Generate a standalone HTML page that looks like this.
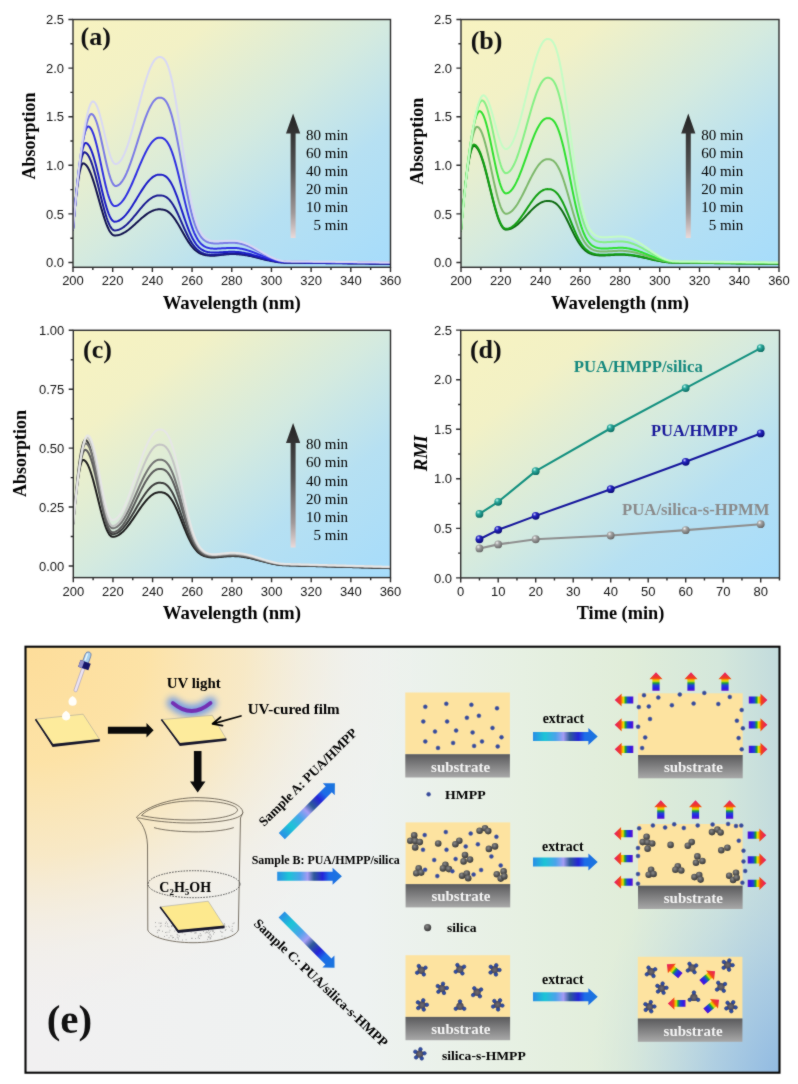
<!DOCTYPE html>
<html><head><meta charset="utf-8"><style>
html,body{margin:0;padding:0;background:#fff;}
svg{display:block;}
</style></head><body>
<svg width="798" height="1084" viewBox="0 0 798 1084">
<defs>
<linearGradient id="pbg" x1="0" y1="0" x2="1" y2="1"><stop offset="0" stop-color="#f8f3c0"/><stop offset="0.22" stop-color="#f2f1c6"/><stop offset="0.5" stop-color="#d4eadf"/><stop offset="0.72" stop-color="#b6e0f2"/><stop offset="1" stop-color="#a6dcfb"/></linearGradient>
<filter id="soft" filterUnits="userSpaceOnUse" x="0" y="0" width="798" height="1084" color-interpolation-filters="sRGB"><feConvolveMatrix order="3" kernelMatrix="1 2 1 2 20 2 1 2 1" divisor="32" edgeMode="duplicate" preserveAlpha="true"/></filter>
<clipPath id="clip_pa"><rect x="73" y="19.5" width="317.5" height="247.8"/></clipPath>
<linearGradient id="pa_arr" x1="0" y1="0" x2="0" y2="1"><stop offset="0" stop-color="#222"/><stop offset="0.45" stop-color="#555"/><stop offset="0.8" stop-color="#a09898"/><stop offset="1" stop-color="#eadada"/></linearGradient>
<clipPath id="clip_pb"><rect x="461" y="19.5" width="318" height="247.8"/></clipPath>
<linearGradient id="pb_arr" x1="0" y1="0" x2="0" y2="1"><stop offset="0" stop-color="#222"/><stop offset="0.45" stop-color="#555"/><stop offset="0.8" stop-color="#a09898"/><stop offset="1" stop-color="#eadada"/></linearGradient>
<clipPath id="clip_pc"><rect x="73.3" y="330.3" width="317.2" height="247.3"/></clipPath>
<linearGradient id="pc_arr" x1="0" y1="0" x2="0" y2="1"><stop offset="0" stop-color="#222"/><stop offset="0.45" stop-color="#555"/><stop offset="0.8" stop-color="#a09898"/><stop offset="1" stop-color="#eadada"/></linearGradient>
<radialGradient id="mt" cx="0.35" cy="0.3" r="0.7"><stop offset="0" stop-color="#bff5ee"/><stop offset="0.35" stop-color="#2aa89c"/><stop offset="1" stop-color="#0c6e64"/></radialGradient>
<radialGradient id="mn" cx="0.35" cy="0.3" r="0.7"><stop offset="0" stop-color="#c8c8ff"/><stop offset="0.35" stop-color="#2424c0"/><stop offset="1" stop-color="#0a0a78"/></radialGradient>
<radialGradient id="mg" cx="0.35" cy="0.3" r="0.7"><stop offset="0" stop-color="#f4f4f4"/><stop offset="0.35" stop-color="#a4a4a4"/><stop offset="1" stop-color="#6a6a6a"/></radialGradient>
<linearGradient id="ebase" x1="0" y1="0" x2="1" y2="0"><stop offset="0" stop-color="#f1f0f1"/><stop offset="0.45" stop-color="#eef2f1"/><stop offset="0.66" stop-color="#e6f0e2"/><stop offset="0.8" stop-color="#e0edd9"/><stop offset="0.92" stop-color="#d4e7db"/><stop offset="1" stop-color="#c2dbdd"/></linearGradient>
<radialGradient id="eorange" gradientUnits="userSpaceOnUse" cx="26" cy="648" r="400" gradientTransform="translate(26 648) scale(1 0.95) translate(-26 -648)"><stop offset="0" stop-color="#fddd9a" stop-opacity="1"/><stop offset="0.3" stop-color="#fde2a4" stop-opacity="0.97"/><stop offset="0.55" stop-color="#fae6b8" stop-opacity="0.75"/><stop offset="0.8" stop-color="#f4ecdc" stop-opacity="0.3"/><stop offset="1" stop-color="#f2eeea" stop-opacity="0"/></radialGradient>
<radialGradient id="eblue" gradientUnits="userSpaceOnUse" cx="795" cy="1090" r="230" gradientTransform="translate(795 1090) scale(0.9 1.25) translate(-795 -1090)"><stop offset="0" stop-color="#88b4e2" stop-opacity="1"/><stop offset="0.4" stop-color="#a2c6e4" stop-opacity="0.75"/><stop offset="1" stop-color="#c8dfe4" stop-opacity="0"/></radialGradient>
<linearGradient id="garr" x1="0" y1="0" x2="1" y2="0"><stop offset="0" stop-color="#2a8ee6"/><stop offset="0.18" stop-color="#1cc4d6"/><stop offset="0.35" stop-color="#4aa4ea"/><stop offset="0.47" stop-color="#a49cf4"/><stop offset="0.57" stop-color="#2e5a98"/><stop offset="0.7" stop-color="#2424d8"/><stop offset="0.8" stop-color="#1c6ce8"/><stop offset="1" stop-color="#1a76dc"/></linearGradient>
<linearGradient id="grain" x1="0" y1="0" x2="1" y2="0"><stop offset="0" stop-color="#6410cc"/><stop offset="0.14" stop-color="#2a1ee6"/><stop offset="0.3" stop-color="#2040d8"/><stop offset="0.42" stop-color="#16a040"/><stop offset="0.52" stop-color="#e4e400"/><stop offset="0.6" stop-color="#f8a400"/><stop offset="0.67" stop-color="#f04418"/><stop offset="1" stop-color="#e8186e"/></linearGradient>
<linearGradient id="gsub" x1="0" y1="0" x2="0" y2="1"><stop offset="0" stop-color="#5a5a5c"/><stop offset="1" stop-color="#a8a8a8"/></linearGradient>
<radialGradient id="gsil" cx="0.4" cy="0.35" r="0.65"><stop offset="0" stop-color="#8a8a8a"/><stop offset="0.6" stop-color="#555"/><stop offset="1" stop-color="#3a3a3a"/></radialGradient>
<radialGradient id="gstar" cx="0.5" cy="0.5" r="0.5"><stop offset="0" stop-color="#6c6a70"/><stop offset="1" stop-color="#4e4a58"/></radialGradient>
<g id="rarr"><path d="M0 -3.6 H11.6 V-6.6 L18.6 0 L11.6 6.6 V3.6 H0 Z" fill="url(#grain)"/></g>
<g id="barr"><path d="M0 -4.5 H55.4 V-8.5 L64.7 0 L55.4 8.5 V4.5 H0 Z" fill="url(#garr)"/></g>
<filter id="blur3" filterUnits="userSpaceOnUse" x="150" y="680" width="85" height="60"><feGaussianBlur stdDeviation="3.2"/></filter>
<g id="barrd"><path d="M0 -4.3 H66.3 V-8.5 L75 0 L66.3 8.5 V4.3 H0 Z" fill="url(#garr)"/></g>
</defs>
<g filter="url(#soft)">
<rect width="798" height="1084" fill="#fff"/>
<rect x="73" y="19.5" width="317.5" height="247.8" fill="url(#pbg)"/>
<text x="80.5" y="45.2" font-family="'Liberation Serif', serif" font-weight="bold" font-size="26" fill="#111">(a)</text>
<g clip-path="url(#clip_pa)">
<path d="M73 229.45 L73.5 223.62 L73.99 218.03 L74.49 212.69 L74.98 207.59 L75.48 202.74 L75.98 198.14 L76.47 193.79 L76.97 189.71 L77.46 185.89 L77.96 182.34 L78.46 179.06 L78.95 176.06 L79.45 173.34 L79.95 170.92 L80.44 168.81 L80.94 167 L81.43 165.53 L81.93 164.4 L82.43 163.66 L82.92 163.36 L83.42 163.4 L83.91 163.53 L84.41 163.75 L84.91 164.05 L85.4 164.44 L85.9 164.91 L86.39 165.46 L86.89 166.1 L87.39 166.82 L87.88 167.61 L88.38 168.49 L88.88 169.43 L89.37 170.45 L89.87 171.54 L90.36 172.7 L90.86 173.92 L91.36 175.2 L91.85 176.54 L92.35 177.94 L92.84 179.38 L93.34 180.88 L93.84 182.42 L94.33 184 L94.83 185.62 L95.32 187.27 L95.82 188.95 L96.32 190.66 L96.81 192.38 L97.31 194.13 L97.8 195.88 L98.3 197.65 L98.8 199.42 L99.29 201.19 L99.79 202.95 L100.29 204.71 L100.78 206.45 L101.28 208.18 L101.77 209.89 L102.27 211.57 L102.77 213.22 L103.76 216.42 L104.75 219.45 L105.74 222.29 L106.73 224.92 L107.73 227.29 L108.72 229.4 L109.71 231.22 L110.7 232.73 L111.7 233.93 L112.69 234.79 L113.68 235.3 L114.67 235.48 L115.66 235.45 L116.66 235.35 L117.65 235.19 L118.64 234.97 L119.63 234.69 L120.62 234.35 L121.62 233.95 L122.61 233.49 L123.6 232.98 L124.59 232.42 L125.59 231.81 L126.58 231.15 L127.57 230.45 L128.56 229.72 L129.55 228.94 L130.55 228.14 L131.54 227.3 L132.53 226.44 L133.52 225.57 L134.52 224.68 L135.51 223.77 L136.5 222.86 L137.49 221.95 L138.48 221.04 L139.48 220.13 L140.47 219.24 L141.46 218.37 L142.45 217.51 L143.45 216.67 L144.44 215.87 L145.43 215.09 L146.42 214.36 L147.41 213.66 L148.41 213 L149.4 212.39 L150.39 211.83 L151.38 211.32 L152.38 210.86 L153.37 210.46 L154.36 210.12 L155.35 209.84 L156.34 209.62 L157.34 209.46 L158.33 209.36 L159.32 209.33 L160.31 209.34 L161.3 209.38 L162.3 209.48 L163.29 209.65 L164.28 209.89 L165.27 210.23 L166.27 210.66 L167.26 211.2 L168.25 211.85 L169.24 212.62 L170.23 213.5 L171.23 214.49 L172.22 215.61 L173.21 216.83 L174.2 218.15 L175.2 219.57 L176.19 221.08 L177.18 222.66 L178.17 224.32 L179.16 226.02 L180.16 227.76 L181.15 229.53 L182.14 231.3 L183.13 233.07 L184.12 234.83 L185.12 236.55 L186.11 238.23 L187.1 239.85 L188.09 241.41 L189.09 242.89 L190.08 244.29 L191.07 245.6 L192.06 246.82 L193.05 247.95 L194.05 248.98 L195.04 249.92 L196.03 250.77 L197.02 251.53 L198.02 252.21 L199.01 252.8 L200 253.32 L200.99 253.77 L201.98 254.16 L202.98 254.49 L203.97 254.77 L204.96 255 L205.95 255.2 L206.95 255.36 L207.94 255.49 L208.93 255.6 L209.92 255.68 L210.91 255.72 L211.91 255.74 L212.9 255.72 L213.89 255.69 L214.88 255.63 L215.88 255.55 L216.87 255.46 L217.86 255.36 L218.85 255.25 L219.84 255.13 L220.84 255 L221.83 254.88 L222.82 254.76 L223.81 254.64 L224.8 254.53 L225.8 254.42 L226.79 254.33 L227.78 254.24 L228.77 254.17 L229.77 254.12 L230.76 254.08 L231.75 254.05 L232.74 254.04 L233.73 254.05 L234.73 254.07 L235.72 254.11 L236.71 254.16 L237.7 254.22 L238.7 254.3 L239.69 254.38 L240.68 254.49 L241.67 254.6 L242.66 254.73 L243.66 254.87 L244.65 255.02 L245.64 255.18 L246.63 255.35 L247.62 255.54 L248.62 255.73 L249.61 255.93 L250.6 256.14 L251.59 256.35 L252.59 256.57 L253.58 256.8 L254.57 257.03 L255.56 257.27 L256.55 257.51 L257.55 257.75 L258.54 258 L259.53 258.25 L260.52 258.49 L261.52 258.74 L262.51 258.98 L263.5 259.23 L264.49 259.47 L265.48 259.71 L266.48 259.94 L267.47 260.17 L268.46 260.39 L269.45 260.6 L270.45 260.81 L271.44 261.01 L272.43 261.2 L273.42 261.38 L274.41 261.56 L275.41 261.72 L276.4 261.87 L277.39 262.01 L278.38 262.14 L279.38 262.25 L280.37 262.35 L281.36 262.44 L282.35 262.52 L283.34 262.58 L284.34 262.63 L285.33 262.67 L286.32 262.69 L287.31 262.69 L288.3 262.71 L289.3 262.72 L290.29 262.73 L291.28 262.74 L292.27 262.75 L293.27 262.76 L294.26 262.77 L295.25 262.78 L296.24 262.8 L297.23 262.81 L298.23 262.82 L299.22 262.83 L300.21 262.84 L301.2 262.85 L302.2 262.86 L303.19 262.87 L304.18 262.89 L305.17 262.9 L306.16 262.91 L307.16 262.92 L308.15 262.93 L309.14 262.94 L310.13 262.95 L311.12 262.96 L312.12 262.97 L313.11 262.99 L314.1 263 L315.09 263.01 L316.09 263.02 L317.08 263.03 L318.07 263.04 L319.06 263.05 L320.05 263.06 L321.05 263.08 L322.04 263.09 L323.03 263.1 L324.02 263.11 L325.02 263.12 L326.01 263.13 L327 263.14 L327.99 263.15 L328.98 263.17 L329.98 263.18 L330.97 263.19 L331.96 263.2 L332.95 263.21 L333.95 263.22 L334.94 263.23 L335.93 263.24 L336.92 263.26 L337.91 263.27 L338.91 263.28 L339.9 263.29 L340.89 263.3 L341.88 263.31 L342.88 263.32 L343.87 263.33 L344.86 263.34 L345.85 263.36 L346.84 263.37 L347.84 263.38 L348.83 263.39 L349.82 263.4 L350.81 263.41 L351.8 263.42 L352.8 263.43 L353.79 263.45 L354.78 263.46 L355.77 263.47 L356.77 263.48 L357.76 263.49 L358.75 263.5 L359.74 263.51 L360.73 263.52 L361.73 263.54 L362.72 263.55 L363.71 263.56 L364.7 263.57 L365.7 263.58 L366.69 263.59 L367.68 263.6 L368.67 263.61 L369.66 263.63 L370.66 263.64 L371.65 263.65 L372.64 263.66 L373.63 263.67 L374.62 263.68 L375.62 263.69 L376.61 263.7 L377.6 263.71 L378.59 263.73 L379.59 263.74 L380.58 263.75 L381.57 263.76 L382.56 263.77 L383.55 263.78 L384.55 263.79 L385.54 263.8 L386.53 263.82 L387.52 263.83 L388.52 263.84 L389.51 263.85 L390.5 263.86" fill="none" stroke="#12124e" stroke-width="2.0" stroke-linejoin="round" stroke-linecap="round"/>
<path d="M73 229.45 L73.5 223.47 L73.99 217.7 L74.49 212.14 L74.98 206.81 L75.48 201.7 L75.98 196.82 L76.47 192.16 L76.97 187.73 L77.46 183.54 L77.96 179.58 L78.46 175.86 L78.95 172.38 L79.45 169.16 L79.95 166.18 L80.44 163.47 L80.94 161.02 L81.43 158.84 L81.93 156.95 L82.43 155.34 L82.92 154.05 L83.42 153.07 L83.91 152.46 L84.41 152.28 L84.91 152.35 L85.4 152.52 L85.9 152.8 L86.39 153.18 L86.89 153.66 L87.39 154.24 L87.88 154.91 L88.38 155.69 L88.88 156.55 L89.37 157.51 L89.87 158.56 L90.36 159.69 L90.86 160.91 L91.36 162.2 L91.85 163.58 L92.35 165.03 L92.84 166.54 L93.34 168.12 L93.84 169.77 L94.33 171.47 L94.83 173.22 L95.32 175.02 L95.82 176.86 L96.32 178.74 L96.81 180.66 L97.31 182.6 L97.8 184.56 L98.3 186.55 L98.8 188.54 L99.29 190.55 L99.79 192.55 L100.29 194.56 L100.78 196.55 L101.28 198.53 L101.77 200.49 L102.27 202.43 L102.77 204.34 L103.76 208.04 L104.75 211.58 L105.74 214.9 L106.73 217.97 L107.73 220.76 L108.72 223.24 L109.71 225.39 L110.7 227.18 L111.7 228.59 L112.69 229.6 L113.68 230.22 L114.67 230.42 L115.66 230.38 L116.66 230.25 L117.65 230.04 L118.64 229.75 L119.63 229.37 L120.62 228.91 L121.62 228.38 L122.61 227.77 L123.6 227.08 L124.59 226.33 L125.59 225.51 L126.58 224.64 L127.57 223.7 L128.56 222.71 L129.55 221.68 L130.55 220.6 L131.54 219.48 L132.53 218.33 L133.52 217.16 L134.52 215.97 L135.51 214.76 L136.5 213.54 L137.49 212.32 L138.48 211.1 L139.48 209.89 L140.47 208.7 L141.46 207.52 L142.45 206.37 L143.45 205.26 L144.44 204.18 L145.43 203.14 L146.42 202.16 L147.41 201.22 L148.41 200.34 L149.4 199.53 L150.39 198.77 L151.38 198.09 L152.38 197.48 L153.37 196.94 L154.36 196.49 L155.35 196.11 L156.34 195.81 L157.34 195.6 L158.33 195.47 L159.32 195.43 L160.31 195.44 L161.3 195.5 L162.3 195.62 L163.29 195.83 L164.28 196.15 L165.27 196.58 L166.27 197.13 L167.26 197.83 L168.25 198.66 L169.24 199.64 L170.23 200.77 L171.23 202.05 L172.22 203.47 L173.21 205.03 L174.2 206.73 L175.2 208.55 L176.19 210.48 L177.18 212.52 L178.17 214.63 L179.16 216.81 L180.16 219.04 L181.15 221.31 L182.14 223.58 L183.13 225.85 L184.12 228.1 L185.12 230.3 L186.11 232.45 L187.1 234.53 L188.09 236.53 L189.09 238.43 L190.08 240.22 L191.07 241.9 L192.06 243.47 L193.05 244.91 L194.05 246.24 L195.04 247.44 L196.03 248.53 L197.02 249.5 L198.02 250.36 L199.01 251.13 L200 251.79 L200.99 252.37 L201.98 252.87 L202.98 253.29 L203.97 253.65 L204.96 253.95 L205.95 254.2 L206.95 254.41 L207.94 254.58 L208.93 254.71 L209.92 254.82 L210.91 254.89 L211.91 254.92 L212.9 254.93 L213.89 254.91 L214.88 254.87 L215.88 254.82 L216.87 254.75 L217.86 254.66 L218.85 254.57 L219.84 254.47 L220.84 254.37 L221.83 254.27 L222.82 254.16 L223.81 254.06 L224.8 253.97 L225.8 253.88 L226.79 253.8 L227.78 253.73 L228.77 253.67 L229.77 253.62 L230.76 253.59 L231.75 253.56 L232.74 253.56 L233.73 253.56 L234.73 253.59 L235.72 253.62 L236.71 253.67 L237.7 253.74 L238.7 253.82 L239.69 253.91 L240.68 254.02 L241.67 254.14 L242.66 254.27 L243.66 254.41 L244.65 254.57 L245.64 254.73 L246.63 254.91 L247.62 255.1 L248.62 255.3 L249.61 255.51 L250.6 255.72 L251.59 255.94 L252.59 256.17 L253.58 256.41 L254.57 256.65 L255.56 256.89 L256.55 257.14 L257.55 257.39 L258.54 257.65 L259.53 257.9 L260.52 258.16 L261.52 258.41 L262.51 258.67 L263.5 258.92 L264.49 259.17 L265.48 259.41 L266.48 259.65 L267.47 259.89 L268.46 260.12 L269.45 260.34 L270.45 260.55 L271.44 260.76 L272.43 260.96 L273.42 261.14 L274.41 261.32 L275.41 261.49 L276.4 261.65 L277.39 261.79 L278.38 261.92 L279.38 262.04 L280.37 262.15 L281.36 262.24 L282.35 262.32 L283.34 262.38 L284.34 262.43 L285.33 262.47 L286.32 262.49 L287.31 262.5 L288.3 262.51 L289.3 262.52 L290.29 262.53 L291.28 262.54 L292.27 262.56 L293.27 262.57 L294.26 262.58 L295.25 262.59 L296.24 262.6 L297.23 262.61 L298.23 262.62 L299.22 262.63 L300.21 262.65 L301.2 262.66 L302.2 262.67 L303.19 262.68 L304.18 262.69 L305.17 262.7 L306.16 262.71 L307.16 262.72 L308.15 262.74 L309.14 262.75 L310.13 262.76 L311.12 262.77 L312.12 262.78 L313.11 262.79 L314.1 262.8 L315.09 262.81 L316.09 262.83 L317.08 262.84 L318.07 262.85 L319.06 262.86 L320.05 262.87 L321.05 262.88 L322.04 262.89 L323.03 262.9 L324.02 262.91 L325.02 262.93 L326.01 262.94 L327 262.95 L327.99 262.96 L328.98 262.97 L329.98 262.98 L330.97 262.99 L331.96 263 L332.95 263.02 L333.95 263.03 L334.94 263.04 L335.93 263.05 L336.92 263.06 L337.91 263.07 L338.91 263.08 L339.9 263.09 L340.89 263.11 L341.88 263.12 L342.88 263.13 L343.87 263.14 L344.86 263.15 L345.85 263.16 L346.84 263.17 L347.84 263.18 L348.83 263.2 L349.82 263.21 L350.81 263.22 L351.8 263.23 L352.8 263.24 L353.79 263.25 L354.78 263.26 L355.77 263.27 L356.77 263.29 L357.76 263.3 L358.75 263.31 L359.74 263.32 L360.73 263.33 L361.73 263.34 L362.72 263.35 L363.71 263.36 L364.7 263.37 L365.7 263.39 L366.69 263.4 L367.68 263.41 L368.67 263.42 L369.66 263.43 L370.66 263.44 L371.65 263.45 L372.64 263.46 L373.63 263.48 L374.62 263.49 L375.62 263.5 L376.61 263.51 L377.6 263.52 L378.59 263.53 L379.59 263.54 L380.58 263.55 L381.57 263.57 L382.56 263.58 L383.55 263.59 L384.55 263.6 L385.54 263.61 L386.53 263.62 L387.52 263.63 L388.52 263.64 L389.51 263.66 L390.5 263.67" fill="none" stroke="#1a1a92" stroke-width="2.0" stroke-linejoin="round" stroke-linecap="round"/>
<path d="M73 229.45 L73.5 223.37 L73.99 217.49 L74.49 211.8 L74.98 206.32 L75.48 201.04 L75.98 195.97 L76.47 191.1 L76.97 186.44 L77.46 182 L77.96 177.77 L78.46 173.75 L78.95 169.96 L79.45 166.39 L79.95 163.04 L80.44 159.93 L80.94 157.05 L81.43 154.41 L81.93 152.02 L82.43 149.88 L82.92 147.99 L83.42 146.38 L83.91 145.05 L84.41 144.02 L84.91 143.3 L85.4 142.96 L85.9 142.98 L86.39 143.13 L86.89 143.38 L87.39 143.75 L87.88 144.23 L88.38 144.82 L88.88 145.51 L89.37 146.31 L89.87 147.22 L90.36 148.22 L90.86 149.32 L91.36 150.51 L91.85 151.8 L92.35 153.17 L92.84 154.62 L93.34 156.16 L93.84 157.77 L94.33 159.44 L94.83 161.19 L95.32 162.99 L95.82 164.85 L96.32 166.76 L96.81 168.71 L97.31 170.71 L97.8 172.73 L98.3 174.78 L98.8 176.86 L99.29 178.95 L99.79 181.05 L100.29 183.15 L100.78 185.25 L101.28 187.34 L101.77 189.42 L102.27 191.48 L102.77 193.51 L103.76 197.47 L104.75 201.26 L105.74 204.83 L106.73 208.15 L107.73 211.17 L108.72 213.86 L109.71 216.19 L110.7 218.13 L111.7 219.67 L112.69 220.78 L113.68 221.45 L114.67 221.68 L115.66 221.62 L116.66 221.45 L117.65 221.16 L118.64 220.76 L119.63 220.26 L120.62 219.64 L121.62 218.92 L122.61 218.1 L123.6 217.18 L124.59 216.17 L125.59 215.07 L126.58 213.89 L127.57 212.64 L128.56 211.31 L129.55 209.91 L130.55 208.47 L131.54 206.97 L132.53 205.42 L133.52 203.84 L134.52 202.24 L135.51 200.61 L136.5 198.97 L137.49 197.33 L138.48 195.69 L139.48 194.07 L140.47 192.46 L141.46 190.88 L142.45 189.34 L143.45 187.84 L144.44 186.39 L145.43 185 L146.42 183.67 L147.41 182.41 L148.41 181.23 L149.4 180.13 L150.39 179.12 L151.38 178.21 L152.38 177.38 L153.37 176.66 L154.36 176.05 L155.35 175.54 L156.34 175.15 L157.34 174.86 L158.33 174.69 L159.32 174.63 L160.31 174.65 L161.3 174.72 L162.3 174.88 L163.29 175.16 L164.28 175.57 L165.27 176.13 L166.27 176.86 L167.26 177.76 L168.25 178.85 L169.24 180.13 L170.23 181.61 L171.23 183.28 L172.22 185.14 L173.21 187.18 L174.2 189.4 L175.2 191.78 L176.19 194.31 L177.18 196.96 L178.17 199.73 L179.16 202.58 L180.16 205.5 L181.15 208.46 L182.14 211.43 L183.13 214.4 L184.12 217.34 L185.12 220.22 L186.11 223.03 L187.1 225.75 L188.09 228.36 L189.09 230.84 L190.08 233.18 L191.07 235.38 L192.06 237.43 L193.05 239.32 L194.05 241.05 L195.04 242.62 L196.03 244.04 L197.02 245.32 L198.02 246.45 L199.01 247.44 L200 248.31 L200.99 249.07 L201.98 249.72 L202.98 250.27 L203.97 250.74 L204.96 251.13 L205.95 251.46 L206.95 251.73 L207.94 251.95 L208.93 252.13 L209.92 252.27 L210.91 252.38 L211.91 252.45 L212.9 252.49 L213.89 252.51 L214.88 252.51 L215.88 252.5 L216.87 252.47 L217.86 252.43 L218.85 252.38 L219.84 252.33 L220.84 252.28 L221.83 252.22 L222.82 252.16 L223.81 252.1 L224.8 252.05 L225.8 252 L226.79 251.95 L227.78 251.91 L228.77 251.87 L229.77 251.84 L230.76 251.82 L231.75 251.81 L232.74 251.81 L233.73 251.82 L234.73 251.84 L235.72 251.88 L236.71 251.94 L237.7 252.02 L238.7 252.11 L239.69 252.22 L240.68 252.34 L241.67 252.48 L242.66 252.63 L243.66 252.8 L244.65 252.98 L245.64 253.18 L246.63 253.38 L247.62 253.6 L248.62 253.83 L249.61 254.07 L250.6 254.32 L251.59 254.58 L252.59 254.85 L253.58 255.12 L254.57 255.4 L255.56 255.69 L256.55 255.98 L257.55 256.27 L258.54 256.56 L259.53 256.86 L260.52 257.16 L261.52 257.45 L262.51 257.75 L263.5 258.04 L264.49 258.33 L265.48 258.62 L266.48 258.89 L267.47 259.17 L268.46 259.43 L269.45 259.69 L270.45 259.94 L271.44 260.18 L272.43 260.41 L273.42 260.63 L274.41 260.84 L275.41 261.03 L276.4 261.22 L277.39 261.38 L278.38 261.54 L279.38 261.67 L280.37 261.8 L281.36 261.91 L282.35 262 L283.34 262.07 L284.34 262.13 L285.33 262.17 L286.32 262.2 L287.31 262.21 L288.3 262.22 L289.3 262.23 L290.29 262.24 L291.28 262.25 L292.27 262.26 L293.27 262.28 L294.26 262.29 L295.25 262.3 L296.24 262.31 L297.23 262.32 L298.23 262.33 L299.22 262.34 L300.21 262.35 L301.2 262.37 L302.2 262.38 L303.19 262.39 L304.18 262.4 L305.17 262.41 L306.16 262.42 L307.16 262.43 L308.15 262.44 L309.14 262.46 L310.13 262.47 L311.12 262.48 L312.12 262.49 L313.11 262.5 L314.1 262.51 L315.09 262.52 L316.09 262.53 L317.08 262.54 L318.07 262.56 L319.06 262.57 L320.05 262.58 L321.05 262.59 L322.04 262.6 L323.03 262.61 L324.02 262.62 L325.02 262.63 L326.01 262.65 L327 262.66 L327.99 262.67 L328.98 262.68 L329.98 262.69 L330.97 262.7 L331.96 262.71 L332.95 262.72 L333.95 262.74 L334.94 262.75 L335.93 262.76 L336.92 262.77 L337.91 262.78 L338.91 262.79 L339.9 262.8 L340.89 262.81 L341.88 262.83 L342.88 262.84 L343.87 262.85 L344.86 262.86 L345.85 262.87 L346.84 262.88 L347.84 262.89 L348.83 262.9 L349.82 262.91 L350.81 262.93 L351.8 262.94 L352.8 262.95 L353.79 262.96 L354.78 262.97 L355.77 262.98 L356.77 262.99 L357.76 263 L358.75 263.02 L359.74 263.03 L360.73 263.04 L361.73 263.05 L362.72 263.06 L363.71 263.07 L364.7 263.08 L365.7 263.09 L366.69 263.11 L367.68 263.12 L368.67 263.13 L369.66 263.14 L370.66 263.15 L371.65 263.16 L372.64 263.17 L373.63 263.18 L374.62 263.2 L375.62 263.21 L376.61 263.22 L377.6 263.23 L378.59 263.24 L379.59 263.25 L380.58 263.26 L381.57 263.27 L382.56 263.29 L383.55 263.3 L384.55 263.31 L385.54 263.32 L386.53 263.33 L387.52 263.34 L388.52 263.35 L389.51 263.36 L390.5 263.37" fill="none" stroke="#1c1cc8" stroke-width="2.0" stroke-linejoin="round" stroke-linecap="round"/>
<path d="M73 229.45 L73.5 223.43 L73.99 217.57 L74.49 211.88 L74.98 206.35 L75.48 200.98 L75.98 195.78 L76.47 190.75 L76.97 185.88 L77.46 181.19 L77.96 176.67 L78.46 172.32 L78.95 168.15 L79.45 164.16 L79.95 160.34 L80.44 156.71 L80.94 153.26 L81.43 150 L81.93 146.93 L82.43 144.05 L82.92 141.36 L83.42 138.88 L83.91 136.59 L84.41 134.52 L84.91 132.66 L85.4 131.01 L85.9 129.6 L86.39 128.42 L86.89 127.49 L87.39 126.82 L87.88 126.46 L88.38 126.44 L88.88 126.6 L89.37 126.88 L89.87 127.3 L90.36 127.86 L90.86 128.55 L91.36 129.36 L91.85 130.31 L92.35 131.38 L92.84 132.56 L93.34 133.87 L93.84 135.28 L94.33 136.8 L94.83 138.42 L95.32 140.14 L95.82 141.95 L96.32 143.84 L96.81 145.81 L97.31 147.85 L97.8 149.95 L98.3 152.11 L98.8 154.31 L99.29 156.56 L99.79 158.84 L100.29 161.15 L100.78 163.47 L101.28 165.8 L101.77 168.14 L102.27 170.47 L102.77 172.78 L103.76 177.34 L104.75 181.74 L105.74 185.93 L106.73 189.85 L107.73 193.44 L108.72 196.67 L109.71 199.47 L110.7 201.82 L111.7 203.68 L112.69 205.03 L113.68 205.85 L114.67 206.12 L115.66 206.04 L116.66 205.79 L117.65 205.38 L118.64 204.8 L119.63 204.06 L120.62 203.17 L121.62 202.12 L122.61 200.93 L123.6 199.59 L124.59 198.12 L125.59 196.52 L126.58 194.8 L127.57 192.97 L128.56 191.04 L129.55 189.02 L130.55 186.91 L131.54 184.73 L132.53 182.48 L133.52 180.19 L134.52 177.85 L135.51 175.49 L136.5 173.1 L137.49 170.72 L138.48 168.33 L139.48 165.97 L140.47 163.63 L141.46 161.34 L142.45 159.09 L143.45 156.91 L144.44 154.8 L145.43 152.78 L146.42 150.85 L147.41 149.02 L148.41 147.3 L149.4 145.7 L150.39 144.23 L151.38 142.89 L152.38 141.7 L153.37 140.65 L154.36 139.76 L155.35 139.02 L156.34 138.44 L157.34 138.03 L158.33 137.78 L159.32 137.7 L160.31 137.72 L161.3 137.82 L162.3 138.05 L163.29 138.44 L164.28 139.03 L165.27 139.83 L166.27 140.86 L167.26 142.15 L168.25 143.7 L169.24 145.53 L170.23 147.63 L171.23 150.01 L172.22 152.66 L173.21 155.57 L174.2 158.73 L175.2 162.12 L176.19 165.72 L177.18 169.5 L178.17 173.44 L179.16 177.5 L180.16 181.65 L181.15 185.87 L182.14 190.1 L183.13 194.33 L184.12 198.51 L185.12 202.62 L186.11 206.62 L187.1 210.49 L188.09 214.21 L189.09 217.74 L190.08 221.08 L191.07 224.21 L192.06 227.13 L193.05 229.82 L194.05 232.28 L195.04 234.53 L196.03 236.55 L197.02 238.36 L198.02 239.97 L199.01 241.39 L200 242.62 L200.99 243.7 L201.98 244.62 L202.98 245.41 L203.97 246.08 L204.96 246.64 L205.95 247.11 L206.95 247.5 L207.94 247.81 L208.93 248.07 L209.92 248.27 L210.91 248.42 L211.91 248.53 L212.9 248.6 L213.89 248.64 L214.88 248.65 L215.88 248.65 L216.87 248.63 L217.86 248.59 L218.85 248.54 L219.84 248.49 L220.84 248.43 L221.83 248.37 L222.82 248.3 L223.81 248.24 L224.8 248.18 L225.8 248.13 L226.79 248.07 L227.78 248.03 L228.77 247.99 L229.77 247.96 L230.76 247.94 L231.75 247.92 L232.74 247.92 L233.73 247.93 L234.73 247.97 L235.72 248.02 L236.71 248.1 L237.7 248.2 L238.7 248.33 L239.69 248.47 L240.68 248.64 L241.67 248.82 L242.66 249.03 L243.66 249.26 L244.65 249.5 L245.64 249.76 L246.63 250.04 L247.62 250.34 L248.62 250.64 L249.61 250.97 L250.6 251.3 L251.59 251.65 L252.59 252.01 L253.58 252.38 L254.57 252.76 L255.56 253.14 L256.55 253.53 L257.55 253.92 L258.54 254.32 L259.53 254.72 L260.52 255.12 L261.52 255.52 L262.51 255.91 L263.5 256.31 L264.49 256.7 L265.48 257.08 L266.48 257.46 L267.47 257.83 L268.46 258.18 L269.45 258.53 L270.45 258.87 L271.44 259.19 L272.43 259.5 L273.42 259.8 L274.41 260.07 L275.41 260.34 L276.4 260.58 L277.39 260.81 L278.38 261.01 L279.38 261.2 L280.37 261.36 L281.36 261.51 L282.35 261.63 L283.34 261.73 L284.34 261.81 L285.33 261.87 L286.32 261.91 L287.31 261.92 L288.3 261.93 L289.3 261.94 L290.29 261.95 L291.28 261.96 L292.27 261.97 L293.27 261.98 L294.26 262 L295.25 262.01 L296.24 262.02 L297.23 262.03 L298.23 262.04 L299.22 262.05 L300.21 262.06 L301.2 262.07 L302.2 262.09 L303.19 262.1 L304.18 262.11 L305.17 262.12 L306.16 262.13 L307.16 262.14 L308.15 262.15 L309.14 262.16 L310.13 262.17 L311.12 262.19 L312.12 262.2 L313.11 262.21 L314.1 262.22 L315.09 262.23 L316.09 262.24 L317.08 262.25 L318.07 262.26 L319.06 262.28 L320.05 262.29 L321.05 262.3 L322.04 262.31 L323.03 262.32 L324.02 262.33 L325.02 262.34 L326.01 262.35 L327 262.37 L327.99 262.38 L328.98 262.39 L329.98 262.4 L330.97 262.41 L331.96 262.42 L332.95 262.43 L333.95 262.44 L334.94 262.46 L335.93 262.47 L336.92 262.48 L337.91 262.49 L338.91 262.5 L339.9 262.51 L340.89 262.52 L341.88 262.53 L342.88 262.54 L343.87 262.56 L344.86 262.57 L345.85 262.58 L346.84 262.59 L347.84 262.6 L348.83 262.61 L349.82 262.62 L350.81 262.63 L351.8 262.65 L352.8 262.66 L353.79 262.67 L354.78 262.68 L355.77 262.69 L356.77 262.7 L357.76 262.71 L358.75 262.72 L359.74 262.74 L360.73 262.75 L361.73 262.76 L362.72 262.77 L363.71 262.78 L364.7 262.79 L365.7 262.8 L366.69 262.81 L367.68 262.83 L368.67 262.84 L369.66 262.85 L370.66 262.86 L371.65 262.87 L372.64 262.88 L373.63 262.89 L374.62 262.9 L375.62 262.91 L376.61 262.93 L377.6 262.94 L378.59 262.95 L379.59 262.96 L380.58 262.97 L381.57 262.98 L382.56 262.99 L383.55 263 L384.55 263.02 L385.54 263.03 L386.53 263.04 L387.52 263.05 L388.52 263.06 L389.51 263.07 L390.5 263.08" fill="none" stroke="#2e2ee2" stroke-width="2.0" stroke-linejoin="round" stroke-linecap="round"/>
<path d="M73 229.45 L73.5 223.87 L73.99 218.4 L74.49 213.06 L74.98 207.85 L75.48 202.76 L75.98 197.8 L76.47 192.96 L76.97 188.26 L77.46 183.68 L77.96 179.23 L78.46 174.91 L78.95 170.73 L79.45 166.68 L79.95 162.76 L80.44 158.97 L80.94 155.33 L81.43 151.82 L81.93 148.45 L82.43 145.22 L82.92 142.13 L83.42 139.19 L83.91 136.39 L84.41 133.74 L84.91 131.23 L85.4 128.88 L85.9 126.69 L86.39 124.65 L86.89 122.77 L87.39 121.05 L87.88 119.51 L88.38 118.13 L88.88 116.93 L89.37 115.92 L89.87 115.1 L90.36 114.48 L90.86 114.1 L91.36 113.98 L91.85 114.08 L92.35 114.33 L92.84 114.73 L93.34 115.27 L93.84 115.95 L94.33 116.76 L94.83 117.72 L95.32 118.8 L95.82 120.02 L96.32 121.35 L96.81 122.8 L97.31 124.36 L97.8 126.03 L98.3 127.8 L98.8 129.65 L99.29 131.59 L99.79 133.6 L100.29 135.68 L100.78 137.82 L101.28 140.01 L101.77 142.23 L102.27 144.49 L102.77 146.78 L103.76 151.37 L104.75 155.94 L105.74 160.42 L106.73 164.72 L107.73 168.79 L108.72 172.55 L109.71 175.94 L110.7 178.91 L111.7 181.41 L112.69 183.39 L113.68 184.84 L114.67 185.71 L115.66 186 L116.66 185.89 L117.65 185.55 L118.64 184.99 L119.63 184.21 L120.62 183.22 L121.62 182.01 L122.61 180.6 L123.6 178.99 L124.59 177.19 L125.59 175.21 L126.58 173.06 L127.57 170.76 L128.56 168.3 L129.55 165.71 L130.55 163 L131.54 160.18 L132.53 157.26 L133.52 154.27 L134.52 151.22 L135.51 148.11 L136.5 144.98 L137.49 141.83 L138.48 138.67 L139.48 135.54 L140.47 132.44 L141.46 129.38 L142.45 126.39 L143.45 123.47 L144.44 120.65 L145.43 117.94 L146.42 115.35 L147.41 112.9 L148.41 110.59 L149.4 108.44 L150.39 106.46 L151.38 104.66 L152.38 103.05 L153.37 101.64 L154.36 100.43 L155.35 99.44 L156.34 98.66 L157.34 98.1 L158.33 97.76 L159.32 97.65 L160.31 97.68 L161.3 97.81 L162.3 98.11 L163.29 98.63 L164.28 99.4 L165.27 100.45 L166.27 101.81 L167.26 103.5 L168.25 105.54 L169.24 107.94 L170.23 110.7 L171.23 113.83 L172.22 117.31 L173.21 121.13 L174.2 125.28 L175.2 129.73 L176.19 134.46 L177.18 139.43 L178.17 144.6 L179.16 149.93 L180.16 155.39 L181.15 160.92 L182.14 166.49 L183.13 172.04 L184.12 177.54 L185.12 182.93 L186.11 188.19 L187.1 193.27 L188.09 198.15 L189.09 202.79 L190.08 207.18 L191.07 211.29 L192.06 215.12 L193.05 218.65 L194.05 221.89 L195.04 224.84 L196.03 227.5 L197.02 229.87 L198.02 231.99 L199.01 233.85 L200 235.48 L200.99 236.89 L201.98 238.1 L202.98 239.14 L203.97 240.02 L204.96 240.76 L205.95 241.37 L206.95 241.88 L207.94 242.29 L208.93 242.63 L209.92 242.89 L210.91 243.1 L211.91 243.24 L212.9 243.35 L213.89 243.41 L214.88 243.45 L215.88 243.46 L216.87 243.44 L217.86 243.42 L218.85 243.38 L219.84 243.33 L220.84 243.27 L221.83 243.21 L222.82 243.15 L223.81 243.09 L224.8 243.03 L225.8 242.97 L226.79 242.92 L227.78 242.88 L228.77 242.84 L229.77 242.81 L230.76 242.79 L231.75 242.77 L232.74 242.77 L233.73 242.78 L234.73 242.83 L235.72 242.91 L236.71 243.01 L237.7 243.15 L238.7 243.32 L239.69 243.51 L240.68 243.74 L241.67 243.99 L242.66 244.27 L243.66 244.57 L244.65 244.9 L245.64 245.25 L246.63 245.63 L247.62 246.02 L248.62 246.44 L249.61 246.88 L250.6 247.33 L251.59 247.8 L252.59 248.28 L253.58 248.78 L254.57 249.28 L255.56 249.8 L256.55 250.32 L257.55 250.85 L258.54 251.39 L259.53 251.93 L260.52 252.47 L261.52 253 L262.51 253.54 L263.5 254.07 L264.49 254.59 L265.48 255.11 L266.48 255.62 L267.47 256.11 L268.46 256.6 L269.45 257.07 L270.45 257.52 L271.44 257.95 L272.43 258.37 L273.42 258.77 L274.41 259.14 L275.41 259.5 L276.4 259.82 L277.39 260.13 L278.38 260.41 L279.38 260.66 L280.37 260.88 L281.36 261.08 L282.35 261.24 L283.34 261.38 L284.34 261.49 L285.33 261.56 L286.32 261.61 L287.31 261.63 L288.3 261.64 L289.3 261.65 L290.29 261.66 L291.28 261.67 L292.27 261.68 L293.27 261.69 L294.26 261.7 L295.25 261.71 L296.24 261.73 L297.23 261.74 L298.23 261.75 L299.22 261.76 L300.21 261.77 L301.2 261.78 L302.2 261.79 L303.19 261.8 L304.18 261.82 L305.17 261.83 L306.16 261.84 L307.16 261.85 L308.15 261.86 L309.14 261.87 L310.13 261.88 L311.12 261.89 L312.12 261.91 L313.11 261.92 L314.1 261.93 L315.09 261.94 L316.09 261.95 L317.08 261.96 L318.07 261.97 L319.06 261.98 L320.05 262 L321.05 262.01 L322.04 262.02 L323.03 262.03 L324.02 262.04 L325.02 262.05 L326.01 262.06 L327 262.07 L327.99 262.09 L328.98 262.1 L329.98 262.11 L330.97 262.12 L331.96 262.13 L332.95 262.14 L333.95 262.15 L334.94 262.16 L335.93 262.17 L336.92 262.19 L337.91 262.2 L338.91 262.21 L339.9 262.22 L340.89 262.23 L341.88 262.24 L342.88 262.25 L343.87 262.26 L344.86 262.28 L345.85 262.29 L346.84 262.3 L347.84 262.31 L348.83 262.32 L349.82 262.33 L350.81 262.34 L351.8 262.35 L352.8 262.37 L353.79 262.38 L354.78 262.39 L355.77 262.4 L356.77 262.41 L357.76 262.42 L358.75 262.43 L359.74 262.44 L360.73 262.46 L361.73 262.47 L362.72 262.48 L363.71 262.49 L364.7 262.5 L365.7 262.51 L366.69 262.52 L367.68 262.53 L368.67 262.54 L369.66 262.56 L370.66 262.57 L371.65 262.58 L372.64 262.59 L373.63 262.6 L374.62 262.61 L375.62 262.62 L376.61 262.63 L377.6 262.65 L378.59 262.66 L379.59 262.67 L380.58 262.68 L381.57 262.69 L382.56 262.7 L383.55 262.71 L384.55 262.72 L385.54 262.74 L386.53 262.75 L387.52 262.76 L388.52 262.77 L389.51 262.78 L390.5 262.79" fill="none" stroke="#7a7ae6" stroke-width="2.0" stroke-linejoin="round" stroke-linecap="round"/>
<path d="M73 229.45 L73.5 223.75 L73.99 218.16 L74.49 212.69 L74.98 207.34 L75.48 202.1 L75.98 196.98 L76.47 191.99 L76.97 187.11 L77.46 182.35 L77.96 177.71 L78.46 173.2 L78.95 168.8 L79.45 164.54 L79.95 160.39 L80.44 156.37 L80.94 152.48 L81.43 148.72 L81.93 145.08 L82.43 141.58 L82.92 138.2 L83.42 134.96 L83.91 131.85 L84.41 128.88 L84.91 126.04 L85.4 123.34 L85.9 120.78 L86.39 118.37 L86.89 116.1 L87.39 113.97 L87.88 112 L88.38 110.17 L88.88 108.5 L89.37 107 L89.87 105.65 L90.36 104.47 L90.86 103.47 L91.36 102.65 L91.85 102.02 L92.35 101.61 L92.84 101.44 L93.34 101.51 L93.84 101.73 L94.33 102.09 L94.83 102.6 L95.32 103.25 L95.82 104.03 L96.32 104.95 L96.81 106 L97.31 107.17 L97.8 108.46 L98.3 109.86 L98.8 111.38 L99.29 112.99 L99.79 114.69 L100.29 116.48 L100.78 118.34 L101.28 120.27 L101.77 122.26 L102.27 124.29 L102.77 126.37 L103.76 130.6 L104.75 134.87 L105.74 139.11 L106.73 143.22 L107.73 147.14 L108.72 150.79 L109.71 154.1 L110.7 157.02 L111.7 159.48 L112.69 161.45 L113.68 162.88 L114.67 163.74 L115.66 164.04 L116.66 163.9 L117.65 163.49 L118.64 162.81 L119.63 161.87 L120.62 160.66 L121.62 159.2 L122.61 157.49 L123.6 155.54 L124.59 153.36 L125.59 150.97 L126.58 148.36 L127.57 145.57 L128.56 142.59 L129.55 139.46 L130.55 136.17 L131.54 132.76 L132.53 129.23 L133.52 125.6 L134.52 121.9 L135.51 118.14 L136.5 114.35 L137.49 110.53 L138.48 106.71 L139.48 102.91 L140.47 99.15 L141.46 95.45 L142.45 91.83 L143.45 88.3 L144.44 84.88 L145.43 81.6 L146.42 78.46 L147.41 75.49 L148.41 72.69 L149.4 70.09 L150.39 67.69 L151.38 65.51 L152.38 63.56 L153.37 61.85 L154.36 60.39 L155.35 59.19 L156.34 58.24 L157.34 57.56 L158.33 57.16 L159.32 57.02 L160.31 57.05 L161.3 57.22 L162.3 57.61 L163.29 58.26 L164.28 59.23 L165.27 60.56 L166.27 62.27 L167.26 64.41 L168.25 66.99 L169.24 70.01 L170.23 73.5 L171.23 77.45 L172.22 81.84 L173.21 86.67 L174.2 91.91 L175.2 97.53 L176.19 103.5 L177.18 109.77 L178.17 116.3 L179.16 123.03 L180.16 129.92 L181.15 136.91 L182.14 143.94 L183.13 150.95 L184.12 157.89 L185.12 164.7 L186.11 171.34 L187.1 177.75 L188.09 183.91 L189.09 189.78 L190.08 195.31 L191.07 200.51 L192.06 205.34 L193.05 209.8 L194.05 213.89 L195.04 217.61 L196.03 220.97 L197.02 223.97 L198.02 226.64 L199.01 228.99 L200 231.05 L200.99 232.83 L201.98 234.36 L202.98 235.67 L203.97 236.78 L204.96 237.71 L205.95 238.49 L206.95 239.12 L207.94 239.65 L208.93 240.07 L209.92 240.41 L210.91 240.67 L211.91 240.87 L212.9 241.01 L213.89 241.1 L214.88 241.16 L215.88 241.19 L216.87 241.2 L217.86 241.19 L218.85 241.16 L219.84 241.12 L220.84 241.07 L221.83 241.02 L222.82 240.97 L223.81 240.92 L224.8 240.86 L225.8 240.81 L226.79 240.77 L227.78 240.73 L228.77 240.69 L229.77 240.67 L230.76 240.65 L231.75 240.63 L232.74 240.63 L233.73 240.65 L234.73 240.7 L235.72 240.78 L236.71 240.9 L237.7 241.05 L238.7 241.23 L239.69 241.45 L240.68 241.69 L241.67 241.97 L242.66 242.27 L243.66 242.61 L244.65 242.97 L245.64 243.36 L246.63 243.77 L247.62 244.2 L248.62 244.66 L249.61 245.14 L250.6 245.64 L251.59 246.15 L252.59 246.68 L253.58 247.23 L254.57 247.78 L255.56 248.35 L256.55 248.93 L257.55 249.51 L258.54 250.1 L259.53 250.69 L260.52 251.28 L261.52 251.87 L262.51 252.46 L263.5 253.04 L264.49 253.61 L265.48 254.18 L266.48 254.74 L267.47 255.28 L268.46 255.81 L269.45 256.33 L270.45 256.82 L271.44 257.3 L272.43 257.76 L273.42 258.2 L274.41 258.61 L275.41 259 L276.4 259.36 L277.39 259.69 L278.38 260 L279.38 260.27 L280.37 260.52 L281.36 260.73 L282.35 260.91 L283.34 261.06 L284.34 261.18 L285.33 261.27 L286.32 261.32 L287.31 261.33 L288.3 261.34 L289.3 261.36 L290.29 261.37 L291.28 261.38 L292.27 261.39 L293.27 261.4 L294.26 261.41 L295.25 261.42 L296.24 261.43 L297.23 261.45 L298.23 261.46 L299.22 261.47 L300.21 261.48 L301.2 261.49 L302.2 261.5 L303.19 261.51 L304.18 261.52 L305.17 261.54 L306.16 261.55 L307.16 261.56 L308.15 261.57 L309.14 261.58 L310.13 261.59 L311.12 261.6 L312.12 261.61 L313.11 261.63 L314.1 261.64 L315.09 261.65 L316.09 261.66 L317.08 261.67 L318.07 261.68 L319.06 261.69 L320.05 261.7 L321.05 261.71 L322.04 261.73 L323.03 261.74 L324.02 261.75 L325.02 261.76 L326.01 261.77 L327 261.78 L327.99 261.79 L328.98 261.8 L329.98 261.82 L330.97 261.83 L331.96 261.84 L332.95 261.85 L333.95 261.86 L334.94 261.87 L335.93 261.88 L336.92 261.89 L337.91 261.91 L338.91 261.92 L339.9 261.93 L340.89 261.94 L341.88 261.95 L342.88 261.96 L343.87 261.97 L344.86 261.98 L345.85 262 L346.84 262.01 L347.84 262.02 L348.83 262.03 L349.82 262.04 L350.81 262.05 L351.8 262.06 L352.8 262.07 L353.79 262.09 L354.78 262.1 L355.77 262.11 L356.77 262.12 L357.76 262.13 L358.75 262.14 L359.74 262.15 L360.73 262.16 L361.73 262.17 L362.72 262.19 L363.71 262.2 L364.7 262.21 L365.7 262.22 L366.69 262.23 L367.68 262.24 L368.67 262.25 L369.66 262.26 L370.66 262.28 L371.65 262.29 L372.64 262.3 L373.63 262.31 L374.62 262.32 L375.62 262.33 L376.61 262.34 L377.6 262.35 L378.59 262.37 L379.59 262.38 L380.58 262.39 L381.57 262.4 L382.56 262.41 L383.55 262.42 L384.55 262.43 L385.54 262.44 L386.53 262.46 L387.52 262.47 L388.52 262.48 L389.51 262.49 L390.5 262.5" fill="none" stroke="#d8d8f4" stroke-width="2.0" stroke-linejoin="round" stroke-linecap="round"/>
</g>
<rect x="73" y="19.5" width="317.5" height="247.8" fill="none" stroke="#2c2c2c" stroke-width="1.4"/>
<path d="M73 267.3v4.6 M112.69 267.3v4.6 M152.38 267.3v4.6 M192.06 267.3v4.6 M231.75 267.3v4.6 M271.44 267.3v4.6 M311.12 267.3v4.6 M350.81 267.3v4.6 M390.5 267.3v4.6 M92.84 267.3v2.6 M132.53 267.3v2.6 M172.22 267.3v2.6 M211.91 267.3v2.6 M251.59 267.3v2.6 M291.28 267.3v2.6 M330.97 267.3v2.6 M370.66 267.3v2.6 M73 262.5h-4.6 M73 213.9h-4.6 M73 165.3h-4.6 M73 116.7h-4.6 M73 68.1h-4.6 M73 19.5h-4.6 M73 238.2h-2.6 M73 189.6h-2.6 M73 141h-2.6 M73 92.4h-2.6 M73 43.8h-2.6" stroke="#2c2c2c" stroke-width="1.4" fill="none"/>
<text x="73" y="284.8" text-anchor="middle" font-family="'Liberation Sans', sans-serif" font-size="13" fill="#141414">200</text>
<text x="112.69" y="284.8" text-anchor="middle" font-family="'Liberation Sans', sans-serif" font-size="13" fill="#141414">220</text>
<text x="152.38" y="284.8" text-anchor="middle" font-family="'Liberation Sans', sans-serif" font-size="13" fill="#141414">240</text>
<text x="192.06" y="284.8" text-anchor="middle" font-family="'Liberation Sans', sans-serif" font-size="13" fill="#141414">260</text>
<text x="231.75" y="284.8" text-anchor="middle" font-family="'Liberation Sans', sans-serif" font-size="13" fill="#141414">280</text>
<text x="271.44" y="284.8" text-anchor="middle" font-family="'Liberation Sans', sans-serif" font-size="13" fill="#141414">300</text>
<text x="311.12" y="284.8" text-anchor="middle" font-family="'Liberation Sans', sans-serif" font-size="13" fill="#141414">320</text>
<text x="350.81" y="284.8" text-anchor="middle" font-family="'Liberation Sans', sans-serif" font-size="13" fill="#141414">340</text>
<text x="390.5" y="284.8" text-anchor="middle" font-family="'Liberation Sans', sans-serif" font-size="13" fill="#141414">360</text>
<text x="64" y="267.1" text-anchor="end" font-family="'Liberation Sans', sans-serif" font-size="13" fill="#141414">0.0</text>
<text x="64" y="218.5" text-anchor="end" font-family="'Liberation Sans', sans-serif" font-size="13" fill="#141414">0.5</text>
<text x="64" y="169.9" text-anchor="end" font-family="'Liberation Sans', sans-serif" font-size="13" fill="#141414">1.0</text>
<text x="64" y="121.3" text-anchor="end" font-family="'Liberation Sans', sans-serif" font-size="13" fill="#141414">1.5</text>
<text x="64" y="72.7" text-anchor="end" font-family="'Liberation Sans', sans-serif" font-size="13" fill="#141414">2.0</text>
<text x="64" y="24.1" text-anchor="end" font-family="'Liberation Sans', sans-serif" font-size="13" fill="#141414">2.5</text>
<text transform="translate(34.9 135.9) rotate(-90)" text-anchor="middle" font-family="'Liberation Serif', serif" font-weight="bold" font-size="18" fill="#000">Absorption</text>
<text x="231.75" y="308.8" text-anchor="middle" font-family="'Liberation Serif', serif" font-weight="bold" font-size="18.8" fill="#000">Wavelength (nm)</text>
<path d="M293.1 113.4 L300.2 133.4 L295.6 133.4 L295.6 238 L290.6 238 L290.6 133.4 L286 133.4 Z" fill="url(#pa_arr)"/>
<text x="348.1" y="139.9" text-anchor="end" font-family="'Liberation Serif', serif" font-size="15" fill="#000">80 min</text>
<text x="348.1" y="157.97" text-anchor="end" font-family="'Liberation Serif', serif" font-size="15" fill="#000">60 min</text>
<text x="348.1" y="176.04" text-anchor="end" font-family="'Liberation Serif', serif" font-size="15" fill="#000">40 min</text>
<text x="348.1" y="194.11" text-anchor="end" font-family="'Liberation Serif', serif" font-size="15" fill="#000">20 min</text>
<text x="348.1" y="212.18" text-anchor="end" font-family="'Liberation Serif', serif" font-size="15" fill="#000">10 min</text>
<text x="348.1" y="230.25" text-anchor="end" font-family="'Liberation Serif', serif" font-size="15" fill="#000">5 min</text>
<rect x="461" y="19.5" width="318" height="247.8" fill="url(#pbg)"/>
<text x="470.7" y="49" font-family="'Liberation Serif', serif" font-weight="bold" font-size="26" fill="#111">(b)</text>
<g clip-path="url(#clip_pb)">
<path d="M461 230.42 L461.5 224.57 L461.99 218.91 L462.49 213.43 L462.99 208.14 L463.48 203.05 L463.98 198.15 L464.48 193.45 L464.98 188.94 L465.47 184.63 L465.97 180.53 L466.47 176.63 L466.96 172.94 L467.46 169.47 L467.96 166.2 L468.45 163.15 L468.95 160.33 L469.45 157.73 L469.94 155.36 L470.44 153.23 L470.94 151.34 L471.43 149.71 L471.93 148.34 L472.43 147.24 L472.93 146.44 L473.42 145.96 L473.92 145.87 L474.42 145.96 L474.91 146.14 L475.41 146.43 L475.91 146.81 L476.4 147.29 L476.9 147.86 L477.4 148.53 L477.89 149.29 L478.39 150.14 L478.89 151.07 L479.38 152.1 L479.88 153.2 L480.38 154.39 L480.88 155.66 L481.37 157 L481.87 158.42 L482.37 159.9 L482.86 161.45 L483.36 163.06 L483.86 164.73 L484.35 166.46 L484.85 168.23 L485.35 170.05 L485.84 171.91 L486.34 173.81 L486.84 175.74 L487.33 177.7 L487.83 179.68 L488.33 181.68 L488.82 183.7 L489.32 185.72 L489.82 187.75 L490.32 189.78 L490.81 191.81 L491.81 195.83 L492.8 199.77 L493.79 203.6 L494.79 207.28 L495.78 210.77 L496.77 214.05 L497.77 217.09 L498.76 219.85 L499.76 222.3 L500.75 224.43 L501.74 226.22 L502.74 227.65 L503.73 228.7 L504.73 229.36 L505.72 229.64 L506.71 229.62 L507.71 229.52 L508.7 229.33 L509.69 229.07 L510.69 228.72 L511.68 228.31 L512.67 227.81 L513.67 227.25 L514.66 226.62 L515.66 225.93 L516.65 225.18 L517.64 224.37 L518.64 223.51 L519.63 222.6 L520.62 221.65 L521.62 220.67 L522.61 219.66 L523.61 218.62 L524.6 217.56 L525.59 216.49 L526.59 215.42 L527.58 214.34 L528.58 213.27 L529.57 212.21 L530.56 211.17 L531.56 210.15 L532.55 209.16 L533.54 208.2 L534.54 207.29 L535.53 206.42 L536.52 205.6 L537.52 204.83 L538.51 204.13 L539.51 203.49 L540.5 202.91 L541.49 202.41 L542.49 201.97 L543.48 201.62 L544.48 201.34 L545.47 201.13 L546.46 201.01 L547.46 200.97 L548.45 200.98 L549.44 201.03 L550.44 201.15 L551.43 201.34 L552.42 201.63 L553.42 202.02 L554.41 202.53 L555.41 203.16 L556.4 203.93 L557.39 204.83 L558.39 205.86 L559.38 207.03 L560.38 208.33 L561.37 209.76 L562.36 211.32 L563.36 212.98 L564.35 214.75 L565.34 216.61 L566.34 218.55 L567.33 220.54 L568.33 222.59 L569.32 224.66 L570.31 226.74 L571.31 228.82 L572.3 230.88 L573.29 232.9 L574.29 234.86 L575.28 236.77 L576.27 238.59 L577.27 240.33 L578.26 241.97 L579.26 243.51 L580.25 244.95 L581.24 246.27 L582.24 247.48 L583.23 248.58 L584.23 249.58 L585.22 250.47 L586.21 251.26 L587.21 251.96 L588.2 252.57 L589.19 253.1 L590.19 253.55 L591.18 253.94 L592.17 254.27 L593.17 254.54 L594.16 254.77 L595.16 254.96 L596.15 255.12 L597.14 255.24 L598.14 255.34 L599.13 255.41 L600.12 255.45 L601.12 255.47 L602.11 255.48 L603.11 255.47 L604.1 255.44 L605.09 255.41 L606.09 255.36 L607.08 255.31 L608.08 255.26 L609.07 255.2 L610.06 255.14 L611.06 255.08 L612.05 255.02 L613.04 254.96 L614.04 254.91 L615.03 254.87 L616.02 254.82 L617.02 254.79 L618.01 254.76 L619.01 254.74 L620 254.73 L620.99 254.72 L621.99 254.73 L622.98 254.75 L623.98 254.78 L624.97 254.83 L625.96 254.89 L626.96 254.96 L627.95 255.04 L628.94 255.13 L629.94 255.24 L630.93 255.36 L631.92 255.49 L632.92 255.62 L633.91 255.77 L634.91 255.93 L635.9 256.1 L636.89 256.28 L637.89 256.46 L638.88 256.65 L639.88 256.85 L640.87 257.05 L641.86 257.26 L642.86 257.48 L643.85 257.7 L644.84 257.92 L645.84 258.14 L646.83 258.37 L647.83 258.6 L648.82 258.82 L649.81 259.05 L650.81 259.28 L651.8 259.5 L652.79 259.72 L653.79 259.94 L654.78 260.16 L655.77 260.36 L656.77 260.57 L657.76 260.77 L658.76 260.96 L659.75 261.14 L660.74 261.32 L661.74 261.49 L662.73 261.65 L663.73 261.79 L664.72 261.93 L665.71 262.06 L666.71 262.18 L667.7 262.29 L668.69 262.38 L669.69 262.46 L670.68 262.53 L671.67 262.59 L672.67 262.64 L673.66 262.67 L674.66 262.69 L675.65 262.69 L676.64 262.71 L677.64 262.72 L678.63 262.73 L679.62 262.74 L680.62 262.75 L681.61 262.76 L682.61 262.77 L683.6 262.78 L684.59 262.8 L685.59 262.81 L686.58 262.82 L687.58 262.83 L688.57 262.84 L689.56 262.85 L690.56 262.86 L691.55 262.87 L692.54 262.89 L693.54 262.9 L694.53 262.91 L695.52 262.92 L696.52 262.93 L697.51 262.94 L698.51 262.95 L699.5 262.96 L700.49 262.97 L701.49 262.99 L702.48 263 L703.48 263.01 L704.47 263.02 L705.46 263.03 L706.46 263.04 L707.45 263.05 L708.44 263.06 L709.44 263.08 L710.43 263.09 L711.42 263.1 L712.42 263.11 L713.41 263.12 L714.41 263.13 L715.4 263.14 L716.39 263.15 L717.39 263.17 L718.38 263.18 L719.38 263.19 L720.37 263.2 L721.36 263.21 L722.36 263.22 L723.35 263.23 L724.34 263.24 L725.34 263.26 L726.33 263.27 L727.33 263.28 L728.32 263.29 L729.31 263.3 L730.31 263.31 L731.3 263.32 L732.29 263.33 L733.29 263.34 L734.28 263.36 L735.28 263.37 L736.27 263.38 L737.26 263.39 L738.26 263.4 L739.25 263.41 L740.24 263.42 L741.24 263.43 L742.23 263.45 L743.22 263.46 L744.22 263.47 L745.21 263.48 L746.21 263.49 L747.2 263.5 L748.19 263.51 L749.19 263.52 L750.18 263.54 L751.17 263.55 L752.17 263.56 L753.16 263.57 L754.16 263.58 L755.15 263.59 L756.14 263.6 L757.14 263.61 L758.13 263.63 L759.12 263.64 L760.12 263.65 L761.11 263.66 L762.11 263.67 L763.1 263.68 L764.09 263.69 L765.09 263.7 L766.08 263.71 L767.08 263.73 L768.07 263.74 L769.06 263.75 L770.06 263.76 L771.05 263.77 L772.04 263.78 L773.04 263.79 L774.03 263.8 L775.03 263.82 L776.02 263.83 L777.01 263.84 L778.01 263.85 L779 263.86" fill="none" stroke="#0c6a10" stroke-width="2.0" stroke-linejoin="round" stroke-linecap="round"/>
<path d="M461 230.42 L461.5 224.48 L461.99 218.73 L462.49 213.18 L462.99 207.81 L463.48 202.64 L463.98 197.67 L464.48 192.89 L464.98 188.32 L465.47 183.95 L465.97 179.79 L466.47 175.83 L466.96 172.09 L467.46 168.56 L467.96 165.24 L468.45 162.15 L468.95 159.28 L469.45 156.64 L469.94 154.24 L470.44 152.08 L470.94 150.16 L471.43 148.5 L471.93 147.11 L472.43 146 L472.93 145.18 L473.42 144.7 L473.92 144.6 L474.42 144.69 L474.91 144.88 L475.41 145.17 L475.91 145.55 L476.4 146.03 L476.9 146.61 L477.4 147.28 L477.89 148.04 L478.39 148.9 L478.89 149.84 L479.38 150.87 L479.88 151.98 L480.38 153.18 L480.88 154.45 L481.37 155.8 L481.87 157.23 L482.37 158.72 L482.86 160.28 L483.36 161.9 L483.86 163.58 L484.35 165.31 L484.85 167.1 L485.35 168.93 L485.84 170.8 L486.34 172.71 L486.84 174.65 L487.33 176.62 L487.83 178.61 L488.33 180.63 L488.82 182.65 L489.32 184.69 L489.82 186.73 L490.32 188.77 L490.81 190.81 L491.81 194.85 L492.8 198.82 L493.79 202.67 L494.79 206.37 L495.78 209.89 L496.77 213.19 L497.77 216.24 L498.76 219.01 L499.76 221.48 L500.75 223.63 L501.74 225.42 L502.74 226.86 L503.73 227.91 L504.73 228.58 L505.72 228.86 L506.71 228.83 L507.71 228.69 L508.7 228.43 L509.69 228.06 L510.69 227.59 L511.68 227.01 L512.67 226.33 L513.67 225.55 L514.66 224.68 L515.66 223.72 L516.65 222.67 L517.64 221.55 L518.64 220.36 L519.63 219.1 L520.62 217.79 L521.62 216.43 L522.61 215.02 L523.61 213.58 L524.6 212.12 L525.59 210.63 L526.59 209.14 L527.58 207.65 L528.58 206.16 L529.57 204.69 L530.56 203.25 L531.56 201.84 L532.55 200.46 L533.54 199.14 L534.54 197.87 L535.53 196.66 L536.52 195.53 L537.52 194.47 L538.51 193.49 L539.51 192.6 L540.5 191.8 L541.49 191.1 L542.49 190.5 L543.48 190.01 L544.48 189.62 L545.47 189.34 L546.46 189.17 L547.46 189.11 L548.45 189.13 L549.44 189.19 L550.44 189.32 L551.43 189.56 L552.42 189.9 L553.42 190.37 L554.41 190.99 L555.41 191.75 L556.4 192.67 L557.39 193.75 L558.39 194.99 L559.38 196.4 L560.38 197.96 L561.37 199.68 L562.36 201.55 L563.36 203.56 L564.35 205.68 L565.34 207.92 L566.34 210.25 L567.33 212.65 L568.33 215.11 L569.32 217.6 L570.31 220.1 L571.31 222.6 L572.3 225.07 L573.29 227.5 L574.29 229.87 L575.28 232.16 L576.27 234.35 L577.27 236.44 L578.26 238.42 L579.26 240.27 L580.25 241.99 L581.24 243.58 L582.24 245.04 L583.23 246.37 L584.23 247.56 L585.22 248.63 L586.21 249.58 L587.21 250.42 L588.2 251.16 L589.19 251.79 L590.19 252.34 L591.18 252.8 L592.17 253.2 L593.17 253.53 L594.16 253.81 L595.16 254.04 L596.15 254.22 L597.14 254.37 L598.14 254.49 L599.13 254.58 L600.12 254.64 L601.12 254.68 L602.11 254.71 L603.11 254.71 L604.1 254.71 L605.09 254.69 L606.09 254.67 L607.08 254.64 L608.08 254.6 L609.07 254.56 L610.06 254.52 L611.06 254.48 L612.05 254.44 L613.04 254.4 L614.04 254.37 L615.03 254.34 L616.02 254.31 L617.02 254.28 L618.01 254.26 L619.01 254.25 L620 254.24 L620.99 254.24 L621.99 254.24 L622.98 254.26 L623.98 254.3 L624.97 254.35 L625.96 254.41 L626.96 254.48 L627.95 254.56 L628.94 254.66 L629.94 254.77 L630.93 254.89 L631.92 255.03 L632.92 255.17 L633.91 255.33 L634.91 255.49 L635.9 255.66 L636.89 255.85 L637.89 256.04 L638.88 256.24 L639.88 256.44 L640.87 256.65 L641.86 256.87 L642.86 257.09 L643.85 257.32 L644.84 257.55 L645.84 257.78 L646.83 258.02 L647.83 258.25 L648.82 258.49 L649.81 258.72 L650.81 258.96 L651.8 259.19 L652.79 259.42 L653.79 259.65 L654.78 259.87 L655.77 260.09 L656.77 260.3 L657.76 260.5 L658.76 260.7 L659.75 260.89 L660.74 261.07 L661.74 261.25 L662.73 261.41 L663.73 261.57 L664.72 261.71 L665.71 261.84 L666.71 261.97 L667.7 262.08 L668.69 262.17 L669.69 262.26 L670.68 262.33 L671.67 262.39 L672.67 262.44 L673.66 262.47 L674.66 262.49 L675.65 262.5 L676.64 262.51 L677.64 262.52 L678.63 262.53 L679.62 262.54 L680.62 262.56 L681.61 262.57 L682.61 262.58 L683.6 262.59 L684.59 262.6 L685.59 262.61 L686.58 262.62 L687.58 262.63 L688.57 262.65 L689.56 262.66 L690.56 262.67 L691.55 262.68 L692.54 262.69 L693.54 262.7 L694.53 262.71 L695.52 262.72 L696.52 262.74 L697.51 262.75 L698.51 262.76 L699.5 262.77 L700.49 262.78 L701.49 262.79 L702.48 262.8 L703.48 262.81 L704.47 262.83 L705.46 262.84 L706.46 262.85 L707.45 262.86 L708.44 262.87 L709.44 262.88 L710.43 262.89 L711.42 262.9 L712.42 262.91 L713.41 262.93 L714.41 262.94 L715.4 262.95 L716.39 262.96 L717.39 262.97 L718.38 262.98 L719.38 262.99 L720.37 263 L721.36 263.02 L722.36 263.03 L723.35 263.04 L724.34 263.05 L725.34 263.06 L726.33 263.07 L727.33 263.08 L728.32 263.09 L729.31 263.11 L730.31 263.12 L731.3 263.13 L732.29 263.14 L733.29 263.15 L734.28 263.16 L735.28 263.17 L736.27 263.18 L737.26 263.2 L738.26 263.21 L739.25 263.22 L740.24 263.23 L741.24 263.24 L742.23 263.25 L743.22 263.26 L744.22 263.27 L745.21 263.29 L746.21 263.3 L747.2 263.31 L748.19 263.32 L749.19 263.33 L750.18 263.34 L751.17 263.35 L752.17 263.36 L753.16 263.37 L754.16 263.39 L755.15 263.4 L756.14 263.41 L757.14 263.42 L758.13 263.43 L759.12 263.44 L760.12 263.45 L761.11 263.46 L762.11 263.48 L763.1 263.49 L764.09 263.5 L765.09 263.51 L766.08 263.52 L767.08 263.53 L768.07 263.54 L769.06 263.55 L770.06 263.57 L771.05 263.58 L772.04 263.59 L773.04 263.6 L774.03 263.61 L775.03 263.62 L776.02 263.63 L777.01 263.64 L778.01 263.66 L779 263.67" fill="none" stroke="#12a012" stroke-width="2.0" stroke-linejoin="round" stroke-linecap="round"/>
<path d="M461 230.42 L461.5 224.67 L461.99 219.06 L462.49 213.6 L462.99 208.29 L463.48 203.12 L463.98 198.11 L464.48 193.25 L464.98 188.54 L465.47 183.99 L465.97 179.59 L466.47 175.35 L466.96 171.27 L467.46 167.35 L467.96 163.59 L468.45 160 L468.95 156.56 L469.45 153.3 L469.94 150.21 L470.44 147.29 L470.94 144.54 L471.43 141.97 L471.93 139.58 L472.43 137.37 L472.93 135.35 L473.42 133.53 L473.92 131.9 L474.42 130.48 L474.91 129.26 L475.41 128.27 L475.91 127.51 L476.4 127.01 L476.9 126.81 L477.4 126.87 L477.89 127.06 L478.39 127.37 L478.89 127.81 L479.38 128.37 L479.88 129.05 L480.38 129.85 L480.88 130.77 L481.37 131.8 L481.87 132.95 L482.37 134.2 L482.86 135.55 L483.36 137.01 L483.86 138.56 L484.35 140.2 L484.85 141.93 L485.35 143.75 L485.84 145.63 L486.34 147.6 L486.84 149.62 L487.33 151.71 L487.83 153.85 L488.33 156.03 L488.82 158.26 L489.32 160.52 L489.82 162.81 L490.32 165.13 L490.81 167.45 L491.81 172.13 L492.8 176.78 L493.79 181.35 L494.79 185.8 L495.78 190.07 L496.77 194.1 L497.77 197.87 L498.76 201.31 L499.76 204.39 L500.75 207.08 L501.74 209.34 L502.74 211.16 L503.73 212.49 L504.73 213.34 L505.72 213.7 L506.71 213.66 L507.71 213.46 L508.7 213.1 L509.69 212.6 L510.69 211.95 L511.68 211.16 L512.67 210.22 L513.67 209.15 L514.66 207.96 L515.66 206.64 L516.65 205.21 L517.64 203.67 L518.64 202.03 L519.63 200.31 L520.62 198.51 L521.62 196.64 L522.61 194.71 L523.61 192.74 L524.6 190.73 L525.59 188.69 L526.59 186.65 L527.58 184.6 L528.58 182.56 L529.57 180.55 L530.56 178.56 L531.56 176.63 L532.55 174.74 L533.54 172.93 L534.54 171.19 L535.53 169.53 L536.52 167.98 L537.52 166.52 L538.51 165.18 L539.51 163.96 L540.5 162.86 L541.49 161.9 L542.49 161.08 L543.48 160.4 L544.48 159.87 L545.47 159.48 L546.46 159.25 L547.46 159.18 L548.45 159.19 L549.44 159.28 L550.44 159.47 L551.43 159.8 L552.42 160.29 L553.42 160.95 L554.41 161.81 L555.41 162.89 L556.4 164.18 L557.39 165.7 L558.39 167.45 L559.38 169.43 L560.38 171.63 L561.37 174.06 L562.36 176.68 L563.36 179.51 L564.35 182.5 L565.34 185.65 L566.34 188.93 L567.33 192.31 L568.33 195.76 L569.32 199.27 L570.31 202.8 L571.31 206.31 L572.3 209.8 L573.29 213.21 L574.29 216.55 L575.28 219.77 L576.27 222.86 L577.27 225.8 L578.26 228.58 L579.26 231.19 L580.25 233.61 L581.24 235.85 L582.24 237.9 L583.23 239.77 L584.23 241.45 L585.22 242.96 L586.21 244.3 L587.21 245.48 L588.2 246.51 L589.19 247.41 L590.19 248.18 L591.18 248.83 L592.17 249.39 L593.17 249.86 L594.16 250.24 L595.16 250.56 L596.15 250.83 L597.14 251.04 L598.14 251.21 L599.13 251.33 L600.12 251.42 L601.12 251.48 L602.11 251.51 L603.11 251.52 L604.1 251.51 L605.09 251.48 L606.09 251.45 L607.08 251.41 L608.08 251.36 L609.07 251.3 L610.06 251.24 L611.06 251.19 L612.05 251.13 L613.04 251.07 L614.04 251.02 L615.03 250.98 L616.02 250.93 L617.02 250.9 L618.01 250.87 L619.01 250.85 L620 250.84 L620.99 250.84 L621.99 250.85 L622.98 250.87 L623.98 250.92 L624.97 250.98 L625.96 251.07 L626.96 251.17 L627.95 251.28 L628.94 251.42 L629.94 251.57 L630.93 251.74 L631.92 251.92 L632.92 252.12 L633.91 252.33 L634.91 252.56 L635.9 252.8 L636.89 253.05 L637.89 253.31 L638.88 253.59 L639.88 253.87 L640.87 254.16 L641.86 254.46 L642.86 254.77 L643.85 255.08 L644.84 255.39 L645.84 255.71 L646.83 256.04 L647.83 256.36 L648.82 256.68 L649.81 257.01 L650.81 257.33 L651.8 257.65 L652.79 257.97 L653.79 258.28 L654.78 258.59 L655.77 258.88 L656.77 259.18 L657.76 259.46 L658.76 259.73 L659.75 259.99 L660.74 260.25 L661.74 260.49 L662.73 260.71 L663.73 260.92 L664.72 261.12 L665.71 261.31 L666.71 261.47 L667.7 261.62 L668.69 261.76 L669.69 261.88 L670.68 261.98 L671.67 262.06 L672.67 262.13 L673.66 262.17 L674.66 262.2 L675.65 262.21 L676.64 262.22 L677.64 262.23 L678.63 262.24 L679.62 262.25 L680.62 262.26 L681.61 262.28 L682.61 262.29 L683.6 262.3 L684.59 262.31 L685.59 262.32 L686.58 262.33 L687.58 262.34 L688.57 262.35 L689.56 262.37 L690.56 262.38 L691.55 262.39 L692.54 262.4 L693.54 262.41 L694.53 262.42 L695.52 262.43 L696.52 262.44 L697.51 262.46 L698.51 262.47 L699.5 262.48 L700.49 262.49 L701.49 262.5 L702.48 262.51 L703.48 262.52 L704.47 262.53 L705.46 262.54 L706.46 262.56 L707.45 262.57 L708.44 262.58 L709.44 262.59 L710.43 262.6 L711.42 262.61 L712.42 262.62 L713.41 262.63 L714.41 262.65 L715.4 262.66 L716.39 262.67 L717.39 262.68 L718.38 262.69 L719.38 262.7 L720.37 262.71 L721.36 262.72 L722.36 262.74 L723.35 262.75 L724.34 262.76 L725.34 262.77 L726.33 262.78 L727.33 262.79 L728.32 262.8 L729.31 262.81 L730.31 262.83 L731.3 262.84 L732.29 262.85 L733.29 262.86 L734.28 262.87 L735.28 262.88 L736.27 262.89 L737.26 262.9 L738.26 262.91 L739.25 262.93 L740.24 262.94 L741.24 262.95 L742.23 262.96 L743.22 262.97 L744.22 262.98 L745.21 262.99 L746.21 263 L747.2 263.02 L748.19 263.03 L749.19 263.04 L750.18 263.05 L751.17 263.06 L752.17 263.07 L753.16 263.08 L754.16 263.09 L755.15 263.11 L756.14 263.12 L757.14 263.13 L758.13 263.14 L759.12 263.15 L760.12 263.16 L761.11 263.17 L762.11 263.18 L763.1 263.2 L764.09 263.21 L765.09 263.22 L766.08 263.23 L767.08 263.24 L768.07 263.25 L769.06 263.26 L770.06 263.27 L771.05 263.29 L772.04 263.3 L773.04 263.31 L774.03 263.32 L775.03 263.33 L776.02 263.34 L777.01 263.35 L778.01 263.36 L779 263.37" fill="none" stroke="#7cb86a" stroke-width="2.0" stroke-linejoin="round" stroke-linecap="round"/>
<path d="M461 230.42 L461.5 224.72 L461.99 219.13 L462.49 213.67 L462.99 208.34 L463.48 203.14 L463.98 198.06 L464.48 193.11 L464.98 188.29 L465.47 183.6 L465.97 179.04 L466.47 174.62 L466.96 170.32 L467.46 166.16 L467.96 162.14 L468.45 158.25 L468.95 154.5 L469.45 150.89 L469.94 147.42 L470.44 144.09 L470.94 140.91 L471.43 137.87 L471.93 134.97 L472.43 132.23 L472.93 129.63 L473.42 127.19 L473.92 124.9 L474.42 122.77 L474.91 120.81 L475.41 119 L475.91 117.36 L476.4 115.9 L476.9 114.61 L477.4 113.51 L477.89 112.6 L478.39 111.89 L478.89 111.41 L479.38 111.17 L479.88 111.21 L480.38 111.39 L480.88 111.72 L481.37 112.19 L481.87 112.8 L482.37 113.55 L482.86 114.43 L483.36 115.44 L483.86 116.59 L484.35 117.85 L484.85 119.24 L485.35 120.74 L485.84 122.36 L486.34 124.07 L486.84 125.89 L487.33 127.79 L487.83 129.79 L488.33 131.86 L488.82 134 L489.32 136.21 L489.82 138.47 L490.32 140.78 L490.81 143.13 L491.81 147.91 L492.8 152.76 L493.79 157.6 L494.79 162.37 L495.78 166.99 L496.77 171.42 L497.77 175.57 L498.76 179.4 L499.76 182.85 L500.75 185.88 L501.74 188.44 L502.74 190.49 L503.73 192.01 L504.73 192.98 L505.72 193.38 L506.71 193.32 L507.71 193.05 L508.7 192.56 L509.69 191.87 L510.69 190.97 L511.68 189.87 L512.67 188.58 L513.67 187.11 L514.66 185.46 L515.66 183.64 L516.65 181.66 L517.64 179.54 L518.64 177.29 L519.63 174.91 L520.62 172.42 L521.62 169.84 L522.61 167.18 L523.61 164.46 L524.6 161.69 L525.59 158.88 L526.59 156.06 L527.58 153.23 L528.58 150.42 L529.57 147.64 L530.56 144.91 L531.56 142.23 L532.55 139.64 L533.54 137.13 L534.54 134.73 L535.53 132.45 L536.52 130.3 L537.52 128.29 L538.51 126.44 L539.51 124.76 L540.5 123.24 L541.49 121.92 L542.49 120.78 L543.48 119.85 L544.48 119.11 L545.47 118.58 L546.46 118.26 L547.46 118.16 L548.45 118.18 L549.44 118.3 L550.44 118.57 L551.43 119.04 L552.42 119.72 L553.42 120.66 L554.41 121.88 L555.41 123.39 L556.4 125.22 L557.39 127.36 L558.39 129.83 L559.38 132.63 L560.38 135.74 L561.37 139.16 L562.36 142.87 L563.36 146.85 L564.35 151.08 L565.34 155.52 L566.34 160.14 L567.33 164.91 L568.33 169.79 L569.32 174.74 L570.31 179.72 L571.31 184.69 L572.3 189.6 L573.29 194.42 L574.29 199.13 L575.28 203.67 L576.27 208.03 L577.27 212.18 L578.26 216.11 L579.26 219.79 L580.25 223.21 L581.24 226.37 L582.24 229.27 L583.23 231.9 L584.23 234.28 L585.22 236.41 L586.21 238.29 L587.21 239.96 L588.2 241.42 L589.19 242.68 L590.19 243.77 L591.18 244.69 L592.17 245.48 L593.17 246.14 L594.16 246.68 L595.16 247.14 L596.15 247.51 L597.14 247.81 L598.14 248.05 L599.13 248.23 L600.12 248.36 L601.12 248.45 L602.11 248.5 L603.11 248.53 L604.1 248.53 L605.09 248.51 L606.09 248.48 L607.08 248.44 L608.08 248.39 L609.07 248.33 L610.06 248.27 L611.06 248.2 L612.05 248.14 L613.04 248.08 L614.04 248.03 L615.03 247.98 L616.02 247.93 L617.02 247.89 L618.01 247.86 L619.01 247.84 L620 247.83 L620.99 247.82 L621.99 247.83 L622.98 247.87 L623.98 247.93 L624.97 248.01 L625.96 248.11 L626.96 248.23 L627.95 248.38 L628.94 248.55 L629.94 248.73 L630.93 248.94 L631.92 249.17 L632.92 249.41 L633.91 249.68 L634.91 249.96 L635.9 250.25 L636.89 250.57 L637.89 250.89 L638.88 251.23 L639.88 251.58 L640.87 251.94 L641.86 252.31 L642.86 252.69 L643.85 253.08 L644.84 253.47 L645.84 253.87 L646.83 254.27 L647.83 254.67 L648.82 255.07 L649.81 255.47 L650.81 255.87 L651.8 256.27 L652.79 256.66 L653.79 257.05 L654.78 257.43 L655.77 257.8 L656.77 258.16 L657.76 258.51 L658.76 258.85 L659.75 259.17 L660.74 259.48 L661.74 259.78 L662.73 260.06 L663.73 260.33 L664.72 260.57 L665.71 260.8 L666.71 261.01 L667.7 261.19 L668.69 261.36 L669.69 261.51 L670.68 261.63 L671.67 261.73 L672.67 261.81 L673.66 261.87 L674.66 261.91 L675.65 261.92 L676.64 261.93 L677.64 261.94 L678.63 261.95 L679.62 261.96 L680.62 261.97 L681.61 261.98 L682.61 262 L683.6 262.01 L684.59 262.02 L685.59 262.03 L686.58 262.04 L687.58 262.05 L688.57 262.06 L689.56 262.07 L690.56 262.09 L691.55 262.1 L692.54 262.11 L693.54 262.12 L694.53 262.13 L695.52 262.14 L696.52 262.15 L697.51 262.16 L698.51 262.17 L699.5 262.19 L700.49 262.2 L701.49 262.21 L702.48 262.22 L703.48 262.23 L704.47 262.24 L705.46 262.25 L706.46 262.26 L707.45 262.28 L708.44 262.29 L709.44 262.3 L710.43 262.31 L711.42 262.32 L712.42 262.33 L713.41 262.34 L714.41 262.35 L715.4 262.37 L716.39 262.38 L717.39 262.39 L718.38 262.4 L719.38 262.41 L720.37 262.42 L721.36 262.43 L722.36 262.44 L723.35 262.46 L724.34 262.47 L725.34 262.48 L726.33 262.49 L727.33 262.5 L728.32 262.51 L729.31 262.52 L730.31 262.53 L731.3 262.54 L732.29 262.56 L733.29 262.57 L734.28 262.58 L735.28 262.59 L736.27 262.6 L737.26 262.61 L738.26 262.62 L739.25 262.63 L740.24 262.65 L741.24 262.66 L742.23 262.67 L743.22 262.68 L744.22 262.69 L745.21 262.7 L746.21 262.71 L747.2 262.72 L748.19 262.74 L749.19 262.75 L750.18 262.76 L751.17 262.77 L752.17 262.78 L753.16 262.79 L754.16 262.8 L755.15 262.81 L756.14 262.83 L757.14 262.84 L758.13 262.85 L759.12 262.86 L760.12 262.87 L761.11 262.88 L762.11 262.89 L763.1 262.9 L764.09 262.91 L765.09 262.93 L766.08 262.94 L767.08 262.95 L768.07 262.96 L769.06 262.97 L770.06 262.98 L771.05 262.99 L772.04 263 L773.04 263.02 L774.03 263.03 L775.03 263.04 L776.02 263.05 L777.01 263.06 L778.01 263.07 L779 263.08" fill="none" stroke="#2ee02e" stroke-width="2.0" stroke-linejoin="round" stroke-linecap="round"/>
<path d="M461 230.42 L461.5 224.96 L461.99 219.6 L462.49 214.34 L462.99 209.19 L463.48 204.15 L463.98 199.21 L464.48 194.38 L464.98 189.66 L465.47 185.05 L465.97 180.55 L466.47 176.15 L466.96 171.87 L467.46 167.7 L467.96 163.64 L468.45 159.69 L468.95 155.86 L469.45 152.14 L469.94 148.53 L470.44 145.05 L470.94 141.68 L471.43 138.42 L471.93 135.29 L472.43 132.28 L472.93 129.39 L473.42 126.62 L473.92 123.98 L474.42 121.46 L474.91 119.07 L475.41 116.81 L475.91 114.68 L476.4 112.68 L476.9 110.82 L477.4 109.1 L477.89 107.52 L478.39 106.08 L478.89 104.79 L479.38 103.65 L479.88 102.67 L480.38 101.85 L480.88 101.21 L481.37 100.75 L481.87 100.5 L482.37 100.5 L482.86 100.67 L483.36 100.99 L483.86 101.47 L484.35 102.1 L484.85 102.88 L485.35 103.81 L485.84 104.87 L486.34 106.08 L486.84 107.41 L487.33 108.87 L487.83 110.45 L488.33 112.14 L488.82 113.94 L489.32 115.84 L489.82 117.83 L490.32 119.89 L490.81 122.03 L491.81 126.5 L492.8 131.13 L493.79 135.87 L494.79 140.62 L495.78 145.31 L496.77 149.85 L497.77 154.17 L498.76 158.19 L499.76 161.84 L500.75 165.07 L501.74 167.82 L502.74 170.03 L503.73 171.68 L504.73 172.73 L505.72 173.16 L506.71 173.09 L507.71 172.74 L508.7 172.12 L509.69 171.24 L510.69 170.1 L511.68 168.71 L512.67 167.08 L513.67 165.21 L514.66 163.12 L515.66 160.82 L516.65 158.31 L517.64 155.62 L518.64 152.76 L519.63 149.75 L520.62 146.6 L521.62 143.33 L522.61 139.96 L523.61 136.5 L524.6 132.99 L525.59 129.43 L526.59 125.85 L527.58 122.27 L528.58 118.71 L529.57 115.19 L530.56 111.72 L531.56 108.33 L532.55 105.04 L533.54 101.87 L534.54 98.82 L535.53 95.93 L536.52 93.21 L537.52 90.66 L538.51 88.32 L539.51 86.18 L540.5 84.27 L541.49 82.59 L542.49 81.15 L543.48 79.96 L544.48 79.03 L545.47 78.36 L546.46 77.95 L547.46 77.82 L548.45 77.85 L549.44 78 L550.44 78.34 L551.43 78.93 L552.42 79.79 L553.42 80.98 L554.41 82.51 L555.41 84.42 L556.4 86.72 L557.39 89.42 L558.39 92.53 L559.38 96.05 L560.38 99.97 L561.37 104.28 L562.36 108.96 L563.36 113.98 L564.35 119.3 L565.34 124.9 L566.34 130.73 L567.33 136.74 L568.33 142.89 L569.32 149.13 L570.31 155.4 L571.31 161.66 L572.3 167.85 L573.29 173.93 L574.29 179.86 L575.28 185.59 L576.27 191.08 L577.27 196.31 L578.26 201.26 L579.26 205.9 L580.25 210.21 L581.24 214.19 L582.24 217.84 L583.23 221.16 L584.23 224.16 L585.22 226.84 L586.21 229.22 L587.21 231.32 L588.2 233.15 L589.19 234.74 L590.19 236.11 L591.18 237.28 L592.17 238.27 L593.17 239.1 L594.16 239.79 L595.16 240.36 L596.15 240.83 L597.14 241.21 L598.14 241.51 L599.13 241.74 L600.12 241.91 L601.12 242.03 L602.11 242.11 L603.11 242.15 L604.1 242.17 L605.09 242.16 L606.09 242.14 L607.08 242.1 L608.08 242.06 L609.07 242 L610.06 241.94 L611.06 241.88 L612.05 241.82 L613.04 241.76 L614.04 241.71 L615.03 241.66 L616.02 241.61 L617.02 241.57 L618.01 241.54 L619.01 241.52 L620 241.51 L620.99 241.5 L621.99 241.52 L622.98 241.57 L623.98 241.65 L624.97 241.77 L625.96 241.91 L626.96 242.09 L627.95 242.3 L628.94 242.54 L629.94 242.81 L630.93 243.1 L631.92 243.43 L632.92 243.78 L633.91 244.15 L634.91 244.55 L635.9 244.98 L636.89 245.42 L637.89 245.89 L638.88 246.37 L639.88 246.87 L640.87 247.39 L641.86 247.92 L642.86 248.46 L643.85 249.01 L644.84 249.57 L645.84 250.13 L646.83 250.7 L647.83 251.28 L648.82 251.85 L649.81 252.43 L650.81 253 L651.8 253.56 L652.79 254.12 L653.79 254.67 L654.78 255.21 L655.77 255.74 L656.77 256.26 L657.76 256.76 L658.76 257.24 L659.75 257.71 L660.74 258.15 L661.74 258.58 L662.73 258.98 L663.73 259.35 L664.72 259.7 L665.71 260.03 L666.71 260.32 L667.7 260.59 L668.69 260.83 L669.69 261.04 L670.68 261.22 L671.67 261.36 L672.67 261.48 L673.66 261.56 L674.66 261.61 L675.65 261.63 L676.64 261.64 L677.64 261.65 L678.63 261.66 L679.62 261.67 L680.62 261.68 L681.61 261.69 L682.61 261.7 L683.6 261.71 L684.59 261.73 L685.59 261.74 L686.58 261.75 L687.58 261.76 L688.57 261.77 L689.56 261.78 L690.56 261.79 L691.55 261.8 L692.54 261.82 L693.54 261.83 L694.53 261.84 L695.52 261.85 L696.52 261.86 L697.51 261.87 L698.51 261.88 L699.5 261.89 L700.49 261.91 L701.49 261.92 L702.48 261.93 L703.48 261.94 L704.47 261.95 L705.46 261.96 L706.46 261.97 L707.45 261.98 L708.44 262 L709.44 262.01 L710.43 262.02 L711.42 262.03 L712.42 262.04 L713.41 262.05 L714.41 262.06 L715.4 262.07 L716.39 262.09 L717.39 262.1 L718.38 262.11 L719.38 262.12 L720.37 262.13 L721.36 262.14 L722.36 262.15 L723.35 262.16 L724.34 262.17 L725.34 262.19 L726.33 262.2 L727.33 262.21 L728.32 262.22 L729.31 262.23 L730.31 262.24 L731.3 262.25 L732.29 262.26 L733.29 262.28 L734.28 262.29 L735.28 262.3 L736.27 262.31 L737.26 262.32 L738.26 262.33 L739.25 262.34 L740.24 262.35 L741.24 262.37 L742.23 262.38 L743.22 262.39 L744.22 262.4 L745.21 262.41 L746.21 262.42 L747.2 262.43 L748.19 262.44 L749.19 262.46 L750.18 262.47 L751.17 262.48 L752.17 262.49 L753.16 262.5 L754.16 262.51 L755.15 262.52 L756.14 262.53 L757.14 262.54 L758.13 262.56 L759.12 262.57 L760.12 262.58 L761.11 262.59 L762.11 262.6 L763.1 262.61 L764.09 262.62 L765.09 262.63 L766.08 262.65 L767.08 262.66 L768.07 262.67 L769.06 262.68 L770.06 262.69 L771.05 262.7 L772.04 262.71 L773.04 262.72 L774.03 262.74 L775.03 262.75 L776.02 262.76 L777.01 262.77 L778.01 262.78 L779 262.79" fill="none" stroke="#84f084" stroke-width="2.0" stroke-linejoin="round" stroke-linecap="round"/>
<path d="M461 230.42 L461.5 225.04 L461.99 219.76 L462.49 214.58 L462.99 209.49 L463.48 204.5 L463.98 199.61 L464.48 194.83 L464.98 190.14 L465.47 185.55 L465.97 181.06 L466.47 176.68 L466.96 172.4 L467.46 168.22 L467.96 164.15 L468.45 160.17 L468.95 156.31 L469.45 152.55 L469.94 148.9 L470.44 145.35 L470.94 141.92 L471.43 138.59 L471.93 135.37 L472.43 132.26 L472.93 129.27 L473.42 126.39 L473.92 123.62 L474.42 120.97 L474.91 118.43 L475.41 116.02 L475.91 113.72 L476.4 111.54 L476.9 109.49 L477.4 107.56 L477.89 105.75 L478.39 104.08 L478.89 102.53 L479.38 101.13 L479.88 99.85 L480.38 98.72 L480.88 97.74 L481.37 96.91 L481.87 96.23 L482.37 95.73 L482.86 95.41 L483.36 95.32 L483.86 95.41 L484.35 95.62 L484.85 95.97 L485.35 96.43 L485.84 97.02 L486.34 97.73 L486.84 98.56 L487.33 99.49 L487.83 100.54 L488.33 101.68 L488.82 102.93 L489.32 104.26 L489.82 105.68 L490.32 107.18 L490.81 108.75 L491.81 112.08 L492.8 115.59 L493.79 119.24 L494.79 122.93 L495.78 126.62 L496.77 130.21 L497.77 133.66 L498.76 136.89 L499.76 139.84 L500.75 142.46 L501.74 144.69 L502.74 146.5 L503.73 147.84 L504.73 148.7 L505.72 149.06 L506.71 148.97 L507.71 148.56 L508.7 147.85 L509.69 146.84 L510.69 145.52 L511.68 143.92 L512.67 142.03 L513.67 139.87 L514.66 137.46 L515.66 134.79 L516.65 131.9 L517.64 128.8 L518.64 125.49 L519.63 122.01 L520.62 118.37 L521.62 114.6 L522.61 110.7 L523.61 106.72 L524.6 102.66 L525.59 98.55 L526.59 94.42 L527.58 90.28 L528.58 86.17 L529.57 82.1 L530.56 78.09 L531.56 74.18 L532.55 70.38 L533.54 66.71 L534.54 63.2 L535.53 59.86 L536.52 56.71 L537.52 53.77 L538.51 51.06 L539.51 48.6 L540.5 46.39 L541.49 44.44 L542.49 42.78 L543.48 41.41 L544.48 40.33 L545.47 39.56 L546.46 39.1 L547.46 38.94 L548.45 38.98 L549.44 39.16 L550.44 39.57 L551.43 40.28 L552.42 41.32 L553.42 42.75 L554.41 44.6 L555.41 46.9 L556.4 49.67 L557.39 52.93 L558.39 56.69 L559.38 60.94 L560.38 65.67 L561.37 70.87 L562.36 76.51 L563.36 82.56 L564.35 88.99 L565.34 95.74 L566.34 102.78 L567.33 110.03 L568.33 117.45 L569.32 124.97 L570.31 132.54 L571.31 140.09 L572.3 147.56 L573.29 154.9 L574.29 162.05 L575.28 168.96 L576.27 175.59 L577.27 181.9 L578.26 187.87 L579.26 193.46 L580.25 198.67 L581.24 203.47 L582.24 207.88 L583.23 211.88 L584.23 215.49 L585.22 218.73 L586.21 221.6 L587.21 224.13 L588.2 226.35 L589.19 228.27 L590.19 229.92 L591.18 231.33 L592.17 232.52 L593.17 233.52 L594.16 234.36 L595.16 235.05 L596.15 235.61 L597.14 236.07 L598.14 236.43 L599.13 236.71 L600.12 236.92 L601.12 237.07 L602.11 237.17 L603.11 237.22 L604.1 237.25 L605.09 237.25 L606.09 237.23 L607.08 237.19 L608.08 237.14 L609.07 237.09 L610.06 237.02 L611.06 236.96 L612.05 236.89 L613.04 236.83 L614.04 236.77 L615.03 236.71 L616.02 236.67 L617.02 236.62 L618.01 236.59 L619.01 236.57 L620 236.55 L620.99 236.55 L621.99 236.57 L622.98 236.63 L623.98 236.73 L624.97 236.87 L625.96 237.05 L626.96 237.27 L627.95 237.53 L628.94 237.82 L629.94 238.15 L630.93 238.51 L631.92 238.91 L632.92 239.35 L633.91 239.81 L634.91 240.3 L635.9 240.82 L636.89 241.37 L637.89 241.95 L638.88 242.54 L639.88 243.16 L640.87 243.79 L641.86 244.44 L642.86 245.11 L643.85 245.79 L644.84 246.48 L645.84 247.18 L646.83 247.88 L647.83 248.59 L648.82 249.29 L649.81 250 L650.81 250.7 L651.8 251.4 L652.79 252.09 L653.79 252.77 L654.78 253.44 L655.77 254.09 L656.77 254.72 L657.76 255.34 L658.76 255.94 L659.75 256.51 L660.74 257.06 L661.74 257.58 L662.73 258.07 L663.73 258.53 L664.72 258.97 L665.71 259.37 L666.71 259.73 L667.7 260.06 L668.69 260.36 L669.69 260.61 L670.68 260.83 L671.67 261.01 L672.67 261.15 L673.66 261.25 L674.66 261.31 L675.65 261.33 L676.64 261.34 L677.64 261.36 L678.63 261.37 L679.62 261.38 L680.62 261.39 L681.61 261.4 L682.61 261.41 L683.6 261.42 L684.59 261.43 L685.59 261.45 L686.58 261.46 L687.58 261.47 L688.57 261.48 L689.56 261.49 L690.56 261.5 L691.55 261.51 L692.54 261.52 L693.54 261.54 L694.53 261.55 L695.52 261.56 L696.52 261.57 L697.51 261.58 L698.51 261.59 L699.5 261.6 L700.49 261.61 L701.49 261.63 L702.48 261.64 L703.48 261.65 L704.47 261.66 L705.46 261.67 L706.46 261.68 L707.45 261.69 L708.44 261.7 L709.44 261.71 L710.43 261.73 L711.42 261.74 L712.42 261.75 L713.41 261.76 L714.41 261.77 L715.4 261.78 L716.39 261.79 L717.39 261.8 L718.38 261.82 L719.38 261.83 L720.37 261.84 L721.36 261.85 L722.36 261.86 L723.35 261.87 L724.34 261.88 L725.34 261.89 L726.33 261.91 L727.33 261.92 L728.32 261.93 L729.31 261.94 L730.31 261.95 L731.3 261.96 L732.29 261.97 L733.29 261.98 L734.28 262 L735.28 262.01 L736.27 262.02 L737.26 262.03 L738.26 262.04 L739.25 262.05 L740.24 262.06 L741.24 262.07 L742.23 262.09 L743.22 262.1 L744.22 262.11 L745.21 262.12 L746.21 262.13 L747.2 262.14 L748.19 262.15 L749.19 262.16 L750.18 262.17 L751.17 262.19 L752.17 262.2 L753.16 262.21 L754.16 262.22 L755.15 262.23 L756.14 262.24 L757.14 262.25 L758.13 262.26 L759.12 262.28 L760.12 262.29 L761.11 262.3 L762.11 262.31 L763.1 262.32 L764.09 262.33 L765.09 262.34 L766.08 262.35 L767.08 262.37 L768.07 262.38 L769.06 262.39 L770.06 262.4 L771.05 262.41 L772.04 262.42 L773.04 262.43 L774.03 262.44 L775.03 262.46 L776.02 262.47 L777.01 262.48 L778.01 262.49 L779 262.5" fill="none" stroke="#c4fcc4" stroke-width="2.0" stroke-linejoin="round" stroke-linecap="round"/>
</g>
<rect x="461" y="19.5" width="318" height="247.8" fill="none" stroke="#2c2c2c" stroke-width="1.4"/>
<path d="M461 267.3v4.6 M500.75 267.3v4.6 M540.5 267.3v4.6 M580.25 267.3v4.6 M620 267.3v4.6 M659.75 267.3v4.6 M699.5 267.3v4.6 M739.25 267.3v4.6 M779 267.3v4.6 M480.88 267.3v2.6 M520.62 267.3v2.6 M560.38 267.3v2.6 M600.12 267.3v2.6 M639.88 267.3v2.6 M679.62 267.3v2.6 M719.38 267.3v2.6 M759.12 267.3v2.6 M461 262.5h-4.6 M461 213.9h-4.6 M461 165.3h-4.6 M461 116.7h-4.6 M461 68.1h-4.6 M461 19.5h-4.6 M461 238.2h-2.6 M461 189.6h-2.6 M461 141h-2.6 M461 92.4h-2.6 M461 43.8h-2.6" stroke="#2c2c2c" stroke-width="1.4" fill="none"/>
<text x="461" y="284.8" text-anchor="middle" font-family="'Liberation Sans', sans-serif" font-size="13" fill="#141414">200</text>
<text x="500.75" y="284.8" text-anchor="middle" font-family="'Liberation Sans', sans-serif" font-size="13" fill="#141414">220</text>
<text x="540.5" y="284.8" text-anchor="middle" font-family="'Liberation Sans', sans-serif" font-size="13" fill="#141414">240</text>
<text x="580.25" y="284.8" text-anchor="middle" font-family="'Liberation Sans', sans-serif" font-size="13" fill="#141414">260</text>
<text x="620" y="284.8" text-anchor="middle" font-family="'Liberation Sans', sans-serif" font-size="13" fill="#141414">280</text>
<text x="659.75" y="284.8" text-anchor="middle" font-family="'Liberation Sans', sans-serif" font-size="13" fill="#141414">300</text>
<text x="699.5" y="284.8" text-anchor="middle" font-family="'Liberation Sans', sans-serif" font-size="13" fill="#141414">320</text>
<text x="739.25" y="284.8" text-anchor="middle" font-family="'Liberation Sans', sans-serif" font-size="13" fill="#141414">340</text>
<text x="779" y="284.8" text-anchor="middle" font-family="'Liberation Sans', sans-serif" font-size="13" fill="#141414">360</text>
<text x="452" y="267.1" text-anchor="end" font-family="'Liberation Sans', sans-serif" font-size="13" fill="#141414">0.0</text>
<text x="452" y="218.5" text-anchor="end" font-family="'Liberation Sans', sans-serif" font-size="13" fill="#141414">0.5</text>
<text x="452" y="169.9" text-anchor="end" font-family="'Liberation Sans', sans-serif" font-size="13" fill="#141414">1.0</text>
<text x="452" y="121.3" text-anchor="end" font-family="'Liberation Sans', sans-serif" font-size="13" fill="#141414">1.5</text>
<text x="452" y="72.7" text-anchor="end" font-family="'Liberation Sans', sans-serif" font-size="13" fill="#141414">2.0</text>
<text x="452" y="24.1" text-anchor="end" font-family="'Liberation Sans', sans-serif" font-size="13" fill="#141414">2.5</text>
<text transform="translate(423.2 141.2) rotate(-90)" text-anchor="middle" font-family="'Liberation Serif', serif" font-weight="bold" font-size="18" fill="#000">Absorption</text>
<text x="620" y="308.8" text-anchor="middle" font-family="'Liberation Serif', serif" font-weight="bold" font-size="18.8" fill="#000">Wavelength (nm)</text>
<path d="M688.3 113.4 L695.4 133.4 L690.8 133.4 L690.8 238 L685.8 238 L685.8 133.4 L681.2 133.4 Z" fill="url(#pb_arr)"/>
<text x="743.3" y="139.9" text-anchor="end" font-family="'Liberation Serif', serif" font-size="15" fill="#000">80 min</text>
<text x="743.3" y="157.97" text-anchor="end" font-family="'Liberation Serif', serif" font-size="15" fill="#000">60 min</text>
<text x="743.3" y="176.04" text-anchor="end" font-family="'Liberation Serif', serif" font-size="15" fill="#000">40 min</text>
<text x="743.3" y="194.11" text-anchor="end" font-family="'Liberation Serif', serif" font-size="15" fill="#000">20 min</text>
<text x="743.3" y="212.18" text-anchor="end" font-family="'Liberation Serif', serif" font-size="15" fill="#000">10 min</text>
<text x="743.3" y="230.25" text-anchor="end" font-family="'Liberation Serif', serif" font-size="15" fill="#000">5 min</text>
<rect x="73.3" y="330.3" width="317.2" height="247.3" fill="url(#pbg)"/>
<text x="83" y="358.3" font-family="'Liberation Serif', serif" font-weight="bold" font-size="26" fill="#111">(c)</text>
<g clip-path="url(#clip_pc)">
<path d="M73.3 523.57 L73.8 517.85 L74.29 512.37 L74.79 507.13 L75.28 502.13 L75.78 497.39 L76.27 492.9 L76.77 488.66 L77.27 484.69 L77.76 480.98 L78.26 477.54 L78.75 474.38 L79.25 471.5 L79.74 468.91 L80.24 466.61 L80.73 464.62 L81.23 462.95 L81.73 461.61 L82.22 460.63 L82.72 460.05 L83.21 459.94 L83.71 460.04 L84.2 460.24 L84.7 460.55 L85.19 460.96 L85.69 461.48 L86.19 462.1 L86.68 462.82 L87.18 463.64 L87.67 464.56 L88.17 465.56 L88.66 466.67 L89.16 467.85 L89.66 469.13 L90.15 470.48 L90.65 471.91 L91.14 473.42 L91.64 474.99 L92.13 476.63 L92.63 478.33 L93.12 480.09 L93.62 481.89 L94.12 483.75 L94.61 485.64 L95.11 487.57 L95.6 489.52 L96.1 491.51 L96.59 493.51 L97.09 495.52 L97.59 497.54 L98.08 499.57 L98.58 501.59 L99.07 503.6 L99.57 505.6 L100.06 507.58 L100.56 509.53 L101.05 511.45 L101.55 513.34 L102.05 515.18 L102.54 516.98 L103.04 518.72 L104.03 522.04 L105.02 525.09 L106.01 527.84 L107 530.27 L107.99 532.34 L108.98 534.04 L109.98 535.34 L110.97 536.23 L111.96 536.7 L112.95 536.77 L113.94 536.68 L114.93 536.49 L115.92 536.21 L116.91 535.83 L117.91 535.36 L118.9 534.8 L119.89 534.15 L120.88 533.41 L121.87 532.59 L122.86 531.69 L123.85 530.71 L124.84 529.66 L125.84 528.55 L126.83 527.38 L127.82 526.14 L128.81 524.86 L129.8 523.53 L130.79 522.16 L131.78 520.76 L132.77 519.33 L133.77 517.88 L134.76 516.42 L135.75 514.94 L136.74 513.47 L137.73 512 L138.72 510.53 L139.71 509.09 L140.7 507.67 L141.7 506.28 L142.69 504.93 L143.68 503.62 L144.67 502.36 L145.66 501.15 L146.65 499.99 L147.64 498.91 L148.63 497.89 L149.63 496.94 L150.62 496.07 L151.61 495.28 L152.6 494.58 L153.59 493.96 L154.58 493.44 L155.57 493 L156.56 492.66 L157.56 492.42 L158.55 492.27 L159.54 492.23 L160.53 492.24 L161.52 492.3 L162.51 492.43 L163.5 492.67 L164.5 493.01 L165.49 493.48 L166.48 494.09 L167.47 494.85 L168.46 495.76 L169.45 496.84 L170.44 498.08 L171.43 499.48 L172.43 501.04 L173.42 502.75 L174.41 504.61 L175.4 506.61 L176.39 508.72 L177.38 510.95 L178.37 513.27 L179.36 515.66 L180.36 518.11 L181.35 520.59 L182.34 523.08 L183.33 525.57 L184.32 528.03 L185.31 530.45 L186.3 532.81 L187.29 535.09 L188.28 537.27 L189.28 539.35 L190.27 541.32 L191.26 543.16 L192.25 544.88 L193.24 546.46 L194.23 547.91 L195.22 549.23 L196.21 550.43 L197.21 551.49 L198.2 552.44 L199.19 553.27 L200.18 554 L201.17 554.64 L202.16 555.18 L203.15 555.65 L204.14 556.04 L205.14 556.37 L206.13 556.64 L207.12 556.87 L208.11 557.06 L209.1 557.21 L210.09 557.32 L211.08 557.4 L212.07 557.44 L213.07 557.45 L214.06 557.44 L215.05 557.4 L216.04 557.35 L217.03 557.28 L218.02 557.2 L219.01 557.11 L220 557.01 L221 556.91 L221.99 556.81 L222.98 556.7 L223.97 556.6 L224.96 556.51 L225.95 556.42 L226.94 556.34 L227.94 556.27 L228.93 556.21 L229.92 556.16 L230.91 556.13 L231.9 556.11 L232.89 556.1 L233.88 556.11 L234.87 556.13 L235.86 556.17 L236.86 556.22 L237.85 556.29 L238.84 556.37 L239.83 556.46 L240.82 556.57 L241.81 556.7 L242.8 556.83 L243.79 556.98 L244.79 557.14 L245.78 557.32 L246.77 557.5 L247.76 557.7 L248.75 557.9 L249.74 558.11 L250.73 558.33 L251.72 558.56 L252.72 558.8 L253.71 559.04 L254.7 559.29 L255.69 559.55 L256.68 559.8 L257.67 560.06 L258.66 560.32 L259.65 560.59 L260.65 560.85 L261.64 561.12 L262.63 561.38 L263.62 561.64 L264.61 561.89 L265.6 562.15 L266.59 562.4 L267.58 562.64 L268.58 562.88 L269.57 563.11 L270.56 563.33 L271.55 563.54 L272.54 563.75 L273.53 563.94 L274.52 564.12 L275.51 564.3 L276.51 564.46 L277.5 564.61 L278.49 564.74 L279.48 564.87 L280.47 564.98 L281.46 565.07 L282.45 565.15 L283.44 565.22 L284.44 565.27 L285.43 565.31 L286.42 565.33 L287.41 565.34 L288.4 565.37 L289.39 565.39 L290.38 565.42 L291.38 565.45 L292.37 565.48 L293.36 565.5 L294.35 565.53 L295.34 565.56 L296.33 565.58 L297.32 565.61 L298.31 565.64 L299.31 565.67 L300.3 565.69 L301.29 565.72 L302.28 565.75 L303.27 565.78 L304.26 565.8 L305.25 565.83 L306.24 565.86 L307.24 565.88 L308.23 565.91 L309.22 565.94 L310.21 565.97 L311.2 565.99 L312.19 566.02 L313.18 566.05 L314.17 566.07 L315.16 566.1 L316.16 566.13 L317.15 566.16 L318.14 566.18 L319.13 566.21 L320.12 566.24 L321.11 566.26 L322.1 566.29 L323.09 566.32 L324.09 566.35 L325.08 566.37 L326.07 566.4 L327.06 566.43 L328.05 566.46 L329.04 566.48 L330.03 566.51 L331.02 566.54 L332.02 566.56 L333.01 566.59 L334 566.62 L334.99 566.65 L335.98 566.67 L336.97 566.7 L337.96 566.73 L338.95 566.75 L339.95 566.78 L340.94 566.81 L341.93 566.84 L342.92 566.86 L343.91 566.89 L344.9 566.92 L345.89 566.94 L346.88 566.97 L347.88 567 L348.87 567.03 L349.86 567.05 L350.85 567.08 L351.84 567.11 L352.83 567.13 L353.82 567.16 L354.81 567.19 L355.81 567.22 L356.8 567.24 L357.79 567.27 L358.78 567.3 L359.77 567.33 L360.76 567.35 L361.75 567.38 L362.75 567.41 L363.74 567.43 L364.73 567.46 L365.72 567.49 L366.71 567.52 L367.7 567.54 L368.69 567.57 L369.68 567.6 L370.68 567.62 L371.67 567.65 L372.66 567.68 L373.65 567.71 L374.64 567.73 L375.63 567.76 L376.62 567.79 L377.61 567.81 L378.61 567.84 L379.6 567.87 L380.59 567.9 L381.58 567.92 L382.57 567.95 L383.56 567.98 L384.55 568.01 L385.54 568.03 L386.54 568.06 L387.53 568.09 L388.52 568.11 L389.51 568.14 L390.5 568.17" fill="none" stroke="#1e1e1e" stroke-width="2.0" stroke-linejoin="round" stroke-linecap="round"/>
<path d="M73.3 523.57 L73.8 517.3 L74.29 511.25 L74.79 505.41 L75.28 499.8 L75.78 494.41 L76.27 489.25 L76.77 484.32 L77.27 479.62 L77.76 475.15 L78.26 470.93 L78.75 466.94 L79.25 463.2 L79.74 459.71 L80.24 456.47 L80.73 453.5 L81.23 450.79 L81.73 448.34 L82.22 446.18 L82.72 444.31 L83.21 442.74 L83.71 441.48 L84.2 440.56 L84.7 440.01 L85.19 439.91 L85.69 440.05 L86.19 440.33 L86.68 440.77 L87.18 441.35 L87.67 442.08 L88.17 442.95 L88.66 443.96 L89.16 445.11 L89.66 446.39 L90.15 447.81 L90.65 449.35 L91.14 451.01 L91.64 452.78 L92.13 454.66 L92.63 456.65 L93.12 458.73 L93.62 460.91 L94.12 463.16 L94.61 465.5 L95.11 467.9 L95.6 470.36 L96.1 472.88 L96.59 475.44 L97.09 478.04 L97.59 480.67 L98.08 483.32 L98.58 485.98 L99.07 488.64 L99.57 491.3 L100.06 493.94 L100.56 496.56 L101.05 499.16 L101.55 501.71 L102.05 504.22 L102.54 506.67 L103.04 509.06 L104.03 513.62 L105.02 517.84 L106.01 521.67 L107 525.05 L107.99 527.95 L108.98 530.33 L109.98 532.16 L110.97 533.41 L111.96 534.07 L112.95 534.17 L113.94 534.07 L114.93 533.86 L115.92 533.53 L116.91 533.1 L117.91 532.55 L118.9 531.9 L119.89 531.15 L120.88 530.3 L121.87 529.35 L122.86 528.32 L123.85 527.19 L124.84 525.98 L125.84 524.7 L126.83 523.34 L127.82 521.92 L128.81 520.44 L129.8 518.91 L130.79 517.33 L131.78 515.71 L132.77 514.06 L133.77 512.39 L134.76 510.7 L135.75 509 L136.74 507.3 L137.73 505.6 L138.72 503.92 L139.71 502.25 L140.7 500.61 L141.7 499.01 L142.69 497.45 L143.68 495.94 L144.67 494.48 L145.66 493.09 L146.65 491.76 L147.64 490.5 L148.63 489.33 L149.63 488.24 L150.62 487.23 L151.61 486.33 L152.6 485.51 L153.59 484.8 L154.58 484.2 L155.57 483.7 L156.56 483.3 L157.56 483.02 L158.55 482.85 L159.54 482.8 L160.53 482.81 L161.52 482.88 L162.51 483.04 L163.5 483.3 L164.5 483.69 L165.49 484.22 L166.48 484.92 L167.47 485.78 L168.46 486.82 L169.45 488.04 L170.44 489.45 L171.43 491.04 L172.43 492.81 L173.42 494.76 L174.41 496.88 L175.4 499.14 L176.39 501.55 L177.38 504.08 L178.37 506.72 L179.36 509.44 L180.36 512.22 L181.35 515.04 L182.34 517.87 L183.33 520.7 L184.32 523.5 L185.31 526.25 L186.3 528.93 L187.29 531.52 L188.28 534 L189.28 536.37 L190.27 538.6 L191.26 540.7 L192.25 542.65 L193.24 544.45 L194.23 546.1 L195.22 547.6 L196.21 548.95 L197.21 550.17 L198.2 551.24 L199.19 552.19 L200.18 553.02 L201.17 553.74 L202.16 554.36 L203.15 554.89 L204.14 555.33 L205.14 555.71 L206.13 556.02 L207.12 556.28 L208.11 556.49 L209.1 556.66 L210.09 556.79 L211.08 556.88 L212.07 556.93 L213.07 556.96 L214.06 556.95 L215.05 556.92 L216.04 556.87 L217.03 556.8 L218.02 556.72 L219.01 556.63 L220 556.54 L221 556.44 L221.99 556.33 L222.98 556.23 L223.97 556.13 L224.96 556.04 L225.95 555.95 L226.94 555.87 L227.94 555.8 L228.93 555.74 L229.92 555.69 L230.91 555.66 L231.9 555.64 L232.89 555.63 L233.88 555.64 L234.87 555.66 L235.86 555.7 L236.86 555.75 L237.85 555.82 L238.84 555.91 L239.83 556 L240.82 556.12 L241.81 556.24 L242.8 556.39 L243.79 556.54 L244.79 556.7 L245.78 556.88 L246.77 557.07 L247.76 557.27 L248.75 557.48 L249.74 557.7 L250.73 557.93 L251.72 558.17 L252.72 558.41 L253.71 558.66 L254.7 558.92 L255.69 559.18 L256.68 559.44 L257.67 559.71 L258.66 559.98 L259.65 560.25 L260.65 560.53 L261.64 560.8 L262.63 561.07 L263.62 561.34 L264.61 561.6 L265.6 561.86 L266.59 562.12 L267.58 562.37 L268.58 562.61 L269.57 562.85 L270.56 563.08 L271.55 563.3 L272.54 563.51 L273.53 563.71 L274.52 563.9 L275.51 564.08 L276.51 564.24 L277.5 564.4 L278.49 564.54 L279.48 564.66 L280.47 564.78 L281.46 564.87 L282.45 564.96 L283.44 565.03 L284.44 565.08 L285.43 565.12 L286.42 565.14 L287.41 565.15 L288.4 565.18 L289.39 565.21 L290.38 565.23 L291.38 565.26 L292.37 565.29 L293.36 565.31 L294.35 565.34 L295.34 565.37 L296.33 565.4 L297.32 565.42 L298.31 565.45 L299.31 565.48 L300.3 565.51 L301.29 565.53 L302.28 565.56 L303.27 565.59 L304.26 565.61 L305.25 565.64 L306.24 565.67 L307.24 565.7 L308.23 565.72 L309.22 565.75 L310.21 565.78 L311.2 565.8 L312.19 565.83 L313.18 565.86 L314.17 565.89 L315.16 565.91 L316.16 565.94 L317.15 565.97 L318.14 565.99 L319.13 566.02 L320.12 566.05 L321.11 566.08 L322.1 566.1 L323.09 566.13 L324.09 566.16 L325.08 566.18 L326.07 566.21 L327.06 566.24 L328.05 566.27 L329.04 566.29 L330.03 566.32 L331.02 566.35 L332.02 566.38 L333.01 566.4 L334 566.43 L334.99 566.46 L335.98 566.48 L336.97 566.51 L337.96 566.54 L338.95 566.57 L339.95 566.59 L340.94 566.62 L341.93 566.65 L342.92 566.67 L343.91 566.7 L344.9 566.73 L345.89 566.76 L346.88 566.78 L347.88 566.81 L348.87 566.84 L349.86 566.86 L350.85 566.89 L351.84 566.92 L352.83 566.95 L353.82 566.97 L354.81 567 L355.81 567.03 L356.8 567.06 L357.79 567.08 L358.78 567.11 L359.77 567.14 L360.76 567.16 L361.75 567.19 L362.75 567.22 L363.74 567.25 L364.73 567.27 L365.72 567.3 L366.71 567.33 L367.7 567.35 L368.69 567.38 L369.68 567.41 L370.68 567.44 L371.67 567.46 L372.66 567.49 L373.65 567.52 L374.64 567.54 L375.63 567.57 L376.62 567.6 L377.61 567.63 L378.61 567.65 L379.6 567.68 L380.59 567.71 L381.58 567.74 L382.57 567.76 L383.56 567.79 L384.55 567.82 L385.54 567.84 L386.54 567.87 L387.53 567.9 L388.52 567.93 L389.51 567.95 L390.5 567.98" fill="none" stroke="#3c3c3c" stroke-width="2.0" stroke-linejoin="round" stroke-linecap="round"/>
<path d="M73.3 523.57 L73.8 518.04 L74.29 512.7 L74.79 507.56 L75.28 502.61 L75.78 497.86 L76.27 493.31 L76.77 488.96 L77.27 484.82 L77.76 480.88 L78.26 477.15 L78.75 473.64 L79.25 470.34 L79.74 467.27 L80.24 464.41 L80.73 461.79 L81.23 459.4 L81.73 457.24 L82.22 455.34 L82.72 453.69 L83.21 452.3 L83.71 451.19 L84.2 450.38 L84.7 449.9 L85.19 449.81 L85.69 449.93 L86.19 450.18 L86.68 450.56 L87.18 451.07 L87.67 451.71 L88.17 452.47 L88.66 453.35 L89.16 454.36 L89.66 455.48 L90.15 456.72 L90.65 458.07 L91.14 459.52 L91.64 461.07 L92.13 462.72 L92.63 464.45 L93.12 466.28 L93.62 468.18 L94.12 470.16 L94.61 472.2 L95.11 474.3 L95.6 476.45 L96.1 478.66 L96.59 480.9 L97.09 483.17 L97.59 485.47 L98.08 487.79 L98.58 490.12 L99.07 492.45 L99.57 494.77 L100.06 497.09 L100.56 499.38 L101.05 501.65 L101.55 503.88 L102.05 506.08 L102.54 508.22 L103.04 510.31 L104.03 514.3 L105.02 517.99 L106.01 521.34 L107 524.31 L107.99 526.85 L108.98 528.93 L109.98 530.53 L110.97 531.62 L111.96 532.2 L112.95 532.28 L113.94 532.16 L114.93 531.89 L115.92 531.49 L116.91 530.96 L117.91 530.29 L118.9 529.49 L119.89 528.56 L120.88 527.51 L121.87 526.34 L122.86 525.06 L123.85 523.67 L124.84 522.18 L125.84 520.59 L126.83 518.92 L127.82 517.17 L128.81 515.34 L129.8 513.45 L130.79 511.5 L131.78 509.51 L132.77 507.47 L133.77 505.41 L134.76 503.32 L135.75 501.22 L136.74 499.12 L137.73 497.03 L138.72 494.95 L139.71 492.9 L140.7 490.88 L141.7 488.9 L142.69 486.97 L143.68 485.11 L144.67 483.31 L145.66 481.59 L146.65 479.95 L147.64 478.4 L148.63 476.95 L149.63 475.6 L150.62 474.37 L151.61 473.24 L152.6 472.24 L153.59 471.37 L154.58 470.62 L155.57 470 L156.56 469.52 L157.56 469.17 L158.55 468.96 L159.54 468.89 L160.53 468.91 L161.52 468.99 L162.51 469.17 L163.5 469.48 L164.5 469.94 L165.49 470.57 L166.48 471.39 L167.47 472.4 L168.46 473.63 L169.45 475.06 L170.44 476.72 L171.43 478.59 L172.43 480.68 L173.42 482.98 L174.41 485.46 L175.4 488.13 L176.39 490.97 L177.38 493.95 L178.37 497.05 L179.36 500.25 L180.36 503.52 L181.35 506.84 L182.34 510.18 L183.33 513.51 L184.32 516.81 L185.31 520.04 L186.3 523.19 L187.29 526.24 L188.28 529.17 L189.28 531.95 L190.27 534.58 L191.26 537.05 L192.25 539.35 L193.24 541.47 L194.23 543.41 L195.22 545.18 L196.21 546.77 L197.21 548.2 L198.2 549.46 L199.19 550.58 L200.18 551.56 L201.17 552.4 L202.16 553.13 L203.15 553.76 L204.14 554.28 L205.14 554.72 L206.13 555.09 L207.12 555.4 L208.11 555.64 L209.1 555.85 L210.09 556 L211.08 556.11 L212.07 556.19 L213.07 556.23 L214.06 556.24 L215.05 556.22 L216.04 556.19 L217.03 556.14 L218.02 556.08 L219.01 556.01 L220 555.93 L221 555.84 L221.99 555.76 L222.98 555.67 L223.97 555.59 L224.96 555.51 L225.95 555.43 L226.94 555.36 L227.94 555.3 L228.93 555.25 L229.92 555.21 L230.91 555.18 L231.9 555.16 L232.89 555.16 L233.88 555.17 L234.87 555.19 L235.86 555.23 L236.86 555.28 L237.85 555.35 L238.84 555.44 L239.83 555.54 L240.82 555.66 L241.81 555.79 L242.8 555.93 L243.79 556.09 L244.79 556.25 L245.78 556.44 L246.77 556.63 L247.76 556.83 L248.75 557.05 L249.74 557.27 L250.73 557.51 L251.72 557.75 L252.72 558 L253.71 558.25 L254.7 558.51 L255.69 558.78 L256.68 559.05 L257.67 559.32 L258.66 559.6 L259.65 559.87 L260.65 560.15 L261.64 560.43 L262.63 560.7 L263.62 560.98 L264.61 561.25 L265.6 561.51 L266.59 561.77 L267.58 562.03 L268.58 562.28 L269.57 562.52 L270.56 562.75 L271.55 562.98 L272.54 563.19 L273.53 563.4 L274.52 563.59 L275.51 563.77 L276.51 563.94 L277.5 564.1 L278.49 564.24 L279.48 564.37 L280.47 564.49 L281.46 564.59 L282.45 564.67 L283.44 564.74 L284.44 564.8 L285.43 564.84 L286.42 564.86 L287.41 564.87 L288.4 564.9 L289.39 564.92 L290.38 564.95 L291.38 564.98 L292.37 565 L293.36 565.03 L294.35 565.06 L295.34 565.09 L296.33 565.11 L297.32 565.14 L298.31 565.17 L299.31 565.19 L300.3 565.22 L301.29 565.25 L302.28 565.28 L303.27 565.3 L304.26 565.33 L305.25 565.36 L306.24 565.39 L307.24 565.41 L308.23 565.44 L309.22 565.47 L310.21 565.49 L311.2 565.52 L312.19 565.55 L313.18 565.58 L314.17 565.6 L315.16 565.63 L316.16 565.66 L317.15 565.68 L318.14 565.71 L319.13 565.74 L320.12 565.77 L321.11 565.79 L322.1 565.82 L323.09 565.85 L324.09 565.87 L325.08 565.9 L326.07 565.93 L327.06 565.96 L328.05 565.98 L329.04 566.01 L330.03 566.04 L331.02 566.07 L332.02 566.09 L333.01 566.12 L334 566.15 L334.99 566.17 L335.98 566.2 L336.97 566.23 L337.96 566.26 L338.95 566.28 L339.95 566.31 L340.94 566.34 L341.93 566.36 L342.92 566.39 L343.91 566.42 L344.9 566.45 L345.89 566.47 L346.88 566.5 L347.88 566.53 L348.87 566.55 L349.86 566.58 L350.85 566.61 L351.84 566.64 L352.83 566.66 L353.82 566.69 L354.81 566.72 L355.81 566.75 L356.8 566.77 L357.79 566.8 L358.78 566.83 L359.77 566.85 L360.76 566.88 L361.75 566.91 L362.75 566.94 L363.74 566.96 L364.73 566.99 L365.72 567.02 L366.71 567.04 L367.7 567.07 L368.69 567.1 L369.68 567.13 L370.68 567.15 L371.67 567.18 L372.66 567.21 L373.65 567.23 L374.64 567.26 L375.63 567.29 L376.62 567.32 L377.61 567.34 L378.61 567.37 L379.6 567.4 L380.59 567.43 L381.58 567.45 L382.57 567.48 L383.56 567.51 L384.55 567.53 L385.54 567.56 L386.54 567.59 L387.53 567.62 L388.52 567.64 L389.51 567.67 L390.5 567.7" fill="none" stroke="#5a5a5a" stroke-width="2.0" stroke-linejoin="round" stroke-linecap="round"/>
<path d="M73.3 523.57 L73.8 517.85 L74.29 512.32 L74.79 506.98 L75.28 501.83 L75.78 496.87 L76.27 492.11 L76.77 487.55 L77.27 483.19 L77.76 479.03 L78.26 475.08 L78.75 471.34 L79.25 467.8 L79.74 464.48 L80.24 461.38 L80.73 458.5 L81.23 455.85 L81.73 453.43 L82.22 451.24 L82.72 449.3 L83.21 447.61 L83.71 446.17 L84.2 445.02 L84.7 444.15 L85.19 443.6 L85.69 443.44 L86.19 443.54 L86.68 443.78 L87.18 444.16 L87.67 444.68 L88.17 445.33 L88.66 446.13 L89.16 447.05 L89.66 448.1 L90.15 449.28 L90.65 450.59 L91.14 452.01 L91.64 453.54 L92.13 455.18 L92.63 456.92 L93.12 458.76 L93.62 460.69 L94.12 462.7 L94.61 464.79 L95.11 466.95 L95.6 469.17 L96.1 471.45 L96.59 473.78 L97.09 476.15 L97.59 478.55 L98.08 480.97 L98.58 483.41 L99.07 485.86 L99.57 488.31 L100.06 490.75 L100.56 493.18 L101.05 495.58 L101.55 497.94 L102.05 500.27 L102.54 502.55 L103.04 504.77 L104.03 509.02 L105.02 512.97 L106.01 516.55 L107 519.72 L107.99 522.44 L108.98 524.67 L109.98 526.39 L110.97 527.57 L111.96 528.19 L112.95 528.28 L113.94 528.14 L114.93 527.86 L115.92 527.42 L116.91 526.84 L117.91 526.11 L118.9 525.25 L119.89 524.25 L120.88 523.11 L121.87 521.84 L122.86 520.46 L123.85 518.96 L124.84 517.34 L125.84 515.63 L126.83 513.82 L127.82 511.92 L128.81 509.95 L129.8 507.9 L130.79 505.79 L131.78 503.64 L132.77 501.43 L133.77 499.2 L134.76 496.94 L135.75 494.68 L136.74 492.4 L137.73 490.14 L138.72 487.89 L139.71 485.67 L140.7 483.48 L141.7 481.34 L142.69 479.26 L143.68 477.24 L144.67 475.3 L145.66 473.43 L146.65 471.66 L147.64 469.99 L148.63 468.42 L149.63 466.96 L150.62 465.62 L151.61 464.41 L152.6 463.32 L153.59 462.38 L154.58 461.57 L155.57 460.9 L156.56 460.37 L157.56 460 L158.55 459.77 L159.54 459.7 L160.53 459.72 L161.52 459.81 L162.51 460.01 L163.5 460.35 L164.5 460.85 L165.49 461.55 L166.48 462.44 L167.47 463.56 L168.46 464.9 L169.45 466.49 L170.44 468.31 L171.43 470.37 L172.43 472.66 L173.42 475.18 L174.41 477.92 L175.4 480.86 L176.39 483.97 L177.38 487.25 L178.37 490.66 L179.36 494.18 L180.36 497.78 L181.35 501.42 L182.34 505.09 L183.33 508.76 L184.32 512.38 L185.31 515.94 L186.3 519.4 L187.29 522.76 L188.28 525.97 L189.28 529.03 L190.27 531.93 L191.26 534.64 L192.25 537.16 L193.24 539.49 L194.23 541.63 L195.22 543.57 L196.21 545.32 L197.21 546.89 L198.2 548.29 L199.19 549.51 L200.18 550.59 L201.17 551.52 L202.16 552.32 L203.15 553 L204.14 553.58 L205.14 554.07 L206.13 554.47 L207.12 554.81 L208.11 555.08 L209.1 555.3 L210.09 555.47 L211.08 555.6 L212.07 555.68 L213.07 555.73 L214.06 555.75 L215.05 555.74 L216.04 555.71 L217.03 555.66 L218.02 555.6 L219.01 555.53 L220 555.45 L221 555.37 L221.99 555.29 L222.98 555.2 L223.97 555.12 L224.96 555.03 L225.95 554.96 L226.94 554.89 L227.94 554.83 L228.93 554.78 L229.92 554.74 L230.91 554.71 L231.9 554.69 L232.89 554.69 L233.88 554.69 L234.87 554.72 L235.86 554.76 L236.86 554.82 L237.85 554.89 L238.84 554.97 L239.83 555.08 L240.82 555.19 L241.81 555.33 L242.8 555.47 L243.79 555.63 L244.79 555.8 L245.78 555.99 L246.77 556.19 L247.76 556.39 L248.75 556.61 L249.74 556.84 L250.73 557.08 L251.72 557.33 L252.72 557.58 L253.71 557.84 L254.7 558.11 L255.69 558.38 L256.68 558.65 L257.67 558.93 L258.66 559.21 L259.65 559.49 L260.65 559.78 L261.64 560.06 L262.63 560.34 L263.62 560.62 L264.61 560.89 L265.6 561.17 L266.59 561.43 L267.58 561.69 L268.58 561.95 L269.57 562.19 L270.56 562.43 L271.55 562.66 L272.54 562.88 L273.53 563.09 L274.52 563.28 L275.51 563.47 L276.51 563.64 L277.5 563.8 L278.49 563.95 L279.48 564.08 L280.47 564.2 L281.46 564.3 L282.45 564.39 L283.44 564.46 L284.44 564.51 L285.43 564.55 L286.42 564.58 L287.41 564.59 L288.4 564.61 L289.39 564.64 L290.38 564.67 L291.38 564.69 L292.37 564.72 L293.36 564.75 L294.35 564.78 L295.34 564.8 L296.33 564.83 L297.32 564.86 L298.31 564.88 L299.31 564.91 L300.3 564.94 L301.29 564.97 L302.28 564.99 L303.27 565.02 L304.26 565.05 L305.25 565.08 L306.24 565.1 L307.24 565.13 L308.23 565.16 L309.22 565.18 L310.21 565.21 L311.2 565.24 L312.19 565.27 L313.18 565.29 L314.17 565.32 L315.16 565.35 L316.16 565.37 L317.15 565.4 L318.14 565.43 L319.13 565.46 L320.12 565.48 L321.11 565.51 L322.1 565.54 L323.09 565.56 L324.09 565.59 L325.08 565.62 L326.07 565.65 L327.06 565.67 L328.05 565.7 L329.04 565.73 L330.03 565.76 L331.02 565.78 L332.02 565.81 L333.01 565.84 L334 565.86 L334.99 565.89 L335.98 565.92 L336.97 565.95 L337.96 565.97 L338.95 566 L339.95 566.03 L340.94 566.05 L341.93 566.08 L342.92 566.11 L343.91 566.14 L344.9 566.16 L345.89 566.19 L346.88 566.22 L347.88 566.24 L348.87 566.27 L349.86 566.3 L350.85 566.33 L351.84 566.35 L352.83 566.38 L353.82 566.41 L354.81 566.44 L355.81 566.46 L356.8 566.49 L357.79 566.52 L358.78 566.54 L359.77 566.57 L360.76 566.6 L361.75 566.63 L362.75 566.65 L363.74 566.68 L364.73 566.71 L365.72 566.73 L366.71 566.76 L367.7 566.79 L368.69 566.82 L369.68 566.84 L370.68 566.87 L371.67 566.9 L372.66 566.92 L373.65 566.95 L374.64 566.98 L375.63 567.01 L376.62 567.03 L377.61 567.06 L378.61 567.09 L379.6 567.12 L380.59 567.14 L381.58 567.17 L382.57 567.2 L383.56 567.22 L384.55 567.25 L385.54 567.28 L386.54 567.31 L387.53 567.33 L388.52 567.36 L389.51 567.39 L390.5 567.41" fill="none" stroke="#727272" stroke-width="2.0" stroke-linejoin="round" stroke-linecap="round"/>
<path d="M73.3 523.57 L73.8 517.88 L74.29 512.36 L74.79 507.02 L75.28 501.86 L75.78 496.87 L76.27 492.06 L76.77 487.43 L77.27 482.99 L77.76 478.73 L78.26 474.66 L78.75 470.78 L79.25 467.09 L79.74 463.59 L80.24 460.29 L80.73 457.2 L81.23 454.3 L81.73 451.61 L82.22 449.13 L82.72 446.87 L83.21 444.83 L83.71 443.02 L84.2 441.44 L84.7 440.1 L85.19 439.02 L85.69 438.21 L86.19 437.7 L86.68 437.55 L87.18 437.66 L87.67 437.93 L88.17 438.35 L88.66 438.94 L89.16 439.67 L89.66 440.56 L90.15 441.6 L90.65 442.78 L91.14 444.1 L91.64 445.55 L92.13 447.14 L92.63 448.85 L93.12 450.68 L93.62 452.61 L94.12 454.66 L94.61 456.8 L95.11 459.03 L95.6 461.34 L96.1 463.73 L96.59 466.18 L97.09 468.69 L97.59 471.24 L98.08 473.83 L98.58 476.45 L99.07 479.09 L99.57 481.74 L100.06 484.39 L100.56 487.02 L101.05 489.64 L101.55 492.23 L102.05 494.79 L102.54 497.29 L103.04 499.74 L104.03 504.44 L105.02 508.82 L106.01 512.8 L107 516.34 L107.99 519.38 L108.98 521.88 L109.98 523.8 L110.97 525.12 L111.96 525.82 L112.95 525.92 L113.94 525.76 L114.93 525.42 L115.92 524.9 L116.91 524.21 L117.91 523.35 L118.9 522.33 L119.89 521.14 L120.88 519.79 L121.87 518.29 L122.86 516.65 L123.85 514.87 L124.84 512.96 L125.84 510.92 L126.83 508.78 L127.82 506.53 L128.81 504.19 L129.8 501.76 L130.79 499.26 L131.78 496.7 L132.77 494.09 L133.77 491.45 L134.76 488.77 L135.75 486.08 L136.74 483.39 L137.73 480.7 L138.72 478.04 L139.71 475.4 L140.7 472.81 L141.7 470.28 L142.69 467.81 L143.68 465.41 L144.67 463.11 L145.66 460.9 L146.65 458.8 L147.64 456.81 L148.63 454.95 L149.63 453.22 L150.62 451.64 L151.61 450.2 L152.6 448.91 L153.59 447.79 L154.58 446.83 L155.57 446.03 L156.56 445.42 L157.56 444.97 L158.55 444.7 L159.54 444.61 L160.53 444.63 L161.52 444.74 L162.51 444.97 L163.5 445.36 L164.5 445.94 L165.49 446.74 L166.48 447.77 L167.47 449.05 L168.46 450.6 L169.45 452.41 L170.44 454.51 L171.43 456.87 L172.43 459.51 L173.42 462.41 L174.41 465.55 L175.4 468.93 L176.39 472.51 L177.38 476.27 L178.37 480.19 L179.36 484.23 L180.36 488.37 L181.35 492.56 L182.34 496.78 L183.33 500.99 L184.32 505.15 L185.31 509.24 L186.3 513.22 L187.29 517.08 L188.28 520.77 L189.28 524.29 L190.27 527.61 L191.26 530.73 L192.25 533.63 L193.24 536.31 L194.23 538.76 L195.22 541 L196.21 543.01 L197.21 544.81 L198.2 546.41 L199.19 547.83 L200.18 549.06 L201.17 550.13 L202.16 551.05 L203.15 551.83 L204.14 552.5 L205.14 553.06 L206.13 553.52 L207.12 553.91 L208.11 554.22 L209.1 554.48 L210.09 554.67 L211.08 554.82 L212.07 554.91 L213.07 554.97 L214.06 554.98 L215.05 554.97 L216.04 554.94 L217.03 554.89 L218.02 554.81 L219.01 554.73 L220 554.64 L221 554.54 L221.99 554.44 L222.98 554.34 L223.97 554.24 L224.96 554.15 L225.95 554.06 L226.94 553.98 L227.94 553.91 L228.93 553.85 L229.92 553.81 L230.91 553.77 L231.9 553.75 L232.89 553.74 L233.88 553.75 L234.87 553.78 L235.86 553.82 L236.86 553.88 L237.85 553.96 L238.84 554.05 L239.83 554.16 L240.82 554.29 L241.81 554.43 L242.8 554.58 L243.79 554.75 L244.79 554.94 L245.78 555.13 L246.77 555.34 L247.76 555.57 L248.75 555.8 L249.74 556.04 L250.73 556.3 L251.72 556.56 L252.72 556.83 L253.71 557.11 L254.7 557.39 L255.69 557.68 L256.68 557.97 L257.67 558.27 L258.66 558.57 L259.65 558.87 L260.65 559.17 L261.64 559.48 L262.63 559.77 L263.62 560.07 L264.61 560.37 L265.6 560.65 L266.59 560.94 L267.58 561.22 L268.58 561.49 L269.57 561.75 L270.56 562 L271.55 562.25 L272.54 562.48 L273.53 562.7 L274.52 562.91 L275.51 563.11 L276.51 563.29 L277.5 563.46 L278.49 563.62 L279.48 563.76 L280.47 563.89 L281.46 564 L282.45 564.09 L283.44 564.17 L284.44 564.23 L285.43 564.27 L286.42 564.29 L287.41 564.3 L288.4 564.33 L289.39 564.36 L290.38 564.38 L291.38 564.41 L292.37 564.44 L293.36 564.47 L294.35 564.49 L295.34 564.52 L296.33 564.55 L297.32 564.57 L298.31 564.6 L299.31 564.63 L300.3 564.66 L301.29 564.68 L302.28 564.71 L303.27 564.74 L304.26 564.77 L305.25 564.79 L306.24 564.82 L307.24 564.85 L308.23 564.87 L309.22 564.9 L310.21 564.93 L311.2 564.96 L312.19 564.98 L313.18 565.01 L314.17 565.04 L315.16 565.06 L316.16 565.09 L317.15 565.12 L318.14 565.15 L319.13 565.17 L320.12 565.2 L321.11 565.23 L322.1 565.25 L323.09 565.28 L324.09 565.31 L325.08 565.34 L326.07 565.36 L327.06 565.39 L328.05 565.42 L329.04 565.45 L330.03 565.47 L331.02 565.5 L332.02 565.53 L333.01 565.55 L334 565.58 L334.99 565.61 L335.98 565.64 L336.97 565.66 L337.96 565.69 L338.95 565.72 L339.95 565.74 L340.94 565.77 L341.93 565.8 L342.92 565.83 L343.91 565.85 L344.9 565.88 L345.89 565.91 L346.88 565.93 L347.88 565.96 L348.87 565.99 L349.86 566.02 L350.85 566.04 L351.84 566.07 L352.83 566.1 L353.82 566.13 L354.81 566.15 L355.81 566.18 L356.8 566.21 L357.79 566.23 L358.78 566.26 L359.77 566.29 L360.76 566.32 L361.75 566.34 L362.75 566.37 L363.74 566.4 L364.73 566.42 L365.72 566.45 L366.71 566.48 L367.7 566.51 L368.69 566.53 L369.68 566.56 L370.68 566.59 L371.67 566.61 L372.66 566.64 L373.65 566.67 L374.64 566.7 L375.63 566.72 L376.62 566.75 L377.61 566.78 L378.61 566.81 L379.6 566.83 L380.59 566.86 L381.58 566.89 L382.57 566.91 L383.56 566.94 L384.55 566.97 L385.54 567 L386.54 567.02 L387.53 567.05 L388.52 567.08 L389.51 567.1 L390.5 567.13" fill="none" stroke="#c4c4c4" stroke-width="2.0" stroke-linejoin="round" stroke-linecap="round"/>
<path d="M73.3 523.57 L73.8 518.14 L74.29 512.86 L74.79 507.74 L75.28 502.77 L75.78 497.96 L76.27 493.31 L76.77 488.82 L77.27 484.49 L77.76 480.33 L78.26 476.33 L78.75 472.5 L79.25 468.83 L79.74 465.34 L80.24 462.02 L80.73 458.87 L81.23 455.9 L81.73 453.11 L82.22 450.51 L82.72 448.09 L83.21 445.85 L83.71 443.82 L84.2 441.98 L84.7 440.35 L85.19 438.93 L85.69 437.72 L86.19 436.75 L86.68 436.02 L87.18 435.56 L87.67 435.43 L88.17 435.54 L88.66 435.82 L89.16 436.26 L89.66 436.86 L90.15 437.63 L90.65 438.54 L91.14 439.61 L91.64 440.83 L92.13 442.19 L92.63 443.69 L93.12 445.32 L93.62 447.08 L94.12 448.95 L94.61 450.94 L95.11 453.03 L95.6 455.22 L96.1 457.5 L96.59 459.85 L97.09 462.27 L97.59 464.76 L98.08 467.29 L98.58 469.86 L99.07 472.47 L99.57 475.09 L100.06 477.73 L100.56 480.37 L101.05 482.99 L101.55 485.6 L102.05 488.17 L102.54 490.7 L103.04 493.19 L104.03 497.96 L105.02 502.43 L106.01 506.51 L107 510.14 L107.99 513.27 L108.98 515.85 L109.98 517.84 L110.97 519.2 L111.96 519.92 L112.95 520.02 L113.94 519.84 L114.93 519.47 L115.92 518.89 L116.91 518.13 L117.91 517.17 L118.9 516.03 L119.89 514.7 L120.88 513.2 L121.87 511.54 L122.86 509.71 L123.85 507.72 L124.84 505.6 L125.84 503.33 L126.83 500.95 L127.82 498.44 L128.81 495.84 L129.8 493.14 L130.79 490.36 L131.78 487.51 L132.77 484.6 L133.77 481.66 L134.76 478.68 L135.75 475.68 L136.74 472.69 L137.73 469.7 L138.72 466.73 L139.71 463.8 L140.7 460.91 L141.7 458.09 L142.69 455.34 L143.68 452.68 L144.67 450.11 L145.66 447.65 L146.65 445.31 L147.64 443.1 L148.63 441.03 L149.63 439.11 L150.62 437.34 L151.61 435.74 L152.6 434.31 L153.59 433.06 L154.58 431.99 L155.57 431.11 L156.56 430.42 L157.56 429.93 L158.55 429.63 L159.54 429.53 L160.53 429.55 L161.52 429.67 L162.51 429.93 L163.5 430.37 L164.5 431.03 L165.49 431.93 L166.48 433.09 L167.47 434.54 L168.46 436.29 L169.45 438.34 L170.44 440.71 L171.43 443.38 L172.43 446.36 L173.42 449.63 L174.41 453.19 L175.4 457 L176.39 461.04 L177.38 465.3 L178.37 469.72 L179.36 474.29 L180.36 478.96 L181.35 483.7 L182.34 488.47 L183.33 493.22 L184.32 497.92 L185.31 502.54 L186.3 507.04 L187.29 511.39 L188.28 515.57 L189.28 519.55 L190.27 523.3 L191.26 526.82 L192.25 530.1 L193.24 533.13 L194.23 535.9 L195.22 538.42 L196.21 540.7 L197.21 542.73 L198.2 544.54 L199.19 546.14 L200.18 547.53 L201.17 548.74 L202.16 549.78 L203.15 550.67 L204.14 551.42 L205.14 552.05 L206.13 552.57 L207.12 553.01 L208.11 553.36 L209.1 553.65 L210.09 553.87 L211.08 554.03 L212.07 554.14 L213.07 554.2 L214.06 554.22 L215.05 554.21 L216.04 554.17 L217.03 554.11 L218.02 554.03 L219.01 553.93 L220 553.83 L221 553.72 L221.99 553.6 L222.98 553.49 L223.97 553.37 L224.96 553.27 L225.95 553.17 L226.94 553.07 L227.94 552.99 L228.93 552.93 L229.92 552.87 L230.91 552.83 L231.9 552.81 L232.89 552.8 L233.88 552.81 L234.87 552.84 L235.86 552.88 L236.86 552.95 L237.85 553.03 L238.84 553.13 L239.83 553.24 L240.82 553.38 L241.81 553.53 L242.8 553.69 L243.79 553.87 L244.79 554.07 L245.78 554.28 L246.77 554.5 L247.76 554.74 L248.75 554.98 L249.74 555.24 L250.73 555.51 L251.72 555.79 L252.72 556.08 L253.71 556.38 L254.7 556.68 L255.69 556.98 L256.68 557.3 L257.67 557.61 L258.66 557.93 L259.65 558.25 L260.65 558.57 L261.64 558.89 L262.63 559.21 L263.62 559.52 L264.61 559.84 L265.6 560.14 L266.59 560.45 L267.58 560.74 L268.58 561.03 L269.57 561.31 L270.56 561.58 L271.55 561.84 L272.54 562.08 L273.53 562.32 L274.52 562.54 L275.51 562.75 L276.51 562.95 L277.5 563.13 L278.49 563.3 L279.48 563.44 L280.47 563.58 L281.46 563.69 L282.45 563.79 L283.44 563.87 L284.44 563.94 L285.43 563.98 L286.42 564.01 L287.41 564.02 L288.4 564.05 L289.39 564.07 L290.38 564.1 L291.38 564.13 L292.37 564.16 L293.36 564.18 L294.35 564.21 L295.34 564.24 L296.33 564.26 L297.32 564.29 L298.31 564.32 L299.31 564.35 L300.3 564.37 L301.29 564.4 L302.28 564.43 L303.27 564.46 L304.26 564.48 L305.25 564.51 L306.24 564.54 L307.24 564.56 L308.23 564.59 L309.22 564.62 L310.21 564.65 L311.2 564.67 L312.19 564.7 L313.18 564.73 L314.17 564.75 L315.16 564.78 L316.16 564.81 L317.15 564.84 L318.14 564.86 L319.13 564.89 L320.12 564.92 L321.11 564.94 L322.1 564.97 L323.09 565 L324.09 565.03 L325.08 565.05 L326.07 565.08 L327.06 565.11 L328.05 565.14 L329.04 565.16 L330.03 565.19 L331.02 565.22 L332.02 565.24 L333.01 565.27 L334 565.3 L334.99 565.33 L335.98 565.35 L336.97 565.38 L337.96 565.41 L338.95 565.43 L339.95 565.46 L340.94 565.49 L341.93 565.52 L342.92 565.54 L343.91 565.57 L344.9 565.6 L345.89 565.62 L346.88 565.65 L347.88 565.68 L348.87 565.71 L349.86 565.73 L350.85 565.76 L351.84 565.79 L352.83 565.82 L353.82 565.84 L354.81 565.87 L355.81 565.9 L356.8 565.92 L357.79 565.95 L358.78 565.98 L359.77 566.01 L360.76 566.03 L361.75 566.06 L362.75 566.09 L363.74 566.11 L364.73 566.14 L365.72 566.17 L366.71 566.2 L367.7 566.22 L368.69 566.25 L369.68 566.28 L370.68 566.3 L371.67 566.33 L372.66 566.36 L373.65 566.39 L374.64 566.41 L375.63 566.44 L376.62 566.47 L377.61 566.49 L378.61 566.52 L379.6 566.55 L380.59 566.58 L381.58 566.6 L382.57 566.63 L383.56 566.66 L384.55 566.69 L385.54 566.71 L386.54 566.74 L387.53 566.77 L388.52 566.79 L389.51 566.82 L390.5 566.85" fill="none" stroke="#e6e6e6" stroke-width="2.0" stroke-linejoin="round" stroke-linecap="round"/>
</g>
<rect x="73.3" y="330.3" width="317.2" height="247.3" fill="none" stroke="#2c2c2c" stroke-width="1.4"/>
<path d="M73.3 577.6v4.6 M112.95 577.6v4.6 M152.6 577.6v4.6 M192.25 577.6v4.6 M231.9 577.6v4.6 M271.55 577.6v4.6 M311.2 577.6v4.6 M350.85 577.6v4.6 M390.5 577.6v4.6 M93.12 577.6v2.6 M132.77 577.6v2.6 M172.43 577.6v2.6 M212.07 577.6v2.6 M251.72 577.6v2.6 M291.38 577.6v2.6 M331.02 577.6v2.6 M370.68 577.6v2.6 M73.3 566h-4.6 M73.3 507.07h-4.6 M73.3 448.15h-4.6 M73.3 389.23h-4.6 M73.3 330.3h-4.6 M73.3 536.54h-2.6 M73.3 477.61h-2.6 M73.3 418.69h-2.6 M73.3 359.76h-2.6" stroke="#2c2c2c" stroke-width="1.4" fill="none"/>
<text x="73.3" y="595.9" text-anchor="middle" font-family="'Liberation Sans', sans-serif" font-size="13" fill="#141414">200</text>
<text x="112.95" y="595.9" text-anchor="middle" font-family="'Liberation Sans', sans-serif" font-size="13" fill="#141414">220</text>
<text x="152.6" y="595.9" text-anchor="middle" font-family="'Liberation Sans', sans-serif" font-size="13" fill="#141414">240</text>
<text x="192.25" y="595.9" text-anchor="middle" font-family="'Liberation Sans', sans-serif" font-size="13" fill="#141414">260</text>
<text x="231.9" y="595.9" text-anchor="middle" font-family="'Liberation Sans', sans-serif" font-size="13" fill="#141414">280</text>
<text x="271.55" y="595.9" text-anchor="middle" font-family="'Liberation Sans', sans-serif" font-size="13" fill="#141414">300</text>
<text x="311.2" y="595.9" text-anchor="middle" font-family="'Liberation Sans', sans-serif" font-size="13" fill="#141414">320</text>
<text x="350.85" y="595.9" text-anchor="middle" font-family="'Liberation Sans', sans-serif" font-size="13" fill="#141414">340</text>
<text x="390.5" y="595.9" text-anchor="middle" font-family="'Liberation Sans', sans-serif" font-size="13" fill="#141414">360</text>
<text x="64.3" y="570.6" text-anchor="end" font-family="'Liberation Sans', sans-serif" font-size="13" fill="#141414">0.00</text>
<text x="64.3" y="511.68" text-anchor="end" font-family="'Liberation Sans', sans-serif" font-size="13" fill="#141414">0.25</text>
<text x="64.3" y="452.75" text-anchor="end" font-family="'Liberation Sans', sans-serif" font-size="13" fill="#141414">0.50</text>
<text x="64.3" y="393.83" text-anchor="end" font-family="'Liberation Sans', sans-serif" font-size="13" fill="#141414">0.75</text>
<text x="64.3" y="334.9" text-anchor="end" font-family="'Liberation Sans', sans-serif" font-size="13" fill="#141414">1.00</text>
<text transform="translate(25.9 453.6) rotate(-90)" text-anchor="middle" font-family="'Liberation Serif', serif" font-weight="bold" font-size="18" fill="#000">Absorption</text>
<text x="231.9" y="618.5" text-anchor="middle" font-family="'Liberation Serif', serif" font-weight="bold" font-size="18.8" fill="#000">Wavelength (nm)</text>
<path d="M293.1 422.9 L300.2 442.9 L295.6 442.9 L295.6 547.5 L290.6 547.5 L290.6 442.9 L286 442.9 Z" fill="url(#pc_arr)"/>
<text x="348.1" y="449.4" text-anchor="end" font-family="'Liberation Serif', serif" font-size="15" fill="#000">80 min</text>
<text x="348.1" y="467.47" text-anchor="end" font-family="'Liberation Serif', serif" font-size="15" fill="#000">60 min</text>
<text x="348.1" y="485.54" text-anchor="end" font-family="'Liberation Serif', serif" font-size="15" fill="#000">40 min</text>
<text x="348.1" y="503.61" text-anchor="end" font-family="'Liberation Serif', serif" font-size="15" fill="#000">20 min</text>
<text x="348.1" y="521.68" text-anchor="end" font-family="'Liberation Serif', serif" font-size="15" fill="#000">10 min</text>
<text x="348.1" y="539.75" text-anchor="end" font-family="'Liberation Serif', serif" font-size="15" fill="#000">5 min</text>
<rect x="460.7" y="330.3" width="318.8" height="247.6" fill="url(#pbg)"/>
<text x="469.9" y="357.8" font-family="'Liberation Serif', serif" font-weight="bold" font-size="26" fill="#111">(d)</text>
<polyline points="479.45,513.88 498.2,501.79 535.7,471.17 610.7,428.26 685.7,388.12 760.7,348.19" fill="none" stroke="#13907f" stroke-width="2.1" stroke-linejoin="round"/>
<polyline points="479.45,539.25 498.2,529.84 535.7,515.86 610.7,489.21 685.7,461.85 760.7,433.41" fill="none" stroke="#16169c" stroke-width="2.1" stroke-linejoin="round"/>
<polyline points="479.45,548.47 498.2,544.4 535.7,539.25 610.7,535.49 685.7,530.13 760.7,524.19" fill="none" stroke="#8e8e8e" stroke-width="2.1" stroke-linejoin="round"/>
<circle cx="479.45" cy="513.88" r="3.9" fill="url(#mt)"/>
<circle cx="498.2" cy="501.79" r="3.9" fill="url(#mt)"/>
<circle cx="535.7" cy="471.17" r="3.9" fill="url(#mt)"/>
<circle cx="610.7" cy="428.26" r="3.9" fill="url(#mt)"/>
<circle cx="685.7" cy="388.12" r="3.9" fill="url(#mt)"/>
<circle cx="760.7" cy="348.19" r="3.9" fill="url(#mt)"/>
<circle cx="479.45" cy="539.25" r="3.9" fill="url(#mn)"/>
<circle cx="498.2" cy="529.84" r="3.9" fill="url(#mn)"/>
<circle cx="535.7" cy="515.86" r="3.9" fill="url(#mn)"/>
<circle cx="610.7" cy="489.21" r="3.9" fill="url(#mn)"/>
<circle cx="685.7" cy="461.85" r="3.9" fill="url(#mn)"/>
<circle cx="760.7" cy="433.41" r="3.9" fill="url(#mn)"/>
<circle cx="479.45" cy="548.47" r="3.9" fill="url(#mg)"/>
<circle cx="498.2" cy="544.4" r="3.9" fill="url(#mg)"/>
<circle cx="535.7" cy="539.25" r="3.9" fill="url(#mg)"/>
<circle cx="610.7" cy="535.49" r="3.9" fill="url(#mg)"/>
<circle cx="685.7" cy="530.13" r="3.9" fill="url(#mg)"/>
<circle cx="760.7" cy="524.19" r="3.9" fill="url(#mg)"/>
<rect x="460.7" y="330.3" width="318.8" height="247.6" fill="none" stroke="#2c2c2c" stroke-width="1.4"/>
<path d="M460.7 577.9v4.6 M498.2 577.9v4.6 M535.7 577.9v4.6 M573.2 577.9v4.6 M610.7 577.9v4.6 M648.2 577.9v4.6 M685.7 577.9v4.6 M723.2 577.9v4.6 M760.7 577.9v4.6 M479.45 577.9v2.6 M516.95 577.9v2.6 M554.45 577.9v2.6 M591.95 577.9v2.6 M629.45 577.9v2.6 M666.95 577.9v2.6 M704.45 577.9v2.6 M741.95 577.9v2.6 M779.45 577.9v2.6 M460.7 577.9h-4.6 M460.7 528.35h-4.6 M460.7 478.8h-4.6 M460.7 429.25h-4.6 M460.7 379.7h-4.6 M460.7 330.15h-4.6 M460.7 553.12h-2.6 M460.7 503.57h-2.6 M460.7 454.02h-2.6 M460.7 404.48h-2.6 M460.7 354.92h-2.6" stroke="#2c2c2c" stroke-width="1.4" fill="none"/>
<text x="460.7" y="596.1" text-anchor="middle" font-family="'Liberation Sans', sans-serif" font-size="13" fill="#141414">0</text>
<text x="498.2" y="596.1" text-anchor="middle" font-family="'Liberation Sans', sans-serif" font-size="13" fill="#141414">10</text>
<text x="535.7" y="596.1" text-anchor="middle" font-family="'Liberation Sans', sans-serif" font-size="13" fill="#141414">20</text>
<text x="573.2" y="596.1" text-anchor="middle" font-family="'Liberation Sans', sans-serif" font-size="13" fill="#141414">30</text>
<text x="610.7" y="596.1" text-anchor="middle" font-family="'Liberation Sans', sans-serif" font-size="13" fill="#141414">40</text>
<text x="648.2" y="596.1" text-anchor="middle" font-family="'Liberation Sans', sans-serif" font-size="13" fill="#141414">50</text>
<text x="685.7" y="596.1" text-anchor="middle" font-family="'Liberation Sans', sans-serif" font-size="13" fill="#141414">60</text>
<text x="723.2" y="596.1" text-anchor="middle" font-family="'Liberation Sans', sans-serif" font-size="13" fill="#141414">70</text>
<text x="760.7" y="596.1" text-anchor="middle" font-family="'Liberation Sans', sans-serif" font-size="13" fill="#141414">80</text>
<text x="452.1" y="582.5" text-anchor="end" font-family="'Liberation Sans', sans-serif" font-size="13" fill="#141414">0.0</text>
<text x="452.1" y="532.95" text-anchor="end" font-family="'Liberation Sans', sans-serif" font-size="13" fill="#141414">0.5</text>
<text x="452.1" y="483.4" text-anchor="end" font-family="'Liberation Sans', sans-serif" font-size="13" fill="#141414">1.0</text>
<text x="452.1" y="433.85" text-anchor="end" font-family="'Liberation Sans', sans-serif" font-size="13" fill="#141414">1.5</text>
<text x="452.1" y="384.3" text-anchor="end" font-family="'Liberation Sans', sans-serif" font-size="13" fill="#141414">2.0</text>
<text x="452.1" y="334.75" text-anchor="end" font-family="'Liberation Sans', sans-serif" font-size="13" fill="#141414">2.5</text>
<text x="573.8" y="372.1" textLength="129" lengthAdjust="spacingAndGlyphs" font-family="'Liberation Serif', serif" font-weight="bold" font-size="16.5" fill="#14887e">PUA/HMPP/silica</text>
<text x="651" y="436.3" textLength="86.8" lengthAdjust="spacingAndGlyphs" font-family="'Liberation Serif', serif" font-weight="bold" font-size="16.5" fill="#18189a">PUA/HMPP</text>
<text x="622.1" y="515.3" textLength="147.5" lengthAdjust="spacingAndGlyphs" font-family="'Liberation Serif', serif" font-weight="bold" font-size="16.5" fill="#8a8a8a">PUA/silica-s-HPMM</text>
<text transform="translate(427.2 453.2) rotate(-90)" text-anchor="middle" font-family="'Liberation Serif', serif" font-weight="bold" font-style="italic" font-size="18.5" fill="#000">RMI</text>
<text x="620.5" y="619.3" text-anchor="middle" font-family="'Liberation Serif', serif" font-weight="bold" font-size="18.3" fill="#000">Time (min)</text>
<rect x="25.5" y="646.7" width="754" height="426" fill="url(#ebase)"/>
<rect x="25.5" y="646.7" width="754" height="426" fill="url(#eorange)"/>
<rect x="25.5" y="646.7" width="754" height="426" fill="url(#eblue)"/>
<text x="46.7" y="1032.5" font-family="'Liberation Serif', serif" font-weight="bold" font-size="41" fill="#111">(e)</text>
<g transform="translate(75.1 691.6) rotate(19.5)">
<rect x="-1.6" y="-25" width="3.2" height="25" rx="1.2" fill="#ece4f4" stroke="#9a90b4" stroke-width="0.5"/>
<path d="M-3 -31 L3 -31 L3 -38 Q3 -42 0 -42 Q-3 -42 -3 -38 Z" fill="#a6d2ee" stroke="#4a5a9a" stroke-width="0.6"/>
<rect x="-1.7" y="-40" width="1.4" height="7" fill="#f4fbff" opacity="0.9"/>
<rect x="-5.4" y="-31.5" width="10.8" height="7" fill="#15156a"/>
<rect x="-5.4" y="-31.5" width="4" height="7" fill="#8e8ecc"/>
</g>
<path d="M72.6 696.1 C75.2 697.7 76.7 699.5 76.7 701.7 A4.1 4.1 0 0 1 68.5 701.7 C68.5 699.5 70 697.7 72.6 696.1 Z" fill="#ffffff" opacity="0.95"/>
<path d="M35.5 719.2 L52.6 746.9 L99.7 741.5 L99.7 739.7 Z" fill="#16162a"/>
<path d="M35.5 719.2 L83.1 714.2 L99.7 739.7 L52.6 744.7 Z" fill="#fdeb9c" stroke="#9a9a9a" stroke-width="0.5"/>
<path d="M35.5 719.2 L52.6 744.7 L99.7 739.7" fill="none" stroke="#16162a" stroke-width="1.6" stroke-linejoin="round"/>
<path d="M66.1 710.7 C68.7 712.3 70.2 714.1 70.2 716.3 A4.1 4.1 0 0 1 62 716.3 C62 714.1 63.5 712.3 66.1 710.7 Z" fill="#ffffff" opacity="0.95"/>
<path d="M107.9 726.7 H146.5 V723 L153.6 730.2 L146.5 737.4 V733.7 H107.9 Z" fill="#0a0a0a"/>
<path d="M172.8 703 Q191.6 719 210.5 703" fill="none" stroke="#6c98e6" stroke-width="12" stroke-linecap="round" filter="url(#blur3)" opacity="0.9"/>
<path d="M161.4 719.6 L179.8 746.1 L226.3 740.8 L226.3 739 Z" fill="#16162a"/>
<path d="M161.4 719.6 L212.3 715.3 L226.3 739 L179.8 743.9 Z" fill="#fdeb9c" stroke="#9a9a9a" stroke-width="0.5"/>
<path d="M161.4 719.6 L179.8 743.9 L226.3 739" fill="none" stroke="#16162a" stroke-width="1.6" stroke-linejoin="round"/>
<path d="M172.8 703 Q191.6 719 210.5 703" fill="none" stroke="#7430b4" stroke-width="3.8" stroke-linecap="round"/>
<text x="166.7" y="688" font-family="'Liberation Serif', serif" font-weight="bold" font-size="15" fill="#000" textLength="54" lengthAdjust="spacingAndGlyphs">UV light</text>
<text x="247.7" y="714.4" font-family="'Liberation Serif', serif" font-weight="bold" font-size="15" fill="#000" textLength="92" lengthAdjust="spacingAndGlyphs">UV-cured film</text>
<path d="M240.9 716 L213.5 723.6 M220.5 717.2 L212.6 723.8 L222.5 725.6" fill="none" stroke="#000" stroke-width="1.8" stroke-linecap="round" stroke-linejoin="round"/>
<path d="M193.9 751 H201.5 V781.5 H205.4 L197.7 792.6 L190 781.5 H193.9 Z" fill="#0a0a0a"/>
<g fill="none" stroke="#5a5244" stroke-width="0.8">
<path d="M136.5 817.5 C140 812 160 799 194.7 797.6 C224 797.6 242.5 804 242.8 812.5 C242.6 818 225 822.8 190 823 C165 823 146 819.5 140.5 818.2 C138.5 817.8 137 818.5 136.5 817.5 Z"/>
<path d="M141.5 815.5 C148 808 168 800.8 194.7 800.8 C222 800.8 237.5 805.5 237.5 810 C237.5 814.5 222 819.8 190 820 C168 820 150 817.5 141.5 815.5"/>
<path d="M154 827.6 C170 832.5 215 834 233.8 827.6"/>
<path d="M137 818.5 C141 822 146.8 830 147.5 845 L147.8 930 C150 937 170 942.7 193 942.7 C216 942.7 236 937 238.3 930 L240.5 818 C241.5 815.5 242.5 814 242.8 812.5"/>
</g>
<ellipse cx="194" cy="884.2" rx="46" ry="13.5" fill="none" stroke="#3a3a3a" stroke-width="0.9" stroke-dasharray="1.6 1.2"/>
<text x="159.3" y="891.7" font-family="'Liberation Serif', serif" font-weight="bold" font-size="14" fill="#000">C<tspan font-size="9" dy="3">2</tspan><tspan dy="-3">H</tspan><tspan font-size="9" dy="3">5</tspan><tspan dy="-3">OH</tspan></text>
<path d="M198.51 935.45h0.9 M177.98 931.71h0.9 M164.92 925.94h0.9 M159.07 930.38h0.9 M157.36 930.68h0.9 M206.28 927.29h0.9 M208.42 933.23h0.9 M156.89 932.62h0.9 M175.48 929.89h0.9 M177.4 935.17h0.9 M189.8 924.98h0.9 M198.03 936.83h0.9 M179.2 926.22h0.9 M185.65 939.79h0.9 M184.86 923.75h0.9 M206.62 932.6h0.9 M183.56 926.28h0.9 M187.12 930.91h0.9 M176.27 927.54h0.9 M191.16 938.35h0.9 M201.31 927.39h0.9 M176.96 930.64h0.9 M171.23 925.83h0.9 M195.61 923.66h0.9 M193.2 928.88h0.9 M210.91 936.19h0.9 M209.6 935.09h0.9 M184.51 934.69h0.9 M181.85 932.88h0.9 M180.74 930.46h0.9 M159.86 926.61h0.9 M231.76 926.38h0.9 M209.63 934.36h0.9 M212.19 931.03h0.9 M202.14 923.27h0.9 M160.73 925.78h0.9 M167 923.9h0.9 M165.21 932.51h0.9 M208.85 932.28h0.9 M210.87 927.01h0.9 M212.38 931.12h0.9 M221.53 936.15h0.9 M207.17 939.37h0.9 M205.06 928.95h0.9 M198.67 925.73h0.9 M170.17 935.79h0.9 M222.23 932.33h0.9 M162.09 931.29h0.9 M193.32 930.65h0.9 M172.22 925.37h0.9 M205.57 924.72h0.9 M187.72 922.93h0.9 M171.54 935.88h0.9 M206.44 931.1h0.9 M176.71 934.39h0.9 M230.56 930.27h0.9 M160.54 923.1h0.9 M197.72 937.91h0.9 M168.43 926.95h0.9 M209.67 939.02h0.9 M181.91 923.23h0.9 M223.27 927.53h0.9 M213.55 925h0.9 M209.9 937.99h0.9 M212.45 928.82h0.9 M212.41 924.65h0.9 M179.79 929.97h0.9 M224.3 924.92h0.9 M224.53 937.18h0.9 M231.76 928.99h0.9 M171.19 926.57h0.9 M210.21 931.17h0.9 M177.68 937.84h0.9 M223.9 923.75h0.9 M172.06 937.8h0.9 M222.02 927.98h0.9 M177.06 930.19h0.9 M197.62 923.82h0.9 M221.12 932.16h0.9 M216.22 926.39h0.9 M182.1 940.02h0.9 M210.34 937.97h0.9 M158.59 923.06h0.9 M213.68 927.79h0.9 M195.83 924.97h0.9 M232.26 931.55h0.9 M220.49 923.41h0.9 M192.83 923.18h0.9 M224.86 930.47h0.9 M160.42 923.45h0.9 M197.56 923.44h0.9 M169.52 930.29h0.9 M194.32 933.08h0.9 M204.02 929.08h0.9 M203.88 924.99h0.9 M176.77 937.18h0.9 M167.09 926.24h0.9 M174.2 931.11h0.9 M155.06 922.58h0.9 M191.46 925.09h0.9 M208.68 937.11h0.9 M200.67 935.2h0.9 M185.89 922.88h0.9 M189.71 929.07h0.9 M202.16 924.55h0.9 M172.99 937.48h0.9 M175.88 929.8h0.9 M228.94 927.24h0.9 M166.48 935.34h0.9 M199.8 933.62h0.9 M158.32 929.93h0.9 M155.34 926.68h0.9 M210.78 923.17h0.9 M231.73 931.16h0.9 M213.12 934.02h0.9 M191.79 938.28h0.9 M168.63 937.74h0.9 M208.4 930.47h0.9 M208.05 930.75h0.9 M216.62 924.16h0.9 M195.14 938.56h0.9 M228.27 926.19h0.9 M174.9 939.18h0.9 M182.3 923.08h0.9 M211.48 929.87h0.9 M213.09 931.06h0.9 M194.54 929.93h0.9 M177.95 939.11h0.9 M207.83 936.99h0.9 M225.76 926.75h0.9 M194.98 932.79h0.9 M164.08 936.48h0.9 M168.68 932.14h0.9 M164.99 923.39h0.9 M203.11 931.33h0.9 M208.31 937.03h0.9 M232.63 923.6h0.9 M204.87 932.96h0.9 M206.4 932.32h0.9 M199.03 938.5h0.9 M190.71 932.16h0.9 M209.59 923.7h0.9 M189.12 923.94h0.9 M165.89 922.04h0.9 M171.57 926.12h0.9 M195.78 932.83h0.9 M220.09 931.25h0.9 M225.42 929.51h0.9 M213.82 932.5h0.9 M204.28 927.14h0.9 M166.5 932.21h0.9 M233.67 922.93h0.9 M178.92 936.08h0.9 M158.11 936.19h0.9 M200.3 935.9h0.9" stroke="#9a9a9a" stroke-width="0.9" fill="none"/>
<path d="M160.1 906.9 L178 933 L224.5 928.2 L224.5 926.4 Z" fill="#16162a"/>
<path d="M160.1 906.9 L208.2 901.2 L224.5 926.4 L178 930.8 Z" fill="#fde98e" stroke="#9a9a9a" stroke-width="0.5"/>
<path d="M160.1 906.9 L178 930.8 L224.5 926.4" fill="none" stroke="#16162a" stroke-width="1.6" stroke-linejoin="round"/>
<use href="#barrd" transform="translate(281.8 836.1) rotate(-44.9)"/>
<use href="#barr" transform="translate(277.2 876.3)"/>
<use href="#barrd" transform="translate(281.6 914.5) rotate(45.1)"/>
<text transform="translate(311 780.4) rotate(-44.7)" text-anchor="middle" font-family="'Liberation Serif', serif" font-weight="bold" font-size="13.4" fill="#000" textLength="132.6" lengthAdjust="spacingAndGlyphs">Sample A: PUA/HMPP</text>
<text x="251.7" y="864.4" font-family="'Liberation Serif', serif" font-weight="bold" font-size="12.2" fill="#000" textLength="148" lengthAdjust="spacingAndGlyphs">Sample B: PUA/HMPP/silica</text>
<text transform="translate(317.9 986) rotate(43.5)" text-anchor="middle" font-family="'Liberation Serif', serif" font-weight="bold" font-size="13.4" fill="#000" textLength="179" lengthAdjust="spacingAndGlyphs">Sample C: PUA/silica-s-HMPP</text>
<rect x="405.3" y="692.5" width="104.6" height="61.7" fill="#fde3a0"/>
<rect x="405.3" y="754.2" width="104.6" height="23.3" fill="url(#gsub)"/>
<text x="460.6" y="771.5" text-anchor="middle" font-family="'Liberation Serif', serif" font-weight="bold" font-size="15" fill="#f4f4f4" textLength="59" lengthAdjust="spacingAndGlyphs">substrate</text>
<circle cx="425.3" cy="706.8" r="2.0" fill="#34489a" stroke="#5a6aa8" stroke-width="0.5"/>
<circle cx="446.3" cy="703.8" r="2.0" fill="#34489a" stroke="#5a6aa8" stroke-width="0.5"/>
<circle cx="471.4" cy="704.8" r="2.0" fill="#34489a" stroke="#5a6aa8" stroke-width="0.5"/>
<circle cx="497" cy="708.3" r="2.0" fill="#34489a" stroke="#5a6aa8" stroke-width="0.5"/>
<circle cx="423.3" cy="721.5" r="2.0" fill="#34489a" stroke="#5a6aa8" stroke-width="0.5"/>
<circle cx="447.1" cy="721.5" r="2.0" fill="#34489a" stroke="#5a6aa8" stroke-width="0.5"/>
<circle cx="466.9" cy="717.8" r="2.0" fill="#34489a" stroke="#5a6aa8" stroke-width="0.5"/>
<circle cx="478.9" cy="715.8" r="2.0" fill="#34489a" stroke="#5a6aa8" stroke-width="0.5"/>
<circle cx="435" cy="731.6" r="2.0" fill="#34489a" stroke="#5a6aa8" stroke-width="0.5"/>
<circle cx="456.1" cy="730.6" r="2.0" fill="#34489a" stroke="#5a6aa8" stroke-width="0.5"/>
<circle cx="472.6" cy="732.4" r="2.0" fill="#34489a" stroke="#5a6aa8" stroke-width="0.5"/>
<circle cx="492.5" cy="727.9" r="2.0" fill="#34489a" stroke="#5a6aa8" stroke-width="0.5"/>
<circle cx="501.5" cy="737.2" r="2.0" fill="#34489a" stroke="#5a6aa8" stroke-width="0.5"/>
<circle cx="425.3" cy="741.4" r="2.0" fill="#34489a" stroke="#5a6aa8" stroke-width="0.5"/>
<circle cx="438" cy="747.9" r="2.0" fill="#34489a" stroke="#5a6aa8" stroke-width="0.5"/>
<circle cx="453.1" cy="742.9" r="2.0" fill="#34489a" stroke="#5a6aa8" stroke-width="0.5"/>
<circle cx="474.1" cy="745.9" r="2.0" fill="#34489a" stroke="#5a6aa8" stroke-width="0.5"/>
<circle cx="482" cy="741.4" r="2.0" fill="#34489a" stroke="#5a6aa8" stroke-width="0.5"/>
<circle cx="497.7" cy="746.4" r="2.0" fill="#34489a" stroke="#5a6aa8" stroke-width="0.5"/>
<rect x="405.6" y="822.4" width="104.6" height="61.7" fill="#fde3a0"/>
<rect x="405.6" y="884.1" width="104.6" height="23.3" fill="url(#gsub)"/>
<text x="460.9" y="901.4" text-anchor="middle" font-family="'Liberation Serif', serif" font-weight="bold" font-size="15" fill="#f4f4f4" textLength="59" lengthAdjust="spacingAndGlyphs">substrate</text>
<circle cx="414.2" cy="835.4" r="3.3" fill="url(#gsil)"/>
<circle cx="410.3" cy="840.7" r="3.3" fill="url(#gsil)"/>
<circle cx="415.2" cy="841.1" r="3.3" fill="url(#gsil)"/>
<circle cx="419.8" cy="842.1" r="3.3" fill="url(#gsil)"/>
<circle cx="415.2" cy="847.4" r="3.3" fill="url(#gsil)"/>
<circle cx="438.2" cy="843.5" r="3.3" fill="url(#gsil)"/>
<circle cx="459.3" cy="840.7" r="3.3" fill="url(#gsil)"/>
<circle cx="455.4" cy="844.3" r="3.3" fill="url(#gsil)"/>
<circle cx="418.7" cy="868.4" r="3.3" fill="url(#gsil)"/>
<circle cx="416.3" cy="873.3" r="3.3" fill="url(#gsil)"/>
<circle cx="421.2" cy="872.6" r="3.3" fill="url(#gsil)"/>
<circle cx="445.4" cy="864.9" r="3.3" fill="url(#gsil)"/>
<circle cx="443" cy="868.4" r="3.3" fill="url(#gsil)"/>
<circle cx="448.9" cy="869.1" r="3.3" fill="url(#gsil)"/>
<circle cx="479.6" cy="830.7" r="3.3" fill="url(#gsil)"/>
<circle cx="485" cy="828.2" r="3.3" fill="url(#gsil)"/>
<circle cx="488.2" cy="831.1" r="3.3" fill="url(#gsil)"/>
<circle cx="488.9" cy="848.9" r="3.3" fill="url(#gsil)"/>
<circle cx="495" cy="846.4" r="3.3" fill="url(#gsil)"/>
<circle cx="465" cy="855" r="3.3" fill="url(#gsil)"/>
<circle cx="463.6" cy="861.4" r="3.3" fill="url(#gsil)"/>
<circle cx="470" cy="859.6" r="3.3" fill="url(#gsil)"/>
<circle cx="462.1" cy="875.7" r="3.3" fill="url(#gsil)"/>
<circle cx="466.8" cy="873.6" r="3.3" fill="url(#gsil)"/>
<circle cx="468.2" cy="878.2" r="3.3" fill="url(#gsil)"/>
<circle cx="503.6" cy="871.4" r="3.3" fill="url(#gsil)"/>
<circle cx="496.8" cy="874.3" r="3.3" fill="url(#gsil)"/>
<circle cx="500.7" cy="878.6" r="3.3" fill="url(#gsil)"/>
<circle cx="504.3" cy="876.4" r="3.3" fill="url(#gsil)"/>
<circle cx="424.7" cy="835.1" r="2.0" fill="#34489a" stroke="#5a6aa8" stroke-width="0.5"/>
<circle cx="445.8" cy="832.1" r="2.0" fill="#34489a" stroke="#5a6aa8" stroke-width="0.5"/>
<circle cx="423" cy="849.8" r="2.0" fill="#34489a" stroke="#5a6aa8" stroke-width="0.5"/>
<circle cx="446.5" cy="849.8" r="2.0" fill="#34489a" stroke="#5a6aa8" stroke-width="0.5"/>
<circle cx="434.2" cy="860" r="2.0" fill="#34489a" stroke="#5a6aa8" stroke-width="0.5"/>
<circle cx="455.6" cy="859" r="2.0" fill="#34489a" stroke="#5a6aa8" stroke-width="0.5"/>
<circle cx="425.1" cy="869.8" r="2.0" fill="#34489a" stroke="#5a6aa8" stroke-width="0.5"/>
<circle cx="437.3" cy="876.1" r="2.0" fill="#34489a" stroke="#5a6aa8" stroke-width="0.5"/>
<circle cx="452.4" cy="871.2" r="2.0" fill="#34489a" stroke="#5a6aa8" stroke-width="0.5"/>
<circle cx="470.7" cy="833.6" r="2.0" fill="#34489a" stroke="#5a6aa8" stroke-width="0.5"/>
<circle cx="496.4" cy="836.8" r="2.0" fill="#34489a" stroke="#5a6aa8" stroke-width="0.5"/>
<circle cx="465.7" cy="846.4" r="2.0" fill="#34489a" stroke="#5a6aa8" stroke-width="0.5"/>
<circle cx="477.9" cy="844.3" r="2.0" fill="#34489a" stroke="#5a6aa8" stroke-width="0.5"/>
<circle cx="491.4" cy="856.4" r="2.0" fill="#34489a" stroke="#5a6aa8" stroke-width="0.5"/>
<circle cx="500.7" cy="865.4" r="2.0" fill="#34489a" stroke="#5a6aa8" stroke-width="0.5"/>
<circle cx="481.1" cy="870" r="2.0" fill="#34489a" stroke="#5a6aa8" stroke-width="0.5"/>
<circle cx="473.6" cy="874.6" r="2.0" fill="#34489a" stroke="#5a6aa8" stroke-width="0.5"/>
<rect x="405.5" y="955.2" width="104.6" height="61.7" fill="#fde3a0"/>
<rect x="405.5" y="1016.9" width="104.6" height="23.3" fill="url(#gsub)"/>
<text x="460.8" y="1034.2" text-anchor="middle" font-family="'Liberation Serif', serif" font-weight="bold" font-size="15" fill="#f4f4f4" textLength="59" lengthAdjust="spacingAndGlyphs">substrate</text>
<line x1="421.3" y1="970.2" x2="425.5" y2="967.68" stroke="#55525e" stroke-width="3"/>
<line x1="421.3" y1="970.2" x2="423.82" y2="974.4" stroke="#55525e" stroke-width="3"/>
<line x1="421.3" y1="970.2" x2="417.1" y2="972.72" stroke="#55525e" stroke-width="3"/>
<line x1="421.3" y1="970.2" x2="418.78" y2="966" stroke="#55525e" stroke-width="3"/>
<circle cx="421.3" cy="970.2" r="3.7" fill="url(#gstar)"/>
<circle cx="425.5" cy="967.68" r="1.75" fill="#2c4ca6" stroke="#30407e" stroke-width="0.7"/>
<circle cx="423.82" cy="974.4" r="1.75" fill="#2c4ca6" stroke="#30407e" stroke-width="0.7"/>
<circle cx="417.1" cy="972.72" r="1.75" fill="#2c4ca6" stroke="#30407e" stroke-width="0.7"/>
<circle cx="418.78" cy="966" r="1.75" fill="#2c4ca6" stroke="#30407e" stroke-width="0.7"/>
<line x1="459.9" y1="969.2" x2="464.1" y2="966.68" stroke="#55525e" stroke-width="3"/>
<line x1="459.9" y1="969.2" x2="462.42" y2="973.4" stroke="#55525e" stroke-width="3"/>
<line x1="459.9" y1="969.2" x2="455.7" y2="971.72" stroke="#55525e" stroke-width="3"/>
<line x1="459.9" y1="969.2" x2="457.38" y2="965" stroke="#55525e" stroke-width="3"/>
<circle cx="459.9" cy="969.2" r="3.7" fill="url(#gstar)"/>
<circle cx="464.1" cy="966.68" r="1.75" fill="#2c4ca6" stroke="#30407e" stroke-width="0.7"/>
<circle cx="462.42" cy="973.4" r="1.75" fill="#2c4ca6" stroke="#30407e" stroke-width="0.7"/>
<circle cx="455.7" cy="971.72" r="1.75" fill="#2c4ca6" stroke="#30407e" stroke-width="0.7"/>
<circle cx="457.38" cy="965" r="1.75" fill="#2c4ca6" stroke="#30407e" stroke-width="0.7"/>
<line x1="494.6" y1="969.8" x2="496.28" y2="965.2" stroke="#55525e" stroke-width="3"/>
<line x1="494.6" y1="969.8" x2="499.5" y2="969.97" stroke="#55525e" stroke-width="3"/>
<line x1="494.6" y1="969.8" x2="495.95" y2="974.51" stroke="#55525e" stroke-width="3"/>
<line x1="494.6" y1="969.8" x2="490.54" y2="972.54" stroke="#55525e" stroke-width="3"/>
<line x1="494.6" y1="969.8" x2="490.74" y2="966.78" stroke="#55525e" stroke-width="3"/>
<circle cx="494.6" cy="969.8" r="3.7" fill="url(#gstar)"/>
<circle cx="496.28" cy="965.2" r="1.75" fill="#2c4ca6" stroke="#30407e" stroke-width="0.7"/>
<circle cx="499.5" cy="969.97" r="1.75" fill="#2c4ca6" stroke="#30407e" stroke-width="0.7"/>
<circle cx="495.95" cy="974.51" r="1.75" fill="#2c4ca6" stroke="#30407e" stroke-width="0.7"/>
<circle cx="490.54" cy="972.54" r="1.75" fill="#2c4ca6" stroke="#30407e" stroke-width="0.7"/>
<circle cx="490.74" cy="966.78" r="1.75" fill="#2c4ca6" stroke="#30407e" stroke-width="0.7"/>
<line x1="442" y1="988.5" x2="443.02" y2="983.71" stroke="#55525e" stroke-width="3"/>
<line x1="442" y1="988.5" x2="446.87" y2="987.99" stroke="#55525e" stroke-width="3"/>
<line x1="442" y1="988.5" x2="443.99" y2="992.98" stroke="#55525e" stroke-width="3"/>
<line x1="442" y1="988.5" x2="438.36" y2="991.78" stroke="#55525e" stroke-width="3"/>
<line x1="442" y1="988.5" x2="437.76" y2="986.05" stroke="#55525e" stroke-width="3"/>
<circle cx="442" cy="988.5" r="3.7" fill="url(#gstar)"/>
<circle cx="443.02" cy="983.71" r="1.75" fill="#2c4ca6" stroke="#30407e" stroke-width="0.7"/>
<circle cx="446.87" cy="987.99" r="1.75" fill="#2c4ca6" stroke="#30407e" stroke-width="0.7"/>
<circle cx="443.99" cy="992.98" r="1.75" fill="#2c4ca6" stroke="#30407e" stroke-width="0.7"/>
<circle cx="438.36" cy="991.78" r="1.75" fill="#2c4ca6" stroke="#30407e" stroke-width="0.7"/>
<circle cx="437.76" cy="986.05" r="1.75" fill="#2c4ca6" stroke="#30407e" stroke-width="0.7"/>
<line x1="477.1" y1="992.3" x2="481.11" y2="989.49" stroke="#55525e" stroke-width="3"/>
<line x1="477.1" y1="992.3" x2="479.91" y2="996.31" stroke="#55525e" stroke-width="3"/>
<line x1="477.1" y1="992.3" x2="473.09" y2="995.11" stroke="#55525e" stroke-width="3"/>
<line x1="477.1" y1="992.3" x2="474.29" y2="988.29" stroke="#55525e" stroke-width="3"/>
<circle cx="477.1" cy="992.3" r="3.7" fill="url(#gstar)"/>
<circle cx="481.11" cy="989.49" r="1.75" fill="#2c4ca6" stroke="#30407e" stroke-width="0.7"/>
<circle cx="479.91" cy="996.31" r="1.75" fill="#2c4ca6" stroke="#30407e" stroke-width="0.7"/>
<circle cx="473.09" cy="995.11" r="1.75" fill="#2c4ca6" stroke="#30407e" stroke-width="0.7"/>
<circle cx="474.29" cy="988.29" r="1.75" fill="#2c4ca6" stroke="#30407e" stroke-width="0.7"/>
<line x1="422" y1="1005" x2="423.27" y2="1000.27" stroke="#55525e" stroke-width="3"/>
<line x1="422" y1="1005" x2="426.89" y2="1004.74" stroke="#55525e" stroke-width="3"/>
<line x1="422" y1="1005" x2="423.76" y2="1009.57" stroke="#55525e" stroke-width="3"/>
<line x1="422" y1="1005" x2="418.19" y2="1008.08" stroke="#55525e" stroke-width="3"/>
<line x1="422" y1="1005" x2="417.89" y2="1002.33" stroke="#55525e" stroke-width="3"/>
<circle cx="422" cy="1005" r="3.7" fill="url(#gstar)"/>
<circle cx="423.27" cy="1000.27" r="1.75" fill="#2c4ca6" stroke="#30407e" stroke-width="0.7"/>
<circle cx="426.89" cy="1004.74" r="1.75" fill="#2c4ca6" stroke="#30407e" stroke-width="0.7"/>
<circle cx="423.76" cy="1009.57" r="1.75" fill="#2c4ca6" stroke="#30407e" stroke-width="0.7"/>
<circle cx="418.19" cy="1008.08" r="1.75" fill="#2c4ca6" stroke="#30407e" stroke-width="0.7"/>
<circle cx="417.89" cy="1002.33" r="1.75" fill="#2c4ca6" stroke="#30407e" stroke-width="0.7"/>
<line x1="460" y1="1006.3" x2="460" y2="1001.4" stroke="#55525e" stroke-width="3"/>
<line x1="460" y1="1006.3" x2="464.24" y2="1008.75" stroke="#55525e" stroke-width="3"/>
<line x1="460" y1="1006.3" x2="455.76" y2="1008.75" stroke="#55525e" stroke-width="3"/>
<circle cx="460" cy="1006.3" r="3.7" fill="url(#gstar)"/>
<circle cx="460" cy="1001.4" r="1.75" fill="#2c4ca6" stroke="#30407e" stroke-width="0.7"/>
<circle cx="464.24" cy="1008.75" r="1.75" fill="#2c4ca6" stroke="#30407e" stroke-width="0.7"/>
<circle cx="455.76" cy="1008.75" r="1.75" fill="#2c4ca6" stroke="#30407e" stroke-width="0.7"/>
<line x1="497.6" y1="1004.6" x2="500.05" y2="1000.36" stroke="#55525e" stroke-width="3"/>
<line x1="497.6" y1="1004.6" x2="502.39" y2="1005.62" stroke="#55525e" stroke-width="3"/>
<line x1="497.6" y1="1004.6" x2="498.11" y2="1009.47" stroke="#55525e" stroke-width="3"/>
<line x1="497.6" y1="1004.6" x2="493.12" y2="1006.59" stroke="#55525e" stroke-width="3"/>
<line x1="497.6" y1="1004.6" x2="494.32" y2="1000.96" stroke="#55525e" stroke-width="3"/>
<circle cx="497.6" cy="1004.6" r="3.7" fill="url(#gstar)"/>
<circle cx="500.05" cy="1000.36" r="1.75" fill="#2c4ca6" stroke="#30407e" stroke-width="0.7"/>
<circle cx="502.39" cy="1005.62" r="1.75" fill="#2c4ca6" stroke="#30407e" stroke-width="0.7"/>
<circle cx="498.11" cy="1009.47" r="1.75" fill="#2c4ca6" stroke="#30407e" stroke-width="0.7"/>
<circle cx="493.12" cy="1006.59" r="1.75" fill="#2c4ca6" stroke="#30407e" stroke-width="0.7"/>
<circle cx="494.32" cy="1000.96" r="1.75" fill="#2c4ca6" stroke="#30407e" stroke-width="0.7"/>
<circle cx="428.6" cy="794.3" r="2.0" fill="#34489a" stroke="#5a6aa8" stroke-width="0.5"/>
<text x="445.1" y="798.5" font-family="'Liberation Serif', serif" font-weight="bold" font-size="13.5" fill="#000" textLength="40.6" lengthAdjust="spacingAndGlyphs">HMPP</text>
<circle cx="427.6" cy="927.6" r="3.6" fill="url(#gsil)"/>
<text x="447.1" y="932.1" font-family="'Liberation Serif', serif" font-weight="bold" font-size="13.5" fill="#000" textLength="29.3" lengthAdjust="spacingAndGlyphs">silica</text>
<line x1="419.6" y1="1054" x2="420.45" y2="1049.17" stroke="#55525e" stroke-width="3"/>
<line x1="419.6" y1="1054" x2="424.45" y2="1053.32" stroke="#55525e" stroke-width="3"/>
<line x1="419.6" y1="1054" x2="421.75" y2="1058.4" stroke="#55525e" stroke-width="3"/>
<line x1="419.6" y1="1054" x2="416.08" y2="1057.4" stroke="#55525e" stroke-width="3"/>
<line x1="419.6" y1="1054" x2="415.27" y2="1051.7" stroke="#55525e" stroke-width="3"/>
<circle cx="419.6" cy="1054" r="3.7" fill="url(#gstar)"/>
<circle cx="420.45" cy="1049.17" r="1.75" fill="#2c4ca6" stroke="#30407e" stroke-width="0.7"/>
<circle cx="424.45" cy="1053.32" r="1.75" fill="#2c4ca6" stroke="#30407e" stroke-width="0.7"/>
<circle cx="421.75" cy="1058.4" r="1.75" fill="#2c4ca6" stroke="#30407e" stroke-width="0.7"/>
<circle cx="416.08" cy="1057.4" r="1.75" fill="#2c4ca6" stroke="#30407e" stroke-width="0.7"/>
<circle cx="415.27" cy="1051.7" r="1.75" fill="#2c4ca6" stroke="#30407e" stroke-width="0.7"/>
<text x="442" y="1060.2" font-family="'Liberation Serif', serif" font-weight="bold" font-size="13.5" fill="#000" textLength="83.7" lengthAdjust="spacingAndGlyphs">silica-s-HMPP</text>
<text x="542.7" y="722.7" font-family="'Liberation Serif', serif" font-weight="bold" font-size="14" fill="#000" textLength="41.5" lengthAdjust="spacingAndGlyphs">extract</text>
<use href="#barr" transform="translate(533 736.5)"/>
<text x="542" y="850.9" font-family="'Liberation Serif', serif" font-weight="bold" font-size="14" fill="#000" textLength="41.5" lengthAdjust="spacingAndGlyphs">extract</text>
<use href="#barr" transform="translate(533 862.1)"/>
<text x="542" y="983.8" font-family="'Liberation Serif', serif" font-weight="bold" font-size="14" fill="#000" textLength="41.5" lengthAdjust="spacingAndGlyphs">extract</text>
<use href="#barr" transform="translate(533 996.7)"/>
<rect x="638.1" y="693.3" width="104.6" height="61.7" fill="#fde3a0"/>
<rect x="638.1" y="755" width="104.6" height="23.3" fill="url(#gsub)"/>
<text x="693.4" y="772.3" text-anchor="middle" font-family="'Liberation Serif', serif" font-weight="bold" font-size="15" fill="#f4f4f4" textLength="59" lengthAdjust="spacingAndGlyphs">substrate</text>
<circle cx="644" cy="695.2" r="2.0" fill="#34489a" stroke="#5a6aa8" stroke-width="0.5"/>
<circle cx="658.3" cy="697.6" r="2.0" fill="#34489a" stroke="#5a6aa8" stroke-width="0.5"/>
<circle cx="679.8" cy="694.5" r="2.0" fill="#34489a" stroke="#5a6aa8" stroke-width="0.5"/>
<circle cx="704.3" cy="692.9" r="2.0" fill="#34489a" stroke="#5a6aa8" stroke-width="0.5"/>
<circle cx="729.8" cy="696.9" r="2.0" fill="#34489a" stroke="#5a6aa8" stroke-width="0.5"/>
<circle cx="638.8" cy="707.1" r="2.0" fill="#34489a" stroke="#5a6aa8" stroke-width="0.5"/>
<circle cx="648.8" cy="706.4" r="2.0" fill="#34489a" stroke="#5a6aa8" stroke-width="0.5"/>
<circle cx="671.9" cy="705.2" r="2.0" fill="#34489a" stroke="#5a6aa8" stroke-width="0.5"/>
<circle cx="693.6" cy="703.6" r="2.0" fill="#34489a" stroke="#5a6aa8" stroke-width="0.5"/>
<circle cx="718.3" cy="704" r="2.0" fill="#34489a" stroke="#5a6aa8" stroke-width="0.5"/>
<circle cx="741.7" cy="710" r="2.0" fill="#34489a" stroke="#5a6aa8" stroke-width="0.5"/>
<circle cx="650" cy="719" r="2.0" fill="#34489a" stroke="#5a6aa8" stroke-width="0.5"/>
<circle cx="736.9" cy="720.7" r="2.0" fill="#34489a" stroke="#5a6aa8" stroke-width="0.5"/>
<circle cx="638.1" cy="726.7" r="2.0" fill="#34489a" stroke="#5a6aa8" stroke-width="0.5"/>
<circle cx="742.9" cy="728.3" r="2.0" fill="#34489a" stroke="#5a6aa8" stroke-width="0.5"/>
<circle cx="645.2" cy="737.4" r="2.0" fill="#34489a" stroke="#5a6aa8" stroke-width="0.5"/>
<circle cx="738.6" cy="738.1" r="2.0" fill="#34489a" stroke="#5a6aa8" stroke-width="0.5"/>
<circle cx="642.1" cy="748.1" r="2.0" fill="#34489a" stroke="#5a6aa8" stroke-width="0.5"/>
<circle cx="741.7" cy="749.3" r="2.0" fill="#34489a" stroke="#5a6aa8" stroke-width="0.5"/>
<use href="#rarr" transform="translate(656 690.8) rotate(-90) scale(1.0)"/>
<use href="#rarr" transform="translate(691 690.8) rotate(-90) scale(1.0)"/>
<use href="#rarr" transform="translate(725 690.8) rotate(-90) scale(1.0)"/>
<use href="#rarr" transform="translate(633.3 700) rotate(180) scale(1.0)"/>
<use href="#rarr" transform="translate(748.8 700) rotate(0) scale(1.0)"/>
<use href="#rarr" transform="translate(633.3 724.8) rotate(180) scale(1.0)"/>
<use href="#rarr" transform="translate(748.8 724.8) rotate(0) scale(1.0)"/>
<use href="#rarr" transform="translate(633.3 749.3) rotate(180) scale(1.0)"/>
<use href="#rarr" transform="translate(748.8 749.3) rotate(0) scale(1.0)"/>
<rect x="638" y="824" width="104.6" height="61.7" fill="#fde3a0"/>
<rect x="638" y="885.7" width="104.6" height="23.3" fill="url(#gsub)"/>
<text x="693.3" y="903" text-anchor="middle" font-family="'Liberation Serif', serif" font-weight="bold" font-size="15" fill="#f4f4f4" textLength="59" lengthAdjust="spacingAndGlyphs">substrate</text>
<circle cx="646.6" cy="836.8" r="3.3" fill="url(#gsil)"/>
<circle cx="642.7" cy="842.1" r="3.3" fill="url(#gsil)"/>
<circle cx="647.6" cy="842.5" r="3.3" fill="url(#gsil)"/>
<circle cx="652.2" cy="843.5" r="3.3" fill="url(#gsil)"/>
<circle cx="647.6" cy="848.8" r="3.3" fill="url(#gsil)"/>
<circle cx="670.6" cy="844.9" r="3.3" fill="url(#gsil)"/>
<circle cx="691.7" cy="842.1" r="3.3" fill="url(#gsil)"/>
<circle cx="687.8" cy="845.7" r="3.3" fill="url(#gsil)"/>
<circle cx="651.1" cy="869.8" r="3.3" fill="url(#gsil)"/>
<circle cx="648.7" cy="874.7" r="3.3" fill="url(#gsil)"/>
<circle cx="653.6" cy="874" r="3.3" fill="url(#gsil)"/>
<circle cx="677.8" cy="866.3" r="3.3" fill="url(#gsil)"/>
<circle cx="675.4" cy="869.8" r="3.3" fill="url(#gsil)"/>
<circle cx="681.3" cy="870.5" r="3.3" fill="url(#gsil)"/>
<circle cx="712" cy="832.1" r="3.3" fill="url(#gsil)"/>
<circle cx="717.4" cy="829.6" r="3.3" fill="url(#gsil)"/>
<circle cx="720.6" cy="832.5" r="3.3" fill="url(#gsil)"/>
<circle cx="721.3" cy="850.3" r="3.3" fill="url(#gsil)"/>
<circle cx="727.4" cy="847.8" r="3.3" fill="url(#gsil)"/>
<circle cx="697.4" cy="856.4" r="3.3" fill="url(#gsil)"/>
<circle cx="696" cy="862.8" r="3.3" fill="url(#gsil)"/>
<circle cx="702.4" cy="861" r="3.3" fill="url(#gsil)"/>
<circle cx="694.5" cy="877.1" r="3.3" fill="url(#gsil)"/>
<circle cx="699.2" cy="875" r="3.3" fill="url(#gsil)"/>
<circle cx="700.6" cy="879.6" r="3.3" fill="url(#gsil)"/>
<circle cx="736" cy="872.8" r="3.3" fill="url(#gsil)"/>
<circle cx="729.2" cy="875.7" r="3.3" fill="url(#gsil)"/>
<circle cx="733.1" cy="880" r="3.3" fill="url(#gsil)"/>
<circle cx="736.7" cy="877.8" r="3.3" fill="url(#gsil)"/>
<circle cx="639.1" cy="828.3" r="2.0" fill="#34489a" stroke="#5a6aa8" stroke-width="0.5"/>
<circle cx="652.9" cy="825.4" r="2.0" fill="#34489a" stroke="#5a6aa8" stroke-width="0.5"/>
<circle cx="665.1" cy="827.5" r="2.0" fill="#34489a" stroke="#5a6aa8" stroke-width="0.5"/>
<circle cx="674.2" cy="824.3" r="2.0" fill="#34489a" stroke="#5a6aa8" stroke-width="0.5"/>
<circle cx="683.8" cy="828" r="2.0" fill="#34489a" stroke="#5a6aa8" stroke-width="0.5"/>
<circle cx="697.7" cy="825.4" r="2.0" fill="#34489a" stroke="#5a6aa8" stroke-width="0.5"/>
<circle cx="712.6" cy="824.5" r="2.0" fill="#34489a" stroke="#5a6aa8" stroke-width="0.5"/>
<circle cx="728.1" cy="823.9" r="2.0" fill="#34489a" stroke="#5a6aa8" stroke-width="0.5"/>
<circle cx="736" cy="826" r="2.0" fill="#34489a" stroke="#5a6aa8" stroke-width="0.5"/>
<circle cx="741.3" cy="825.6" r="2.0" fill="#34489a" stroke="#5a6aa8" stroke-width="0.5"/>
<circle cx="638" cy="848" r="2.0" fill="#34489a" stroke="#5a6aa8" stroke-width="0.5"/>
<circle cx="638" cy="856" r="2.0" fill="#34489a" stroke="#5a6aa8" stroke-width="0.5"/>
<circle cx="638" cy="874.1" r="2.0" fill="#34489a" stroke="#5a6aa8" stroke-width="0.5"/>
<circle cx="638" cy="883.7" r="2.0" fill="#34489a" stroke="#5a6aa8" stroke-width="0.5"/>
<circle cx="738.8" cy="840.7" r="2.0" fill="#34489a" stroke="#5a6aa8" stroke-width="0.5"/>
<circle cx="743.5" cy="850.7" r="2.0" fill="#34489a" stroke="#5a6aa8" stroke-width="0.5"/>
<circle cx="743.5" cy="861.4" r="2.0" fill="#34489a" stroke="#5a6aa8" stroke-width="0.5"/>
<circle cx="745.2" cy="871" r="2.0" fill="#34489a" stroke="#5a6aa8" stroke-width="0.5"/>
<circle cx="742.4" cy="882.7" r="2.0" fill="#34489a" stroke="#5a6aa8" stroke-width="0.5"/>
<use href="#rarr" transform="translate(660.8 818.8) rotate(-90) scale(1.0)"/>
<use href="#rarr" transform="translate(695.5 818.8) rotate(-90) scale(1.0)"/>
<use href="#rarr" transform="translate(729.6 818.8) rotate(-90) scale(1.0)"/>
<use href="#rarr" transform="translate(632.7 833.7) rotate(180) scale(1.0)"/>
<use href="#rarr" transform="translate(632.7 858.6) rotate(180) scale(1.0)"/>
<use href="#rarr" transform="translate(632.7 882.2) rotate(180) scale(1.0)"/>
<use href="#rarr" transform="translate(747.7 835.2) rotate(0) scale(1.0)"/>
<use href="#rarr" transform="translate(747.7 859.9) rotate(0) scale(1.0)"/>
<use href="#rarr" transform="translate(747.7 883.3) rotate(0) scale(1.0)"/>
<rect x="637.8" y="956.8" width="104.6" height="61.7" fill="#fde3a0"/>
<rect x="637.8" y="1018.5" width="104.6" height="23.3" fill="url(#gsub)"/>
<text x="693.1" y="1035.8" text-anchor="middle" font-family="'Liberation Serif', serif" font-weight="bold" font-size="15" fill="#f4f4f4" textLength="59" lengthAdjust="spacingAndGlyphs">substrate</text>
<line x1="651" y1="971.8" x2="655.2" y2="969.28" stroke="#55525e" stroke-width="3"/>
<line x1="651" y1="971.8" x2="653.52" y2="976" stroke="#55525e" stroke-width="3"/>
<line x1="651" y1="971.8" x2="646.8" y2="974.32" stroke="#55525e" stroke-width="3"/>
<line x1="651" y1="971.8" x2="648.48" y2="967.6" stroke="#55525e" stroke-width="3"/>
<circle cx="651" cy="971.8" r="3.7" fill="url(#gstar)"/>
<circle cx="655.2" cy="969.28" r="1.75" fill="#2c4ca6" stroke="#30407e" stroke-width="0.7"/>
<circle cx="653.52" cy="976" r="1.75" fill="#2c4ca6" stroke="#30407e" stroke-width="0.7"/>
<circle cx="646.8" cy="974.32" r="1.75" fill="#2c4ca6" stroke="#30407e" stroke-width="0.7"/>
<circle cx="648.48" cy="967.6" r="1.75" fill="#2c4ca6" stroke="#30407e" stroke-width="0.7"/>
<line x1="692" y1="968" x2="696.2" y2="965.48" stroke="#55525e" stroke-width="3"/>
<line x1="692" y1="968" x2="694.52" y2="972.2" stroke="#55525e" stroke-width="3"/>
<line x1="692" y1="968" x2="687.8" y2="970.52" stroke="#55525e" stroke-width="3"/>
<line x1="692" y1="968" x2="689.48" y2="963.8" stroke="#55525e" stroke-width="3"/>
<circle cx="692" cy="968" r="3.7" fill="url(#gstar)"/>
<circle cx="696.2" cy="965.48" r="1.75" fill="#2c4ca6" stroke="#30407e" stroke-width="0.7"/>
<circle cx="694.52" cy="972.2" r="1.75" fill="#2c4ca6" stroke="#30407e" stroke-width="0.7"/>
<circle cx="687.8" cy="970.52" r="1.75" fill="#2c4ca6" stroke="#30407e" stroke-width="0.7"/>
<circle cx="689.48" cy="963.8" r="1.75" fill="#2c4ca6" stroke="#30407e" stroke-width="0.7"/>
<line x1="727.7" y1="965" x2="729.38" y2="960.4" stroke="#55525e" stroke-width="3"/>
<line x1="727.7" y1="965" x2="732.6" y2="965.17" stroke="#55525e" stroke-width="3"/>
<line x1="727.7" y1="965" x2="729.05" y2="969.71" stroke="#55525e" stroke-width="3"/>
<line x1="727.7" y1="965" x2="723.64" y2="967.74" stroke="#55525e" stroke-width="3"/>
<line x1="727.7" y1="965" x2="723.84" y2="961.98" stroke="#55525e" stroke-width="3"/>
<circle cx="727.7" cy="965" r="3.7" fill="url(#gstar)"/>
<circle cx="729.38" cy="960.4" r="1.75" fill="#2c4ca6" stroke="#30407e" stroke-width="0.7"/>
<circle cx="732.6" cy="965.17" r="1.75" fill="#2c4ca6" stroke="#30407e" stroke-width="0.7"/>
<circle cx="729.05" cy="969.71" r="1.75" fill="#2c4ca6" stroke="#30407e" stroke-width="0.7"/>
<circle cx="723.64" cy="967.74" r="1.75" fill="#2c4ca6" stroke="#30407e" stroke-width="0.7"/>
<circle cx="723.84" cy="961.98" r="1.75" fill="#2c4ca6" stroke="#30407e" stroke-width="0.7"/>
<line x1="661.6" y1="988.3" x2="662.62" y2="983.51" stroke="#55525e" stroke-width="3"/>
<line x1="661.6" y1="988.3" x2="666.47" y2="987.79" stroke="#55525e" stroke-width="3"/>
<line x1="661.6" y1="988.3" x2="663.59" y2="992.78" stroke="#55525e" stroke-width="3"/>
<line x1="661.6" y1="988.3" x2="657.96" y2="991.58" stroke="#55525e" stroke-width="3"/>
<line x1="661.6" y1="988.3" x2="657.36" y2="985.85" stroke="#55525e" stroke-width="3"/>
<circle cx="661.6" cy="988.3" r="3.7" fill="url(#gstar)"/>
<circle cx="662.62" cy="983.51" r="1.75" fill="#2c4ca6" stroke="#30407e" stroke-width="0.7"/>
<circle cx="666.47" cy="987.79" r="1.75" fill="#2c4ca6" stroke="#30407e" stroke-width="0.7"/>
<circle cx="663.59" cy="992.78" r="1.75" fill="#2c4ca6" stroke="#30407e" stroke-width="0.7"/>
<circle cx="657.96" cy="991.58" r="1.75" fill="#2c4ca6" stroke="#30407e" stroke-width="0.7"/>
<circle cx="657.36" cy="985.85" r="1.75" fill="#2c4ca6" stroke="#30407e" stroke-width="0.7"/>
<line x1="721" y1="986.8" x2="725.01" y2="983.99" stroke="#55525e" stroke-width="3"/>
<line x1="721" y1="986.8" x2="723.81" y2="990.81" stroke="#55525e" stroke-width="3"/>
<line x1="721" y1="986.8" x2="716.99" y2="989.61" stroke="#55525e" stroke-width="3"/>
<line x1="721" y1="986.8" x2="718.19" y2="982.79" stroke="#55525e" stroke-width="3"/>
<circle cx="721" cy="986.8" r="3.7" fill="url(#gstar)"/>
<circle cx="725.01" cy="983.99" r="1.75" fill="#2c4ca6" stroke="#30407e" stroke-width="0.7"/>
<circle cx="723.81" cy="990.81" r="1.75" fill="#2c4ca6" stroke="#30407e" stroke-width="0.7"/>
<circle cx="716.99" cy="989.61" r="1.75" fill="#2c4ca6" stroke="#30407e" stroke-width="0.7"/>
<circle cx="718.19" cy="982.79" r="1.75" fill="#2c4ca6" stroke="#30407e" stroke-width="0.7"/>
<line x1="693.9" y1="997.4" x2="693.9" y2="992.5" stroke="#55525e" stroke-width="3"/>
<line x1="693.9" y1="997.4" x2="698.14" y2="999.85" stroke="#55525e" stroke-width="3"/>
<line x1="693.9" y1="997.4" x2="689.66" y2="999.85" stroke="#55525e" stroke-width="3"/>
<circle cx="693.9" cy="997.4" r="3.7" fill="url(#gstar)"/>
<circle cx="693.9" cy="992.5" r="1.75" fill="#2c4ca6" stroke="#30407e" stroke-width="0.7"/>
<circle cx="698.14" cy="999.85" r="1.75" fill="#2c4ca6" stroke="#30407e" stroke-width="0.7"/>
<circle cx="689.66" cy="999.85" r="1.75" fill="#2c4ca6" stroke="#30407e" stroke-width="0.7"/>
<line x1="649.5" y1="1006.8" x2="650.77" y2="1002.07" stroke="#55525e" stroke-width="3"/>
<line x1="649.5" y1="1006.8" x2="654.39" y2="1006.54" stroke="#55525e" stroke-width="3"/>
<line x1="649.5" y1="1006.8" x2="651.26" y2="1011.37" stroke="#55525e" stroke-width="3"/>
<line x1="649.5" y1="1006.8" x2="645.69" y2="1009.88" stroke="#55525e" stroke-width="3"/>
<line x1="649.5" y1="1006.8" x2="645.39" y2="1004.13" stroke="#55525e" stroke-width="3"/>
<circle cx="649.5" cy="1006.8" r="3.7" fill="url(#gstar)"/>
<circle cx="650.77" cy="1002.07" r="1.75" fill="#2c4ca6" stroke="#30407e" stroke-width="0.7"/>
<circle cx="654.39" cy="1006.54" r="1.75" fill="#2c4ca6" stroke="#30407e" stroke-width="0.7"/>
<circle cx="651.26" cy="1011.37" r="1.75" fill="#2c4ca6" stroke="#30407e" stroke-width="0.7"/>
<circle cx="645.69" cy="1009.88" r="1.75" fill="#2c4ca6" stroke="#30407e" stroke-width="0.7"/>
<circle cx="645.39" cy="1004.13" r="1.75" fill="#2c4ca6" stroke="#30407e" stroke-width="0.7"/>
<line x1="730.8" y1="1006.4" x2="733.25" y2="1002.16" stroke="#55525e" stroke-width="3"/>
<line x1="730.8" y1="1006.4" x2="735.59" y2="1007.42" stroke="#55525e" stroke-width="3"/>
<line x1="730.8" y1="1006.4" x2="731.31" y2="1011.27" stroke="#55525e" stroke-width="3"/>
<line x1="730.8" y1="1006.4" x2="726.32" y2="1008.39" stroke="#55525e" stroke-width="3"/>
<line x1="730.8" y1="1006.4" x2="727.52" y2="1002.76" stroke="#55525e" stroke-width="3"/>
<circle cx="730.8" cy="1006.4" r="3.7" fill="url(#gstar)"/>
<circle cx="733.25" cy="1002.16" r="1.75" fill="#2c4ca6" stroke="#30407e" stroke-width="0.7"/>
<circle cx="735.59" cy="1007.42" r="1.75" fill="#2c4ca6" stroke="#30407e" stroke-width="0.7"/>
<circle cx="731.31" cy="1011.27" r="1.75" fill="#2c4ca6" stroke="#30407e" stroke-width="0.7"/>
<circle cx="726.32" cy="1008.39" r="1.75" fill="#2c4ca6" stroke="#30407e" stroke-width="0.7"/>
<circle cx="727.52" cy="1002.76" r="1.75" fill="#2c4ca6" stroke="#30407e" stroke-width="0.7"/>
<use href="#rarr" transform="translate(680.4 975.6) rotate(-140) scale(0.95)"/>
<use href="#rarr" transform="translate(701.5 982.5) rotate(-40) scale(0.95)"/>
<use href="#rarr" transform="translate(685.5 1003.4) rotate(180) scale(0.95)"/>
<use href="#rarr" transform="translate(705.5 1011) rotate(-40) scale(0.95)"/>
<rect x="25.5" y="646.7" width="754" height="426" fill="none" stroke="#080808" stroke-width="2.1"/>
</g>
</svg>
</body></html>
